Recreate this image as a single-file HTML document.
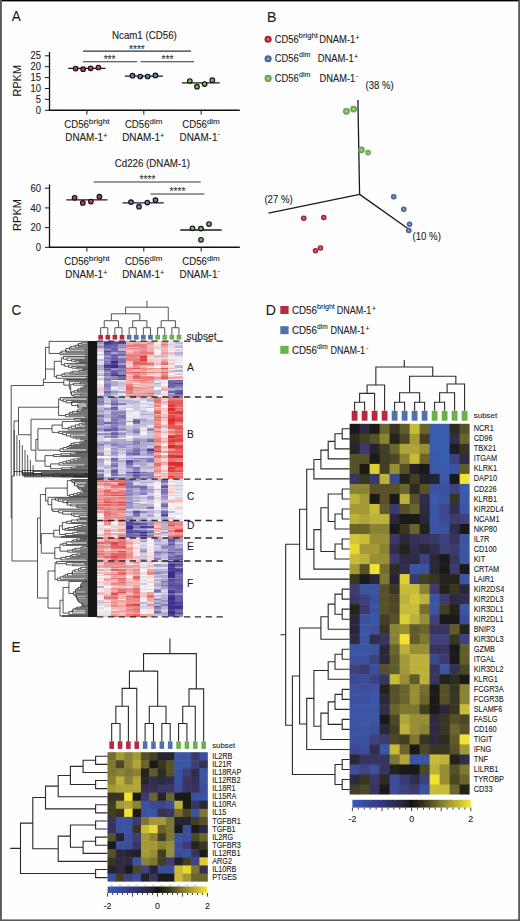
<!DOCTYPE html>
<html><head><meta charset="utf-8"><style>
html,body{margin:0;padding:0;background:#fff;}
svg{display:block;font-family:"Liberation Sans", sans-serif;}
text{stroke:#222;stroke-width:0.1px;}
</style></head><body>
<svg width="520" height="921" viewBox="0 0 520 921">
<rect width="520" height="921" fill="#fefefe"/>
<text x="11.80" y="21.40" font-size="14.5" textLength="9.0" lengthAdjust="spacingAndGlyphs" fill="#1a1a1a">A</text><text x="267.00" y="21.60" font-size="14.5" textLength="9.4" lengthAdjust="spacingAndGlyphs" fill="#1a1a1a">B</text><text x="11.50" y="314.80" font-size="14.5" textLength="9.8" lengthAdjust="spacingAndGlyphs" fill="#1a1a1a">C</text><text x="265.80" y="314.60" font-size="14.5" textLength="10.2" lengthAdjust="spacingAndGlyphs" fill="#1a1a1a">D</text><text x="11.40" y="652.00" font-size="14.5" textLength="9.0" lengthAdjust="spacingAndGlyphs" fill="#1a1a1a">E</text><line x1="49.50" y1="52.00" x2="49.50" y2="110.95" stroke="#111" stroke-width="1.3"/><line x1="48.85" y1="110.30" x2="239.80" y2="110.30" stroke="#111" stroke-width="1.4"/><line x1="44.90" y1="110.30" x2="49.50" y2="110.30" stroke="#1a1a1a" stroke-width="1"/><text x="35.75" y="113.95" font-size="10.4" textLength="5.25" lengthAdjust="spacingAndGlyphs" fill="#1a1a1a">0</text><line x1="44.90" y1="99.40" x2="49.50" y2="99.40" stroke="#1a1a1a" stroke-width="1"/><text x="35.75" y="103.05" font-size="10.4" textLength="5.25" lengthAdjust="spacingAndGlyphs" fill="#1a1a1a">5</text><line x1="44.90" y1="88.50" x2="49.50" y2="88.50" stroke="#1a1a1a" stroke-width="1"/><text x="30.50" y="92.15" font-size="10.4" textLength="10.5" lengthAdjust="spacingAndGlyphs" fill="#1a1a1a">10</text><line x1="44.90" y1="77.60" x2="49.50" y2="77.60" stroke="#1a1a1a" stroke-width="1"/><text x="30.50" y="81.25" font-size="10.4" textLength="10.5" lengthAdjust="spacingAndGlyphs" fill="#1a1a1a">15</text><line x1="44.90" y1="66.70" x2="49.50" y2="66.70" stroke="#1a1a1a" stroke-width="1"/><text x="30.50" y="70.35" font-size="10.4" textLength="10.5" lengthAdjust="spacingAndGlyphs" fill="#1a1a1a">20</text><line x1="44.90" y1="55.80" x2="49.50" y2="55.80" stroke="#1a1a1a" stroke-width="1"/><text x="30.50" y="59.45" font-size="10.4" textLength="10.5" lengthAdjust="spacingAndGlyphs" fill="#1a1a1a">25</text><line x1="86.90" y1="110.30" x2="86.90" y2="114.50" stroke="#1a1a1a" stroke-width="1"/><line x1="143.80" y1="110.30" x2="143.80" y2="114.50" stroke="#1a1a1a" stroke-width="1"/><line x1="201.20" y1="110.30" x2="201.20" y2="114.50" stroke="#1a1a1a" stroke-width="1"/><text x="0" y="0" font-size="11" text-anchor="middle" fill="#1a1a1a" transform="translate(20.6,80.80) rotate(-90)">RPKM</text><text x="64.30" y="127.65" font-size="10.0" textLength="24.7" lengthAdjust="spacingAndGlyphs" fill="#1a1a1a">CD56</text><text x="88.80" y="123.90" font-size="8.0" textLength="20.9" lengthAdjust="spacingAndGlyphs" fill="#1a1a1a">bright</text><text x="65.30" y="140.60" font-size="10.3" textLength="37.8" lengthAdjust="spacingAndGlyphs" fill="#1a1a1a">DNAM-1</text><text x="103.20" y="137.70" font-size="7.2" fill="#1a1a1a">+</text><text x="124.90" y="127.65" font-size="10.0" textLength="24.6" lengthAdjust="spacingAndGlyphs" fill="#1a1a1a">CD56</text><text x="149.50" y="123.90" font-size="8.0" textLength="12.9" lengthAdjust="spacingAndGlyphs" fill="#1a1a1a">dim</text><text x="122.20" y="140.60" font-size="10.3" textLength="37.8" lengthAdjust="spacingAndGlyphs" fill="#1a1a1a">DNAM-1</text><text x="160.10" y="137.70" font-size="7.2" fill="#1a1a1a">+</text><text x="182.30" y="127.65" font-size="10.0" textLength="24.6" lengthAdjust="spacingAndGlyphs" fill="#1a1a1a">CD56</text><text x="206.90" y="123.90" font-size="8.0" textLength="12.9" lengthAdjust="spacingAndGlyphs" fill="#1a1a1a">dim</text><text x="179.60" y="140.60" font-size="10.3" textLength="37.8" lengthAdjust="spacingAndGlyphs" fill="#1a1a1a">DNAM-1</text><text x="217.50" y="136.00" font-size="7.2" fill="#1a1a1a">-</text><text x="112.00" y="38.50" font-size="10.2" textLength="64.8" lengthAdjust="spacingAndGlyphs" fill="#1a1a1a">Ncam1 (CD56)</text><line x1="68.20" y1="68.30" x2="105.60" y2="68.30" stroke="#1a1a1a" stroke-width="1.3"/><line x1="124.80" y1="76.20" x2="162.90" y2="76.20" stroke="#1a1a1a" stroke-width="1.3"/><line x1="182.00" y1="82.90" x2="219.80" y2="82.90" stroke="#1a1a1a" stroke-width="1.3"/><circle cx="75.6" cy="68.6" r="2.3" fill="#c63c55" stroke="#111" stroke-width="1.15"/><circle cx="83.1" cy="69.2" r="2.3" fill="#c63c55" stroke="#111" stroke-width="1.15"/><circle cx="90.6" cy="68.3" r="2.3" fill="#c63c55" stroke="#111" stroke-width="1.15"/><circle cx="98.4" cy="67.5" r="2.3" fill="#c63c55" stroke="#111" stroke-width="1.15"/><circle cx="132.5" cy="75.7" r="2.3" fill="#5f82b9" stroke="#111" stroke-width="1.15"/><circle cx="140.2" cy="76.5" r="2.3" fill="#5f82b9" stroke="#111" stroke-width="1.15"/><circle cx="147.7" cy="76.5" r="2.3" fill="#5f82b9" stroke="#111" stroke-width="1.15"/><circle cx="155.4" cy="75.4" r="2.3" fill="#5f82b9" stroke="#111" stroke-width="1.15"/><circle cx="189.8" cy="81" r="2.3" fill="#6ebe5a" stroke="#111" stroke-width="1.15"/><circle cx="197" cy="86.7" r="2.3" fill="#6ebe5a" stroke="#111" stroke-width="1.15"/><circle cx="204.6" cy="84.1" r="2.3" fill="#6ebe5a" stroke="#111" stroke-width="1.15"/><circle cx="212.3" cy="80.2" r="2.3" fill="#6ebe5a" stroke="#111" stroke-width="1.15"/><line x1="83.00" y1="51.10" x2="191.00" y2="51.10" stroke="#333" stroke-width="1.1"/><line x1="83.00" y1="61.75" x2="137.00" y2="61.75" stroke="#333" stroke-width="1.1"/><line x1="140.75" y1="61.75" x2="194.00" y2="61.75" stroke="#333" stroke-width="1.1"/><text x="136.90" y="53.00" font-size="10.2" text-anchor="middle" fill="#333">****</text><text x="109.60" y="63.30" font-size="10.2" text-anchor="middle" fill="#333">***</text><text x="167.50" y="63.30" font-size="10.2" text-anchor="middle" fill="#333">***</text><line x1="49.50" y1="184.40" x2="49.50" y2="247.95" stroke="#111" stroke-width="1.3"/><line x1="48.85" y1="247.30" x2="239.80" y2="247.30" stroke="#111" stroke-width="1.4"/><line x1="44.90" y1="247.30" x2="49.50" y2="247.30" stroke="#1a1a1a" stroke-width="1"/><text x="35.75" y="250.95" font-size="10.4" textLength="5.25" lengthAdjust="spacingAndGlyphs" fill="#1a1a1a">0</text><line x1="44.90" y1="227.60" x2="49.50" y2="227.60" stroke="#1a1a1a" stroke-width="1"/><text x="30.50" y="231.25" font-size="10.4" textLength="10.5" lengthAdjust="spacingAndGlyphs" fill="#1a1a1a">20</text><line x1="44.90" y1="207.90" x2="49.50" y2="207.90" stroke="#1a1a1a" stroke-width="1"/><text x="30.50" y="211.55" font-size="10.4" textLength="10.5" lengthAdjust="spacingAndGlyphs" fill="#1a1a1a">40</text><line x1="44.90" y1="188.20" x2="49.50" y2="188.20" stroke="#1a1a1a" stroke-width="1"/><text x="30.50" y="191.85" font-size="10.4" textLength="10.5" lengthAdjust="spacingAndGlyphs" fill="#1a1a1a">60</text><line x1="86.90" y1="247.30" x2="86.90" y2="251.50" stroke="#1a1a1a" stroke-width="1"/><line x1="143.80" y1="247.30" x2="143.80" y2="251.50" stroke="#1a1a1a" stroke-width="1"/><line x1="201.20" y1="247.30" x2="201.20" y2="251.50" stroke="#1a1a1a" stroke-width="1"/><text x="0" y="0" font-size="11" text-anchor="middle" fill="#1a1a1a" transform="translate(20.6,215.00) rotate(-90)">RPKM</text><text x="64.30" y="264.65" font-size="10.0" textLength="24.7" lengthAdjust="spacingAndGlyphs" fill="#1a1a1a">CD56</text><text x="88.80" y="260.90" font-size="8.0" textLength="20.9" lengthAdjust="spacingAndGlyphs" fill="#1a1a1a">bright</text><text x="65.30" y="277.60" font-size="10.3" textLength="37.8" lengthAdjust="spacingAndGlyphs" fill="#1a1a1a">DNAM-1</text><text x="103.20" y="274.70" font-size="7.2" fill="#1a1a1a">+</text><text x="124.90" y="264.65" font-size="10.0" textLength="24.6" lengthAdjust="spacingAndGlyphs" fill="#1a1a1a">CD56</text><text x="149.50" y="260.90" font-size="8.0" textLength="12.9" lengthAdjust="spacingAndGlyphs" fill="#1a1a1a">dim</text><text x="122.20" y="277.60" font-size="10.3" textLength="37.8" lengthAdjust="spacingAndGlyphs" fill="#1a1a1a">DNAM-1</text><text x="160.10" y="274.70" font-size="7.2" fill="#1a1a1a">+</text><text x="182.30" y="264.65" font-size="10.0" textLength="24.6" lengthAdjust="spacingAndGlyphs" fill="#1a1a1a">CD56</text><text x="206.90" y="260.90" font-size="8.0" textLength="12.9" lengthAdjust="spacingAndGlyphs" fill="#1a1a1a">dim</text><text x="179.60" y="277.60" font-size="10.3" textLength="37.8" lengthAdjust="spacingAndGlyphs" fill="#1a1a1a">DNAM-1</text><text x="217.50" y="273.00" font-size="7.2" fill="#1a1a1a">-</text><text x="114.70" y="167.00" font-size="10.2" textLength="75.2" lengthAdjust="spacingAndGlyphs" fill="#1a1a1a">Cd226 (DNAM-1)</text><line x1="66.30" y1="199.80" x2="107.50" y2="199.80" stroke="#1a1a1a" stroke-width="1.3"/><line x1="122.50" y1="202.90" x2="163.80" y2="202.90" stroke="#1a1a1a" stroke-width="1.3"/><line x1="180.20" y1="230.00" x2="221.70" y2="230.00" stroke="#1a1a1a" stroke-width="1.3"/><circle cx="74.6" cy="197.8" r="2.3" fill="#c63c55" stroke="#111" stroke-width="1.15"/><circle cx="82.8" cy="202.9" r="2.3" fill="#c63c55" stroke="#111" stroke-width="1.15"/><circle cx="90.9" cy="201.5" r="2.3" fill="#c63c55" stroke="#111" stroke-width="1.15"/><circle cx="99.4" cy="196.7" r="2.3" fill="#c63c55" stroke="#111" stroke-width="1.15"/><circle cx="131" cy="202.1" r="2.3" fill="#5f82b9" stroke="#111" stroke-width="1.15"/><circle cx="139" cy="206.7" r="2.3" fill="#5f82b9" stroke="#111" stroke-width="1.15"/><circle cx="147.3" cy="202.5" r="2.3" fill="#5f82b9" stroke="#111" stroke-width="1.15"/><circle cx="155.5" cy="200.1" r="2.3" fill="#5f82b9" stroke="#111" stroke-width="1.15"/><circle cx="192.5" cy="228.3" r="2.3" fill="#6ebe5a" stroke="#111" stroke-width="1.15"/><circle cx="201" cy="228.6" r="2.3" fill="#6ebe5a" stroke="#111" stroke-width="1.15"/><circle cx="209" cy="224" r="2.3" fill="#6ebe5a" stroke="#111" stroke-width="1.15"/><circle cx="201" cy="239.8" r="2.3" fill="#6ebe5a" stroke="#111" stroke-width="1.15"/><line x1="93.75" y1="182.00" x2="200.75" y2="182.00" stroke="#333" stroke-width="1.1"/><line x1="150.50" y1="194.00" x2="204.25" y2="194.00" stroke="#333" stroke-width="1.1"/><text x="147.50" y="183.30" font-size="10.2" text-anchor="middle" fill="#333">****</text><text x="177.50" y="194.80" font-size="10.2" text-anchor="middle" fill="#333">****</text><defs><radialGradient id="gr" cx="0.5" cy="0.5" r="0.5"><stop offset="0" stop-color="#d49a9a"/><stop offset="0.5" stop-color="#b52a42"/><stop offset="1" stop-color="#9c1a32"/></radialGradient><radialGradient id="gb" cx="0.5" cy="0.5" r="0.5"><stop offset="0" stop-color="#a8b8d8"/><stop offset="0.5" stop-color="#4f6fa5"/><stop offset="1" stop-color="#3d5a90"/></radialGradient><radialGradient id="gg" cx="0.5" cy="0.5" r="0.5"><stop offset="0" stop-color="#c4e2b4"/><stop offset="0.5" stop-color="#72b25a"/><stop offset="1" stop-color="#5a9a44"/></radialGradient></defs><circle cx="268.1" cy="39.2" r="3.55" fill="url(#gr)"/><text x="274.80" y="42.60" font-size="10.0" textLength="23.9" lengthAdjust="spacingAndGlyphs" fill="#1a1a1a">CD56</text><text x="298.60" y="37.60" font-size="7.8" textLength="19.299999999999997" lengthAdjust="spacingAndGlyphs" fill="#1a1a1a">bright</text><text x="319.20" y="42.60" font-size="10.0" textLength="36.099999999999994" lengthAdjust="spacingAndGlyphs" fill="#1a1a1a">DNAM-1</text><text x="355.60" y="39.80" font-size="7.0" fill="#1a1a1a">+</text><circle cx="268.1" cy="58.8" r="3.55" fill="url(#gb)"/><text x="274.80" y="62.20" font-size="10.0" textLength="23.9" lengthAdjust="spacingAndGlyphs" fill="#1a1a1a">CD56</text><text x="299.00" y="57.20" font-size="7.8" textLength="11.4" lengthAdjust="spacingAndGlyphs" fill="#1a1a1a">dim</text><text x="317.70" y="62.20" font-size="10.0" textLength="36.0" lengthAdjust="spacingAndGlyphs" fill="#1a1a1a">DNAM-1</text><text x="354.00" y="59.40" font-size="7.0" fill="#1a1a1a">+</text><circle cx="268.1" cy="78.4" r="3.55" fill="url(#gg)"/><text x="274.80" y="81.80" font-size="10.0" textLength="23.9" lengthAdjust="spacingAndGlyphs" fill="#1a1a1a">CD56</text><text x="299.00" y="76.80" font-size="7.8" textLength="11.4" lengthAdjust="spacingAndGlyphs" fill="#1a1a1a">dim</text><text x="319.60" y="81.80" font-size="10.0" textLength="35.599999999999994" lengthAdjust="spacingAndGlyphs" fill="#1a1a1a">DNAM-1</text><text x="356.00" y="78.00" font-size="7.0" fill="#1a1a1a">-</text><line x1="359.60" y1="194.40" x2="357.90" y2="100.10" stroke="#1a1a1a" stroke-width="1.3"/><line x1="359.60" y1="194.40" x2="268.50" y2="213.20" stroke="#1a1a1a" stroke-width="1.3"/><line x1="359.60" y1="194.40" x2="407.50" y2="228.20" stroke="#1a1a1a" stroke-width="1.3"/><text x="365.60" y="89.30" font-size="10.5" textLength="28.2" lengthAdjust="spacingAndGlyphs" fill="#1a1a1a">(38 %)</text><text x="264.40" y="202.80" font-size="10.5" textLength="28.4" lengthAdjust="spacingAndGlyphs" fill="#1a1a1a">(27 %)</text><text x="412.50" y="240.10" font-size="10.5" textLength="28.4" lengthAdjust="spacingAndGlyphs" fill="#1a1a1a">(10 %)</text><circle cx="346.4" cy="111.3" r="3.4" fill="url(#gg)"/><circle cx="353.6" cy="109.1" r="3.4" fill="url(#gg)"/><circle cx="361.4" cy="149.9" r="3.3" fill="url(#gg)"/><circle cx="368.1" cy="152.6" r="2.8" fill="url(#gg)"/><circle cx="393.75" cy="196.75" r="2.8" fill="url(#gb)"/><circle cx="403.75" cy="209.25" r="2.8" fill="url(#gb)"/><circle cx="409.5" cy="224.25" r="2.8" fill="url(#gb)"/><circle cx="408.75" cy="230.5" r="2.8" fill="url(#gb)"/><circle cx="303.75" cy="218.25" r="2.8" fill="url(#gr)"/><circle cx="323.75" cy="217.5" r="2.8" fill="url(#gr)"/><circle cx="315.5" cy="250.75" r="2.8" fill="url(#gr)"/><circle cx="320.5" cy="248" r="2.8" fill="url(#gr)"/><polyline points="100.66,334.90 100.66,327.70 107.78,327.70 107.78,334.90" fill="none" stroke="#555" stroke-width="1"/><polyline points="114.89,334.90 114.89,327.70 122.01,327.70 122.01,334.90" fill="none" stroke="#555" stroke-width="1"/><polyline points="129.13,334.90 129.13,327.70 136.24,327.70 136.24,334.90" fill="none" stroke="#555" stroke-width="1"/><polyline points="143.36,334.90 143.36,327.70 150.48,327.70 150.48,334.90" fill="none" stroke="#555" stroke-width="1"/><polyline points="157.59,334.90 157.59,327.70 164.71,327.70 164.71,334.90" fill="none" stroke="#555" stroke-width="1"/><polyline points="171.83,334.90 171.83,327.70 178.95,327.70 178.95,334.90" fill="none" stroke="#555" stroke-width="1"/><polyline points="104.22,327.70 104.22,320.70 118.45,320.70 118.45,327.70" fill="none" stroke="#555" stroke-width="1"/><polyline points="132.69,327.70 132.69,320.70 146.92,320.70 146.92,327.70" fill="none" stroke="#555" stroke-width="1"/><polyline points="161.15,327.70 161.15,320.70 175.39,320.70 175.39,327.70" fill="none" stroke="#555" stroke-width="1"/><polyline points="111.33,320.70 111.33,313.80 139.80,313.80 139.80,320.70" fill="none" stroke="#555" stroke-width="1"/><polyline points="125.57,313.80 125.57,307.20 168.27,307.20 168.27,320.70" fill="none" stroke="#555" stroke-width="1"/><line x1="146.92" y1="300.80" x2="146.92" y2="307.20" stroke="#555" stroke-width="1"/><rect x="98.31" y="334.90" width="4.70" height="4.70" fill="#b8283e"/><rect x="105.43" y="334.90" width="4.70" height="4.70" fill="#b8283e"/><rect x="112.54" y="334.90" width="4.70" height="4.70" fill="#b8283e"/><rect x="119.66" y="334.90" width="4.70" height="4.70" fill="#b8283e"/><rect x="126.78" y="334.90" width="4.70" height="4.70" fill="#4f73a8"/><rect x="133.89" y="334.90" width="4.70" height="4.70" fill="#4f73a8"/><rect x="141.01" y="334.90" width="4.70" height="4.70" fill="#4f73a8"/><rect x="148.13" y="334.90" width="4.70" height="4.70" fill="#4f73a8"/><rect x="155.24" y="334.90" width="4.70" height="4.70" fill="#6ab04c"/><rect x="162.36" y="334.90" width="4.70" height="4.70" fill="#6ab04c"/><rect x="169.48" y="334.90" width="4.70" height="4.70" fill="#6ab04c"/><rect x="176.60" y="334.90" width="4.70" height="4.70" fill="#6ab04c"/><text x="186.50" y="340.00" font-size="10.2" fill="#1a1a1a">subset</text><g shape-rendering="crispEdges"><rect x="97.10" y="341.00" width="7.17" height="1.45" fill="#c1bbda"/><rect x="104.22" y="341.00" width="7.17" height="1.45" fill="#6d62a8"/><rect x="111.33" y="341.00" width="7.17" height="1.45" fill="#8980b9"/><rect x="118.45" y="341.00" width="7.17" height="1.45" fill="#938bbf"/><rect x="125.57" y="341.00" width="7.17" height="1.45" fill="#ec8e8e"/><rect x="132.69" y="341.00" width="7.17" height="1.45" fill="#ec8e8e"/><rect x="139.80" y="341.00" width="7.17" height="1.45" fill="#eb8888"/><rect x="146.92" y="341.00" width="7.17" height="1.45" fill="#ee9e9e"/><rect x="154.04" y="341.00" width="7.17" height="1.45" fill="#e3e0ef"/><rect x="161.15" y="341.00" width="7.17" height="1.45" fill="#ee9d9d"/><rect x="168.27" y="341.00" width="7.17" height="1.45" fill="#f8ebeb"/><rect x="175.39" y="341.00" width="7.17" height="1.45" fill="#edeaf4"/><rect x="97.10" y="342.40" width="7.17" height="1.45" fill="#a29bc8"/><rect x="104.22" y="342.40" width="7.17" height="1.45" fill="#40328d"/><rect x="111.33" y="342.40" width="7.17" height="1.45" fill="#594d9d"/><rect x="118.45" y="342.40" width="7.17" height="1.45" fill="#524698"/><rect x="125.57" y="342.40" width="7.17" height="1.45" fill="#f0aeae"/><rect x="132.69" y="342.40" width="7.17" height="1.45" fill="#efa4a4"/><rect x="139.80" y="342.40" width="7.17" height="1.45" fill="#f1b6b6"/><rect x="146.92" y="342.40" width="7.17" height="1.45" fill="#ec9595"/><rect x="154.04" y="342.40" width="7.17" height="1.45" fill="#eeebf5"/><rect x="161.15" y="342.40" width="7.17" height="1.45" fill="#ee9f9f"/><rect x="168.27" y="342.40" width="7.17" height="1.45" fill="#e1dded"/><rect x="175.39" y="342.40" width="7.17" height="1.45" fill="#c5c0dd"/><rect x="97.10" y="343.80" width="7.17" height="1.45" fill="#c0bbda"/><rect x="104.22" y="343.80" width="7.17" height="1.45" fill="#524699"/><rect x="111.33" y="343.80" width="7.17" height="1.45" fill="#695ea6"/><rect x="118.45" y="343.80" width="7.17" height="1.45" fill="#968ec1"/><rect x="125.57" y="343.80" width="7.17" height="1.45" fill="#efa3a3"/><rect x="132.69" y="343.80" width="7.17" height="1.45" fill="#e97d7d"/><rect x="139.80" y="343.80" width="7.17" height="1.45" fill="#ea8181"/><rect x="146.92" y="343.80" width="7.17" height="1.45" fill="#efa4a4"/><rect x="154.04" y="343.80" width="7.17" height="1.45" fill="#f7e5e5"/><rect x="161.15" y="343.80" width="7.17" height="1.45" fill="#e97979"/><rect x="168.27" y="343.80" width="7.17" height="1.45" fill="#d3cfe5"/><rect x="175.39" y="343.80" width="7.17" height="1.45" fill="#ddd9eb"/><rect x="97.10" y="345.20" width="7.17" height="1.45" fill="#a098c7"/><rect x="104.22" y="345.20" width="7.17" height="1.45" fill="#685da5"/><rect x="111.33" y="345.20" width="7.17" height="1.45" fill="#7065aa"/><rect x="118.45" y="345.20" width="7.17" height="1.45" fill="#9991c2"/><rect x="125.57" y="345.20" width="7.17" height="1.45" fill="#e97d7d"/><rect x="132.69" y="345.20" width="7.17" height="1.45" fill="#e97a7a"/><rect x="139.80" y="345.20" width="7.17" height="1.45" fill="#ea7f7f"/><rect x="146.92" y="345.20" width="7.17" height="1.45" fill="#f2baba"/><rect x="154.04" y="345.20" width="7.17" height="1.45" fill="#f6d8d8"/><rect x="161.15" y="345.20" width="7.17" height="1.45" fill="#eea0a0"/><rect x="168.27" y="345.20" width="7.17" height="1.45" fill="#dfdcec"/><rect x="175.39" y="345.20" width="7.17" height="1.45" fill="#c7c2de"/><rect x="97.10" y="346.60" width="7.17" height="1.45" fill="#8d85bc"/><rect x="104.22" y="346.60" width="7.17" height="1.45" fill="#6458a3"/><rect x="111.33" y="346.60" width="7.17" height="1.45" fill="#8177b4"/><rect x="118.45" y="346.60" width="7.17" height="1.45" fill="#9087bd"/><rect x="125.57" y="346.60" width="7.17" height="1.45" fill="#f1b6b6"/><rect x="132.69" y="346.60" width="7.17" height="1.45" fill="#f1b9b9"/><rect x="139.80" y="346.60" width="7.17" height="1.45" fill="#e97979"/><rect x="146.92" y="346.60" width="7.17" height="1.45" fill="#f1b8b8"/><rect x="154.04" y="346.60" width="7.17" height="1.45" fill="#d6d1e6"/><rect x="161.15" y="346.60" width="7.17" height="1.45" fill="#f1b6b6"/><rect x="168.27" y="346.60" width="7.17" height="1.45" fill="#e3dfee"/><rect x="175.39" y="346.60" width="7.17" height="1.45" fill="#b6b0d4"/><rect x="97.10" y="348.00" width="7.17" height="1.45" fill="#ccc7e1"/><rect x="104.22" y="348.00" width="7.17" height="1.45" fill="#867db7"/><rect x="111.33" y="348.00" width="7.17" height="1.45" fill="#685da5"/><rect x="118.45" y="348.00" width="7.17" height="1.45" fill="#b8b2d5"/><rect x="125.57" y="348.00" width="7.17" height="1.45" fill="#e97e7e"/><rect x="132.69" y="348.00" width="7.17" height="1.45" fill="#ea8181"/><rect x="139.80" y="348.00" width="7.17" height="1.45" fill="#ed9898"/><rect x="146.92" y="348.00" width="7.17" height="1.45" fill="#eea2a2"/><rect x="154.04" y="348.00" width="7.17" height="1.45" fill="#f4cdcd"/><rect x="161.15" y="348.00" width="7.17" height="1.45" fill="#f1b8b8"/><rect x="168.27" y="348.00" width="7.17" height="1.45" fill="#f7e4e4"/><rect x="175.39" y="348.00" width="7.17" height="1.45" fill="#f9eeee"/><rect x="97.10" y="349.40" width="7.17" height="1.45" fill="#d7d3e7"/><rect x="104.22" y="349.40" width="7.17" height="1.45" fill="#8a81b9"/><rect x="111.33" y="349.40" width="7.17" height="1.45" fill="#7065aa"/><rect x="118.45" y="349.40" width="7.17" height="1.45" fill="#bab4d6"/><rect x="125.57" y="349.40" width="7.17" height="1.45" fill="#f1b3b3"/><rect x="132.69" y="349.40" width="7.17" height="1.45" fill="#efa6a6"/><rect x="139.80" y="349.40" width="7.17" height="1.45" fill="#ec8f8f"/><rect x="146.92" y="349.40" width="7.17" height="1.45" fill="#f1b3b3"/><rect x="154.04" y="349.40" width="7.17" height="1.45" fill="#efecf5"/><rect x="161.15" y="349.40" width="7.17" height="1.45" fill="#f1b3b3"/><rect x="168.27" y="349.40" width="7.17" height="1.45" fill="#f7e1e1"/><rect x="175.39" y="349.40" width="7.17" height="1.45" fill="#d6d2e7"/><rect x="97.10" y="350.80" width="7.17" height="1.45" fill="#ddd9eb"/><rect x="104.22" y="350.80" width="7.17" height="1.45" fill="#514498"/><rect x="111.33" y="350.80" width="7.17" height="1.45" fill="#746aad"/><rect x="118.45" y="350.80" width="7.17" height="1.45" fill="#7066aa"/><rect x="125.57" y="350.80" width="7.17" height="1.45" fill="#f4caca"/><rect x="132.69" y="350.80" width="7.17" height="1.45" fill="#ed9b9b"/><rect x="139.80" y="350.80" width="7.17" height="1.45" fill="#ea8282"/><rect x="146.92" y="350.80" width="7.17" height="1.45" fill="#eea3a3"/><rect x="154.04" y="350.80" width="7.17" height="1.45" fill="#faf8f8"/><rect x="161.15" y="350.80" width="7.17" height="1.45" fill="#f1b7b7"/><rect x="168.27" y="350.80" width="7.17" height="1.45" fill="#f9f1f1"/><rect x="175.39" y="350.80" width="7.17" height="1.45" fill="#e1dded"/><rect x="97.10" y="352.20" width="7.17" height="1.45" fill="#f1eff7"/><rect x="104.22" y="352.20" width="7.17" height="1.45" fill="#766cae"/><rect x="111.33" y="352.20" width="7.17" height="1.45" fill="#a69fca"/><rect x="118.45" y="352.20" width="7.17" height="1.45" fill="#8d84bb"/><rect x="125.57" y="352.20" width="7.17" height="1.45" fill="#f0afaf"/><rect x="132.69" y="352.20" width="7.17" height="1.45" fill="#eb8d8d"/><rect x="139.80" y="352.20" width="7.17" height="1.45" fill="#e87777"/><rect x="146.92" y="352.20" width="7.17" height="1.45" fill="#e97b7b"/><rect x="154.04" y="352.20" width="7.17" height="1.45" fill="#f8ecec"/><rect x="161.15" y="352.20" width="7.17" height="1.45" fill="#ee9e9e"/><rect x="168.27" y="352.20" width="7.17" height="1.45" fill="#f2bebe"/><rect x="175.39" y="352.20" width="7.17" height="1.45" fill="#b7b1d4"/><rect x="97.10" y="353.60" width="7.17" height="1.45" fill="#cdc9e2"/><rect x="104.22" y="353.60" width="7.17" height="1.45" fill="#756bad"/><rect x="111.33" y="353.60" width="7.17" height="1.45" fill="#857cb7"/><rect x="118.45" y="353.60" width="7.17" height="1.45" fill="#746aac"/><rect x="125.57" y="353.60" width="7.17" height="1.45" fill="#e97b7b"/><rect x="132.69" y="353.60" width="7.17" height="1.45" fill="#ec9090"/><rect x="139.80" y="353.60" width="7.17" height="1.45" fill="#ed9898"/><rect x="146.92" y="353.60" width="7.17" height="1.45" fill="#ed9999"/><rect x="154.04" y="353.60" width="7.17" height="1.45" fill="#faf6f6"/><rect x="161.15" y="353.60" width="7.17" height="1.45" fill="#f0aeae"/><rect x="168.27" y="353.60" width="7.17" height="1.45" fill="#d7d3e7"/><rect x="175.39" y="353.60" width="7.17" height="1.45" fill="#bdb7d8"/><rect x="97.10" y="355.00" width="7.17" height="1.45" fill="#e2deee"/><rect x="104.22" y="355.00" width="7.17" height="1.45" fill="#9289be"/><rect x="111.33" y="355.00" width="7.17" height="1.45" fill="#564a9b"/><rect x="118.45" y="355.00" width="7.17" height="1.45" fill="#776cae"/><rect x="125.57" y="355.00" width="7.17" height="1.45" fill="#ea8585"/><rect x="132.69" y="355.00" width="7.17" height="1.45" fill="#e87171"/><rect x="139.80" y="355.00" width="7.17" height="1.45" fill="#e76969"/><rect x="146.92" y="355.00" width="7.17" height="1.45" fill="#f3c8c8"/><rect x="154.04" y="355.00" width="7.17" height="1.45" fill="#f1b4b4"/><rect x="161.15" y="355.00" width="7.17" height="1.45" fill="#f0adad"/><rect x="168.27" y="355.00" width="7.17" height="1.45" fill="#f6d7d7"/><rect x="175.39" y="355.00" width="7.17" height="1.45" fill="#d1cde4"/><rect x="97.10" y="356.40" width="7.17" height="1.45" fill="#f9f3f3"/><rect x="104.22" y="356.40" width="7.17" height="1.45" fill="#978fc1"/><rect x="111.33" y="356.40" width="7.17" height="1.45" fill="#746aad"/><rect x="118.45" y="356.40" width="7.17" height="1.45" fill="#b3add2"/><rect x="125.57" y="356.40" width="7.17" height="1.45" fill="#ea8080"/><rect x="132.69" y="356.40" width="7.17" height="1.45" fill="#eb8c8c"/><rect x="139.80" y="356.40" width="7.17" height="1.45" fill="#e14141"/><rect x="146.92" y="356.40" width="7.17" height="1.45" fill="#f5d1d1"/><rect x="154.04" y="356.40" width="7.17" height="1.45" fill="#f2bfbf"/><rect x="161.15" y="356.40" width="7.17" height="1.45" fill="#f1b9b9"/><rect x="168.27" y="356.40" width="7.17" height="1.45" fill="#f8e8e8"/><rect x="175.39" y="356.40" width="7.17" height="1.45" fill="#e5e1ef"/><rect x="97.10" y="357.80" width="7.17" height="1.45" fill="#f7f4fa"/><rect x="104.22" y="357.80" width="7.17" height="1.45" fill="#7065aa"/><rect x="111.33" y="357.80" width="7.17" height="1.45" fill="#5d529f"/><rect x="118.45" y="357.80" width="7.17" height="1.45" fill="#8076b3"/><rect x="125.57" y="357.80" width="7.17" height="1.45" fill="#eb8787"/><rect x="132.69" y="357.80" width="7.17" height="1.45" fill="#ec8f8f"/><rect x="139.80" y="357.80" width="7.17" height="1.45" fill="#e45757"/><rect x="146.92" y="357.80" width="7.17" height="1.45" fill="#f7dfdf"/><rect x="154.04" y="357.80" width="7.17" height="1.45" fill="#f8e6e6"/><rect x="161.15" y="357.80" width="7.17" height="1.45" fill="#f7e0e0"/><rect x="168.27" y="357.80" width="7.17" height="1.45" fill="#f9f0f0"/><rect x="175.39" y="357.80" width="7.17" height="1.45" fill="#f5f2f9"/><rect x="97.10" y="359.20" width="7.17" height="1.45" fill="#bfb9d9"/><rect x="104.22" y="359.20" width="7.17" height="1.45" fill="#9289be"/><rect x="111.33" y="359.20" width="7.17" height="1.45" fill="#695ea6"/><rect x="118.45" y="359.20" width="7.17" height="1.45" fill="#7b72b1"/><rect x="125.57" y="359.20" width="7.17" height="1.45" fill="#e97d7d"/><rect x="132.69" y="359.20" width="7.17" height="1.45" fill="#e97878"/><rect x="139.80" y="359.20" width="7.17" height="1.45" fill="#e14242"/><rect x="146.92" y="359.20" width="7.17" height="1.45" fill="#f3c8c8"/><rect x="154.04" y="359.20" width="7.17" height="1.45" fill="#f4cfcf"/><rect x="161.15" y="359.20" width="7.17" height="1.45" fill="#efa6a6"/><rect x="168.27" y="359.20" width="7.17" height="1.45" fill="#f5d3d3"/><rect x="175.39" y="359.20" width="7.17" height="1.45" fill="#e7e4f1"/><rect x="97.10" y="360.60" width="7.17" height="1.45" fill="#e6e3f0"/><rect x="104.22" y="360.60" width="7.17" height="1.45" fill="#7a70b0"/><rect x="111.33" y="360.60" width="7.17" height="1.45" fill="#3a2c8a"/><rect x="118.45" y="360.60" width="7.17" height="1.45" fill="#796eaf"/><rect x="125.57" y="360.60" width="7.17" height="1.45" fill="#f3c1c1"/><rect x="132.69" y="360.60" width="7.17" height="1.45" fill="#e97a7a"/><rect x="139.80" y="360.60" width="7.17" height="1.45" fill="#e66868"/><rect x="146.92" y="360.60" width="7.17" height="1.45" fill="#f4c9c9"/><rect x="154.04" y="360.60" width="7.17" height="1.45" fill="#f6dada"/><rect x="161.15" y="360.60" width="7.17" height="1.45" fill="#ed9595"/><rect x="168.27" y="360.60" width="7.17" height="1.45" fill="#f7e0e0"/><rect x="175.39" y="360.60" width="7.17" height="1.45" fill="#f9eded"/><rect x="97.10" y="362.00" width="7.17" height="1.45" fill="#d8d4e8"/><rect x="104.22" y="362.00" width="7.17" height="1.45" fill="#9188be"/><rect x="111.33" y="362.00" width="7.17" height="1.45" fill="#3a2c8a"/><rect x="118.45" y="362.00" width="7.17" height="1.45" fill="#7369ac"/><rect x="125.57" y="362.00" width="7.17" height="1.45" fill="#f3c4c4"/><rect x="132.69" y="362.00" width="7.17" height="1.45" fill="#e45353"/><rect x="139.80" y="362.00" width="7.17" height="1.45" fill="#e97d7d"/><rect x="146.92" y="362.00" width="7.17" height="1.45" fill="#ed9a9a"/><rect x="154.04" y="362.00" width="7.17" height="1.45" fill="#f4c8c8"/><rect x="161.15" y="362.00" width="7.17" height="1.45" fill="#ea8585"/><rect x="168.27" y="362.00" width="7.17" height="1.45" fill="#f6dbdb"/><rect x="175.39" y="362.00" width="7.17" height="1.45" fill="#f6dcdc"/><rect x="97.10" y="363.40" width="7.17" height="1.45" fill="#dfdbec"/><rect x="104.22" y="363.40" width="7.17" height="1.45" fill="#7369ac"/><rect x="111.33" y="363.40" width="7.17" height="1.45" fill="#55499a"/><rect x="118.45" y="363.40" width="7.17" height="1.45" fill="#a29bc8"/><rect x="125.57" y="363.40" width="7.17" height="1.45" fill="#f3c4c4"/><rect x="132.69" y="363.40" width="7.17" height="1.45" fill="#e76a6a"/><rect x="139.80" y="363.40" width="7.17" height="1.45" fill="#e45959"/><rect x="146.92" y="363.40" width="7.17" height="1.45" fill="#e87676"/><rect x="154.04" y="363.40" width="7.17" height="1.45" fill="#f2bcbc"/><rect x="161.15" y="363.40" width="7.17" height="1.45" fill="#e76b6b"/><rect x="168.27" y="363.40" width="7.17" height="1.45" fill="#f3c8c8"/><rect x="175.39" y="363.40" width="7.17" height="1.45" fill="#f9f4f4"/><rect x="97.10" y="364.80" width="7.17" height="1.45" fill="#9f98c6"/><rect x="104.22" y="364.80" width="7.17" height="1.45" fill="#3b2d8b"/><rect x="111.33" y="364.80" width="7.17" height="1.45" fill="#3a2c8a"/><rect x="118.45" y="364.80" width="7.17" height="1.45" fill="#6d62a8"/><rect x="125.57" y="364.80" width="7.17" height="1.45" fill="#f7e1e1"/><rect x="132.69" y="364.80" width="7.17" height="1.45" fill="#eb8989"/><rect x="139.80" y="364.80" width="7.17" height="1.45" fill="#f2bcbc"/><rect x="146.92" y="364.80" width="7.17" height="1.45" fill="#ed9696"/><rect x="154.04" y="364.80" width="7.17" height="1.45" fill="#e8e4f1"/><rect x="161.15" y="364.80" width="7.17" height="1.45" fill="#f7e3e3"/><rect x="168.27" y="364.80" width="7.17" height="1.45" fill="#f9f7fc"/><rect x="175.39" y="364.80" width="7.17" height="1.45" fill="#c3bedb"/><rect x="97.10" y="366.20" width="7.17" height="1.45" fill="#b0aad0"/><rect x="104.22" y="366.20" width="7.17" height="1.45" fill="#4c3f95"/><rect x="111.33" y="366.20" width="7.17" height="1.45" fill="#3b2d8a"/><rect x="118.45" y="366.20" width="7.17" height="1.45" fill="#685da5"/><rect x="125.57" y="366.20" width="7.17" height="1.45" fill="#f1b6b6"/><rect x="132.69" y="366.20" width="7.17" height="1.45" fill="#ec9191"/><rect x="139.80" y="366.20" width="7.17" height="1.45" fill="#f0adad"/><rect x="146.92" y="366.20" width="7.17" height="1.45" fill="#f6dddd"/><rect x="154.04" y="366.20" width="7.17" height="1.45" fill="#faf7f7"/><rect x="161.15" y="366.20" width="7.17" height="1.45" fill="#f2bdbd"/><rect x="168.27" y="366.20" width="7.17" height="1.45" fill="#e4e1ef"/><rect x="175.39" y="366.20" width="7.17" height="1.45" fill="#b9b3d6"/><rect x="97.10" y="367.60" width="7.17" height="1.45" fill="#beb9d9"/><rect x="104.22" y="367.60" width="7.17" height="1.45" fill="#7d73b2"/><rect x="111.33" y="367.60" width="7.17" height="1.45" fill="#8d85bc"/><rect x="118.45" y="367.60" width="7.17" height="1.45" fill="#867db7"/><rect x="125.57" y="367.60" width="7.17" height="1.45" fill="#e87474"/><rect x="132.69" y="367.60" width="7.17" height="1.45" fill="#e35050"/><rect x="139.80" y="367.60" width="7.17" height="1.45" fill="#ea8686"/><rect x="146.92" y="367.60" width="7.17" height="1.45" fill="#ec9494"/><rect x="154.04" y="367.60" width="7.17" height="1.45" fill="#ed9a9a"/><rect x="161.15" y="367.60" width="7.17" height="1.45" fill="#e45454"/><rect x="168.27" y="367.60" width="7.17" height="1.45" fill="#f1b4b4"/><rect x="175.39" y="367.60" width="7.17" height="1.45" fill="#f6dcdc"/><rect x="97.10" y="369.00" width="7.17" height="1.45" fill="#a69eca"/><rect x="104.22" y="369.00" width="7.17" height="1.45" fill="#544799"/><rect x="111.33" y="369.00" width="7.17" height="1.45" fill="#a69fca"/><rect x="118.45" y="369.00" width="7.17" height="1.45" fill="#8f86bc"/><rect x="125.57" y="369.00" width="7.17" height="1.45" fill="#eb8a8a"/><rect x="132.69" y="369.00" width="7.17" height="1.45" fill="#f1b9b9"/><rect x="139.80" y="369.00" width="7.17" height="1.45" fill="#eb8989"/><rect x="146.92" y="369.00" width="7.17" height="1.45" fill="#ee9c9c"/><rect x="154.04" y="369.00" width="7.17" height="1.45" fill="#f3c1c1"/><rect x="161.15" y="369.00" width="7.17" height="1.45" fill="#ee9d9d"/><rect x="168.27" y="369.00" width="7.17" height="1.45" fill="#f7f4fa"/><rect x="175.39" y="369.00" width="7.17" height="1.45" fill="#e4e1ef"/><rect x="97.10" y="370.40" width="7.17" height="1.45" fill="#d7d3e7"/><rect x="104.22" y="370.40" width="7.17" height="1.45" fill="#877db7"/><rect x="111.33" y="370.40" width="7.17" height="1.45" fill="#6c61a8"/><rect x="118.45" y="370.40" width="7.17" height="1.45" fill="#7c72b1"/><rect x="125.57" y="370.40" width="7.17" height="1.45" fill="#eea2a2"/><rect x="132.69" y="370.40" width="7.17" height="1.45" fill="#f1b3b3"/><rect x="139.80" y="370.40" width="7.17" height="1.45" fill="#efa6a6"/><rect x="146.92" y="370.40" width="7.17" height="1.45" fill="#f3c6c6"/><rect x="154.04" y="370.40" width="7.17" height="1.45" fill="#f2bebe"/><rect x="161.15" y="370.40" width="7.17" height="1.45" fill="#efa8a8"/><rect x="168.27" y="370.40" width="7.17" height="1.45" fill="#c9c3df"/><rect x="175.39" y="370.40" width="7.17" height="1.45" fill="#b0a9d0"/><rect x="97.10" y="371.80" width="7.17" height="1.45" fill="#e7e3f0"/><rect x="104.22" y="371.80" width="7.17" height="1.45" fill="#a59dc9"/><rect x="111.33" y="371.80" width="7.17" height="1.45" fill="#6459a3"/><rect x="118.45" y="371.80" width="7.17" height="1.45" fill="#978ec1"/><rect x="125.57" y="371.80" width="7.17" height="1.45" fill="#e76969"/><rect x="132.69" y="371.80" width="7.17" height="1.45" fill="#e55b5b"/><rect x="139.80" y="371.80" width="7.17" height="1.45" fill="#e77070"/><rect x="146.92" y="371.80" width="7.17" height="1.45" fill="#e97b7b"/><rect x="154.04" y="371.80" width="7.17" height="1.45" fill="#ec9494"/><rect x="161.15" y="371.80" width="7.17" height="1.45" fill="#e76e6e"/><rect x="168.27" y="371.80" width="7.17" height="1.45" fill="#f4cece"/><rect x="175.39" y="371.80" width="7.17" height="1.45" fill="#f9f2f2"/><rect x="97.10" y="373.20" width="7.17" height="1.45" fill="#c5c0dc"/><rect x="104.22" y="373.20" width="7.17" height="1.45" fill="#8076b3"/><rect x="111.33" y="373.20" width="7.17" height="1.45" fill="#5d519f"/><rect x="118.45" y="373.20" width="7.17" height="1.45" fill="#887fb8"/><rect x="125.57" y="373.20" width="7.17" height="1.45" fill="#ee9f9f"/><rect x="132.69" y="373.20" width="7.17" height="1.45" fill="#eb8b8b"/><rect x="139.80" y="373.20" width="7.17" height="1.45" fill="#ed9b9b"/><rect x="146.92" y="373.20" width="7.17" height="1.45" fill="#f3c3c3"/><rect x="154.04" y="373.20" width="7.17" height="1.45" fill="#f5d2d2"/><rect x="161.15" y="373.20" width="7.17" height="1.45" fill="#ec9393"/><rect x="168.27" y="373.20" width="7.17" height="1.45" fill="#faf5f5"/><rect x="175.39" y="373.20" width="7.17" height="1.45" fill="#d2cee4"/><rect x="97.10" y="374.60" width="7.17" height="1.45" fill="#aca5ce"/><rect x="104.22" y="374.60" width="7.17" height="1.45" fill="#7b71b1"/><rect x="111.33" y="374.60" width="7.17" height="1.45" fill="#43368f"/><rect x="118.45" y="374.60" width="7.17" height="1.45" fill="#453790"/><rect x="125.57" y="374.60" width="7.17" height="1.45" fill="#f4cbcb"/><rect x="132.69" y="374.60" width="7.17" height="1.45" fill="#e97d7d"/><rect x="139.80" y="374.60" width="7.17" height="1.45" fill="#f0afaf"/><rect x="146.92" y="374.60" width="7.17" height="1.45" fill="#f7e2e2"/><rect x="154.04" y="374.60" width="7.17" height="1.45" fill="#f6dddd"/><rect x="161.15" y="374.60" width="7.17" height="1.45" fill="#ea8484"/><rect x="168.27" y="374.60" width="7.17" height="1.45" fill="#f6d8d8"/><rect x="175.39" y="374.60" width="7.17" height="1.45" fill="#efecf5"/><rect x="97.10" y="376.00" width="7.17" height="1.45" fill="#f9f2f2"/><rect x="104.22" y="376.00" width="7.17" height="1.45" fill="#a7a0cb"/><rect x="111.33" y="376.00" width="7.17" height="1.45" fill="#8d84bb"/><rect x="118.45" y="376.00" width="7.17" height="1.45" fill="#6d62a8"/><rect x="125.57" y="376.00" width="7.17" height="1.45" fill="#ed9c9c"/><rect x="132.69" y="376.00" width="7.17" height="1.45" fill="#e45858"/><rect x="139.80" y="376.00" width="7.17" height="1.45" fill="#eb8787"/><rect x="146.92" y="376.00" width="7.17" height="1.45" fill="#eb8a8a"/><rect x="154.04" y="376.00" width="7.17" height="1.45" fill="#f2bbbb"/><rect x="161.15" y="376.00" width="7.17" height="1.45" fill="#e76a6a"/><rect x="168.27" y="376.00" width="7.17" height="1.45" fill="#f5d1d1"/><rect x="175.39" y="376.00" width="7.17" height="1.45" fill="#f1b5b5"/><rect x="97.10" y="377.40" width="7.17" height="1.45" fill="#dfdbec"/><rect x="104.22" y="377.40" width="7.17" height="1.45" fill="#9b93c4"/><rect x="111.33" y="377.40" width="7.17" height="1.45" fill="#9087bd"/><rect x="118.45" y="377.40" width="7.17" height="1.45" fill="#786eaf"/><rect x="125.57" y="377.40" width="7.17" height="1.45" fill="#f0b0b0"/><rect x="132.69" y="377.40" width="7.17" height="1.45" fill="#e66767"/><rect x="139.80" y="377.40" width="7.17" height="1.45" fill="#e97979"/><rect x="146.92" y="377.40" width="7.17" height="1.45" fill="#e87272"/><rect x="154.04" y="377.40" width="7.17" height="1.45" fill="#ed9696"/><rect x="161.15" y="377.40" width="7.17" height="1.45" fill="#e56161"/><rect x="168.27" y="377.40" width="7.17" height="1.45" fill="#efa5a5"/><rect x="175.39" y="377.40" width="7.17" height="1.45" fill="#f0acac"/><rect x="97.10" y="378.80" width="7.17" height="1.25" fill="#bfb9d9"/><rect x="104.22" y="378.80" width="7.17" height="1.25" fill="#746aad"/><rect x="111.33" y="378.80" width="7.17" height="1.25" fill="#7c72b1"/><rect x="118.45" y="378.80" width="7.17" height="1.25" fill="#5e529f"/><rect x="125.57" y="378.80" width="7.17" height="1.25" fill="#f2bbbb"/><rect x="132.69" y="378.80" width="7.17" height="1.25" fill="#f0b1b1"/><rect x="139.80" y="378.80" width="7.17" height="1.25" fill="#ed9a9a"/><rect x="146.92" y="378.80" width="7.17" height="1.25" fill="#ea8383"/><rect x="154.04" y="378.80" width="7.17" height="1.25" fill="#f2bdbd"/><rect x="161.15" y="378.80" width="7.17" height="1.25" fill="#ec9494"/><rect x="168.27" y="378.80" width="7.17" height="1.25" fill="#f6dddd"/><rect x="175.39" y="378.80" width="7.17" height="1.25" fill="#eae7f3"/><rect x="97.10" y="380.00" width="7.17" height="1.45" fill="#efecf5"/><rect x="104.22" y="380.00" width="7.17" height="1.45" fill="#8e86bc"/><rect x="111.33" y="380.00" width="7.17" height="1.45" fill="#f2f0f8"/><rect x="118.45" y="380.00" width="7.17" height="1.45" fill="#f3f0f8"/><rect x="125.57" y="380.00" width="7.17" height="1.45" fill="#ee9c9c"/><rect x="132.69" y="380.00" width="7.17" height="1.45" fill="#ea8383"/><rect x="139.80" y="380.00" width="7.17" height="1.45" fill="#e87272"/><rect x="146.92" y="380.00" width="7.17" height="1.45" fill="#ec9494"/><rect x="154.04" y="380.00" width="7.17" height="1.45" fill="#d0cbe3"/><rect x="161.15" y="380.00" width="7.17" height="1.45" fill="#f9f1f1"/><rect x="168.27" y="380.00" width="7.17" height="1.45" fill="#8178b4"/><rect x="175.39" y="380.00" width="7.17" height="1.45" fill="#695ea6"/><rect x="97.10" y="381.40" width="7.17" height="1.45" fill="#f9f4f4"/><rect x="104.22" y="381.40" width="7.17" height="1.45" fill="#a199c7"/><rect x="111.33" y="381.40" width="7.17" height="1.45" fill="#b3add2"/><rect x="118.45" y="381.40" width="7.17" height="1.45" fill="#d1cce4"/><rect x="125.57" y="381.40" width="7.17" height="1.45" fill="#f1b5b5"/><rect x="132.69" y="381.40" width="7.17" height="1.45" fill="#f0afaf"/><rect x="139.80" y="381.40" width="7.17" height="1.45" fill="#ec9494"/><rect x="146.92" y="381.40" width="7.17" height="1.45" fill="#eea3a3"/><rect x="154.04" y="381.40" width="7.17" height="1.45" fill="#e8e5f1"/><rect x="161.15" y="381.40" width="7.17" height="1.45" fill="#e9e6f2"/><rect x="168.27" y="381.40" width="7.17" height="1.45" fill="#6d63a8"/><rect x="175.39" y="381.40" width="7.17" height="1.45" fill="#7b71b1"/><rect x="97.10" y="382.80" width="7.17" height="1.45" fill="#f6f4fa"/><rect x="104.22" y="382.80" width="7.17" height="1.45" fill="#9b93c4"/><rect x="111.33" y="382.80" width="7.17" height="1.45" fill="#b0a9d0"/><rect x="118.45" y="382.80" width="7.17" height="1.45" fill="#beb9d9"/><rect x="125.57" y="382.80" width="7.17" height="1.45" fill="#f0acac"/><rect x="132.69" y="382.80" width="7.17" height="1.45" fill="#f8e8e8"/><rect x="139.80" y="382.80" width="7.17" height="1.45" fill="#f1b8b8"/><rect x="146.92" y="382.80" width="7.17" height="1.45" fill="#efa9a9"/><rect x="154.04" y="382.80" width="7.17" height="1.45" fill="#b3add2"/><rect x="161.15" y="382.80" width="7.17" height="1.45" fill="#edeaf4"/><rect x="168.27" y="382.80" width="7.17" height="1.45" fill="#6a5fa6"/><rect x="175.39" y="382.80" width="7.17" height="1.45" fill="#514497"/><rect x="97.10" y="384.20" width="7.17" height="1.45" fill="#e7e4f1"/><rect x="104.22" y="384.20" width="7.17" height="1.45" fill="#837ab5"/><rect x="111.33" y="384.20" width="7.17" height="1.45" fill="#b1aad1"/><rect x="118.45" y="384.20" width="7.17" height="1.45" fill="#c6c1dd"/><rect x="125.57" y="384.20" width="7.17" height="1.45" fill="#ea8585"/><rect x="132.69" y="384.20" width="7.17" height="1.45" fill="#f1b4b4"/><rect x="139.80" y="384.20" width="7.17" height="1.45" fill="#f1b7b7"/><rect x="146.92" y="384.20" width="7.17" height="1.45" fill="#f2bebe"/><rect x="154.04" y="384.20" width="7.17" height="1.45" fill="#cec9e2"/><rect x="161.15" y="384.20" width="7.17" height="1.45" fill="#f8f5fb"/><rect x="168.27" y="384.20" width="7.17" height="1.45" fill="#6b60a7"/><rect x="175.39" y="384.20" width="7.17" height="1.45" fill="#7369ac"/><rect x="97.10" y="385.60" width="7.17" height="1.45" fill="#f6dcdc"/><rect x="104.22" y="385.60" width="7.17" height="1.45" fill="#867cb7"/><rect x="111.33" y="385.60" width="7.17" height="1.45" fill="#cfcbe3"/><rect x="118.45" y="385.60" width="7.17" height="1.45" fill="#d2cde4"/><rect x="125.57" y="385.60" width="7.17" height="1.45" fill="#e76f6f"/><rect x="132.69" y="385.60" width="7.17" height="1.45" fill="#f6dbdb"/><rect x="139.80" y="385.60" width="7.17" height="1.45" fill="#f2bdbd"/><rect x="146.92" y="385.60" width="7.17" height="1.45" fill="#efa9a9"/><rect x="154.04" y="385.60" width="7.17" height="1.45" fill="#d6d2e7"/><rect x="161.15" y="385.60" width="7.17" height="1.45" fill="#f4caca"/><rect x="168.27" y="385.60" width="7.17" height="1.45" fill="#7065aa"/><rect x="175.39" y="385.60" width="7.17" height="1.45" fill="#887fb8"/><rect x="97.10" y="387.00" width="7.17" height="1.45" fill="#f5d2d2"/><rect x="104.22" y="387.00" width="7.17" height="1.45" fill="#8f86bd"/><rect x="111.33" y="387.00" width="7.17" height="1.45" fill="#f8f6fb"/><rect x="118.45" y="387.00" width="7.17" height="1.45" fill="#d7d3e8"/><rect x="125.57" y="387.00" width="7.17" height="1.45" fill="#e66767"/><rect x="132.69" y="387.00" width="7.17" height="1.45" fill="#e97979"/><rect x="139.80" y="387.00" width="7.17" height="1.45" fill="#eea3a3"/><rect x="146.92" y="387.00" width="7.17" height="1.45" fill="#ec9494"/><rect x="154.04" y="387.00" width="7.17" height="1.45" fill="#f9f1f1"/><rect x="161.15" y="387.00" width="7.17" height="1.45" fill="#f4cbcb"/><rect x="168.27" y="387.00" width="7.17" height="1.45" fill="#756aad"/><rect x="175.39" y="387.00" width="7.17" height="1.45" fill="#978fc1"/><rect x="97.10" y="388.40" width="7.17" height="1.45" fill="#f3c7c7"/><rect x="104.22" y="388.40" width="7.17" height="1.45" fill="#9991c2"/><rect x="111.33" y="388.40" width="7.17" height="1.45" fill="#e7e4f1"/><rect x="118.45" y="388.40" width="7.17" height="1.45" fill="#d5d0e6"/><rect x="125.57" y="388.40" width="7.17" height="1.45" fill="#e66565"/><rect x="132.69" y="388.40" width="7.17" height="1.45" fill="#efa4a4"/><rect x="139.80" y="388.40" width="7.17" height="1.45" fill="#ee9e9e"/><rect x="146.92" y="388.40" width="7.17" height="1.45" fill="#f0b1b1"/><rect x="154.04" y="388.40" width="7.17" height="1.45" fill="#faf5f5"/><rect x="161.15" y="388.40" width="7.17" height="1.45" fill="#f0abab"/><rect x="168.27" y="388.40" width="7.17" height="1.45" fill="#b3add2"/><rect x="175.39" y="388.40" width="7.17" height="1.45" fill="#a8a1cb"/><rect x="97.10" y="389.80" width="7.17" height="1.45" fill="#f4d0d0"/><rect x="104.22" y="389.80" width="7.17" height="1.45" fill="#aba4cd"/><rect x="111.33" y="389.80" width="7.17" height="1.45" fill="#c4bedc"/><rect x="118.45" y="389.80" width="7.17" height="1.45" fill="#f9efef"/><rect x="125.57" y="389.80" width="7.17" height="1.45" fill="#e97e7e"/><rect x="132.69" y="389.80" width="7.17" height="1.45" fill="#ec9393"/><rect x="139.80" y="389.80" width="7.17" height="1.45" fill="#f1b5b5"/><rect x="146.92" y="389.80" width="7.17" height="1.45" fill="#f0b0b0"/><rect x="154.04" y="389.80" width="7.17" height="1.45" fill="#b8b1d5"/><rect x="161.15" y="389.80" width="7.17" height="1.45" fill="#f1b4b4"/><rect x="168.27" y="389.80" width="7.17" height="1.45" fill="#a59eca"/><rect x="175.39" y="389.80" width="7.17" height="1.45" fill="#695ea6"/><rect x="97.10" y="391.20" width="7.17" height="1.45" fill="#d7d2e7"/><rect x="104.22" y="391.20" width="7.17" height="1.45" fill="#7267ab"/><rect x="111.33" y="391.20" width="7.17" height="1.45" fill="#978fc1"/><rect x="118.45" y="391.20" width="7.17" height="1.45" fill="#aea7cf"/><rect x="125.57" y="391.20" width="7.17" height="1.45" fill="#ea8181"/><rect x="132.69" y="391.20" width="7.17" height="1.45" fill="#f1b2b2"/><rect x="139.80" y="391.20" width="7.17" height="1.45" fill="#efa9a9"/><rect x="146.92" y="391.20" width="7.17" height="1.45" fill="#ee9e9e"/><rect x="154.04" y="391.20" width="7.17" height="1.45" fill="#c1bbda"/><rect x="161.15" y="391.20" width="7.17" height="1.45" fill="#f8eaea"/><rect x="168.27" y="391.20" width="7.17" height="1.45" fill="#6b60a7"/><rect x="175.39" y="391.20" width="7.17" height="1.45" fill="#6458a3"/><rect x="97.10" y="392.60" width="7.17" height="1.45" fill="#f5f3f9"/><rect x="104.22" y="392.60" width="7.17" height="1.45" fill="#9890c2"/><rect x="111.33" y="392.60" width="7.17" height="1.45" fill="#bbb5d6"/><rect x="118.45" y="392.60" width="7.17" height="1.45" fill="#dfdbec"/><rect x="125.57" y="392.60" width="7.17" height="1.45" fill="#e97979"/><rect x="132.69" y="392.60" width="7.17" height="1.45" fill="#ec9393"/><rect x="139.80" y="392.60" width="7.17" height="1.45" fill="#ec9191"/><rect x="146.92" y="392.60" width="7.17" height="1.45" fill="#e76969"/><rect x="154.04" y="392.60" width="7.17" height="1.45" fill="#c7c1dd"/><rect x="161.15" y="392.60" width="7.17" height="1.45" fill="#f7e3e3"/><rect x="168.27" y="392.60" width="7.17" height="1.45" fill="#b7b1d4"/><rect x="175.39" y="392.60" width="7.17" height="1.45" fill="#514497"/><rect x="97.10" y="394.00" width="7.17" height="1.45" fill="#dbd7e9"/><rect x="104.22" y="394.00" width="7.17" height="1.45" fill="#948cbf"/><rect x="111.33" y="394.00" width="7.17" height="1.45" fill="#b3add2"/><rect x="118.45" y="394.00" width="7.17" height="1.45" fill="#e1dded"/><rect x="125.57" y="394.00" width="7.17" height="1.45" fill="#f1b3b3"/><rect x="132.69" y="394.00" width="7.17" height="1.45" fill="#f0b0b0"/><rect x="139.80" y="394.00" width="7.17" height="1.45" fill="#ee9f9f"/><rect x="146.92" y="394.00" width="7.17" height="1.45" fill="#eea2a2"/><rect x="154.04" y="394.00" width="7.17" height="1.45" fill="#c1bbda"/><rect x="161.15" y="394.00" width="7.17" height="1.45" fill="#f5d3d3"/><rect x="168.27" y="394.00" width="7.17" height="1.45" fill="#928abe"/><rect x="175.39" y="394.00" width="7.17" height="1.45" fill="#7a70b0"/><rect x="97.10" y="395.40" width="7.17" height="1.65" fill="#cfcae2"/><rect x="104.22" y="395.40" width="7.17" height="1.65" fill="#a39cc9"/><rect x="111.33" y="395.40" width="7.17" height="1.65" fill="#d2cde4"/><rect x="118.45" y="395.40" width="7.17" height="1.65" fill="#e0dded"/><rect x="125.57" y="395.40" width="7.17" height="1.65" fill="#ec8e8e"/><rect x="132.69" y="395.40" width="7.17" height="1.65" fill="#ea7f7f"/><rect x="139.80" y="395.40" width="7.17" height="1.65" fill="#eea1a1"/><rect x="146.92" y="395.40" width="7.17" height="1.65" fill="#ea8080"/><rect x="154.04" y="395.40" width="7.17" height="1.65" fill="#f9f2f2"/><rect x="161.15" y="395.40" width="7.17" height="1.65" fill="#f7e1e1"/><rect x="168.27" y="395.40" width="7.17" height="1.65" fill="#958dc0"/><rect x="175.39" y="395.40" width="7.17" height="1.65" fill="#837ab5"/><rect x="97.10" y="397.00" width="7.17" height="1.45" fill="#ada7cf"/><rect x="104.22" y="397.00" width="7.17" height="1.45" fill="#cec9e2"/><rect x="111.33" y="397.00" width="7.17" height="1.45" fill="#796fb0"/><rect x="118.45" y="397.00" width="7.17" height="1.45" fill="#d9d5e9"/><rect x="125.57" y="397.00" width="7.17" height="1.45" fill="#f0edf6"/><rect x="132.69" y="397.00" width="7.17" height="1.45" fill="#b7b1d4"/><rect x="139.80" y="397.00" width="7.17" height="1.45" fill="#f6f4fa"/><rect x="146.92" y="397.00" width="7.17" height="1.45" fill="#e7e4f1"/><rect x="154.04" y="397.00" width="7.17" height="1.45" fill="#e76e6e"/><rect x="161.15" y="397.00" width="7.17" height="1.45" fill="#f3c5c5"/><rect x="168.27" y="397.00" width="7.17" height="1.45" fill="#e76c6c"/><rect x="175.39" y="397.00" width="7.17" height="1.45" fill="#e66666"/><rect x="97.10" y="398.40" width="7.17" height="1.45" fill="#8f86bd"/><rect x="104.22" y="398.40" width="7.17" height="1.45" fill="#c8c3df"/><rect x="111.33" y="398.40" width="7.17" height="1.45" fill="#a29bc8"/><rect x="118.45" y="398.40" width="7.17" height="1.45" fill="#c8c3de"/><rect x="125.57" y="398.40" width="7.17" height="1.45" fill="#d6d2e6"/><rect x="132.69" y="398.40" width="7.17" height="1.45" fill="#ddd9eb"/><rect x="139.80" y="398.40" width="7.17" height="1.45" fill="#cdc8e1"/><rect x="146.92" y="398.40" width="7.17" height="1.45" fill="#bdb7d7"/><rect x="154.04" y="398.40" width="7.17" height="1.45" fill="#e97878"/><rect x="161.15" y="398.40" width="7.17" height="1.45" fill="#f3c6c6"/><rect x="168.27" y="398.40" width="7.17" height="1.45" fill="#ea7f7f"/><rect x="175.39" y="398.40" width="7.17" height="1.45" fill="#eb8787"/><rect x="97.10" y="399.80" width="7.17" height="1.45" fill="#9289be"/><rect x="104.22" y="399.80" width="7.17" height="1.45" fill="#ccc7e1"/><rect x="111.33" y="399.80" width="7.17" height="1.45" fill="#948bbf"/><rect x="118.45" y="399.80" width="7.17" height="1.45" fill="#b8b2d5"/><rect x="125.57" y="399.80" width="7.17" height="1.45" fill="#b8b2d5"/><rect x="132.69" y="399.80" width="7.17" height="1.45" fill="#d2cee4"/><rect x="139.80" y="399.80" width="7.17" height="1.45" fill="#dcd8ea"/><rect x="146.92" y="399.80" width="7.17" height="1.45" fill="#a9a2cc"/><rect x="154.04" y="399.80" width="7.17" height="1.45" fill="#e76e6e"/><rect x="161.15" y="399.80" width="7.17" height="1.45" fill="#f6dddd"/><rect x="168.27" y="399.80" width="7.17" height="1.45" fill="#e76969"/><rect x="175.39" y="399.80" width="7.17" height="1.45" fill="#e66464"/><rect x="97.10" y="401.20" width="7.17" height="1.45" fill="#867db7"/><rect x="104.22" y="401.20" width="7.17" height="1.45" fill="#cbc6e0"/><rect x="111.33" y="401.20" width="7.17" height="1.45" fill="#887fb8"/><rect x="118.45" y="401.20" width="7.17" height="1.45" fill="#c0bbda"/><rect x="125.57" y="401.20" width="7.17" height="1.45" fill="#c0bad9"/><rect x="132.69" y="401.20" width="7.17" height="1.45" fill="#b5aed3"/><rect x="139.80" y="401.20" width="7.17" height="1.45" fill="#efecf5"/><rect x="146.92" y="401.20" width="7.17" height="1.45" fill="#d4d0e6"/><rect x="154.04" y="401.20" width="7.17" height="1.45" fill="#e87575"/><rect x="161.15" y="401.20" width="7.17" height="1.45" fill="#f0afaf"/><rect x="168.27" y="401.20" width="7.17" height="1.45" fill="#e35252"/><rect x="175.39" y="401.20" width="7.17" height="1.45" fill="#e55e5e"/><rect x="97.10" y="402.60" width="7.17" height="1.45" fill="#938abf"/><rect x="104.22" y="402.60" width="7.17" height="1.45" fill="#a8a1cc"/><rect x="111.33" y="402.60" width="7.17" height="1.45" fill="#786eaf"/><rect x="118.45" y="402.60" width="7.17" height="1.45" fill="#9088bd"/><rect x="125.57" y="402.60" width="7.17" height="1.45" fill="#bfb9d9"/><rect x="132.69" y="402.60" width="7.17" height="1.45" fill="#cfcbe3"/><rect x="139.80" y="402.60" width="7.17" height="1.45" fill="#c5c0dd"/><rect x="146.92" y="402.60" width="7.17" height="1.45" fill="#f3f0f8"/><rect x="154.04" y="402.60" width="7.17" height="1.45" fill="#ed9595"/><rect x="161.15" y="402.60" width="7.17" height="1.45" fill="#f3c7c7"/><rect x="168.27" y="402.60" width="7.17" height="1.45" fill="#e45656"/><rect x="175.39" y="402.60" width="7.17" height="1.45" fill="#e35050"/><rect x="97.10" y="404.00" width="7.17" height="1.45" fill="#887eb8"/><rect x="104.22" y="404.00" width="7.17" height="1.45" fill="#c5c0dd"/><rect x="111.33" y="404.00" width="7.17" height="1.45" fill="#6155a1"/><rect x="118.45" y="404.00" width="7.17" height="1.45" fill="#7f75b3"/><rect x="125.57" y="404.00" width="7.17" height="1.45" fill="#d3cee5"/><rect x="132.69" y="404.00" width="7.17" height="1.45" fill="#c9c4df"/><rect x="139.80" y="404.00" width="7.17" height="1.45" fill="#eae7f2"/><rect x="146.92" y="404.00" width="7.17" height="1.45" fill="#beb8d8"/><rect x="154.04" y="404.00" width="7.17" height="1.45" fill="#eea1a1"/><rect x="161.15" y="404.00" width="7.17" height="1.45" fill="#d3cee5"/><rect x="168.27" y="404.00" width="7.17" height="1.45" fill="#e34c4c"/><rect x="175.39" y="404.00" width="7.17" height="1.45" fill="#e76b6b"/><rect x="97.10" y="405.40" width="7.17" height="1.45" fill="#cac5df"/><rect x="104.22" y="405.40" width="7.17" height="1.45" fill="#eae7f2"/><rect x="111.33" y="405.40" width="7.17" height="1.45" fill="#a39cc8"/><rect x="118.45" y="405.40" width="7.17" height="1.45" fill="#dddaeb"/><rect x="125.57" y="405.40" width="7.17" height="1.45" fill="#dcd8ea"/><rect x="132.69" y="405.40" width="7.17" height="1.45" fill="#d1cce4"/><rect x="139.80" y="405.40" width="7.17" height="1.45" fill="#e7e4f1"/><rect x="146.92" y="405.40" width="7.17" height="1.45" fill="#e2dfee"/><rect x="154.04" y="405.40" width="7.17" height="1.45" fill="#ea8282"/><rect x="161.15" y="405.40" width="7.17" height="1.45" fill="#faf5f5"/><rect x="168.27" y="405.40" width="7.17" height="1.45" fill="#e03939"/><rect x="175.39" y="405.40" width="7.17" height="1.45" fill="#e66262"/><rect x="97.10" y="406.80" width="7.17" height="1.45" fill="#c2bcdb"/><rect x="104.22" y="406.80" width="7.17" height="1.45" fill="#cbc6e0"/><rect x="111.33" y="406.80" width="7.17" height="1.45" fill="#665ba4"/><rect x="118.45" y="406.80" width="7.17" height="1.45" fill="#d7d3e7"/><rect x="125.57" y="406.80" width="7.17" height="1.45" fill="#cdc8e1"/><rect x="132.69" y="406.80" width="7.17" height="1.45" fill="#cdc8e1"/><rect x="139.80" y="406.80" width="7.17" height="1.45" fill="#d4cfe5"/><rect x="146.92" y="406.80" width="7.17" height="1.45" fill="#c4bfdc"/><rect x="154.04" y="406.80" width="7.17" height="1.45" fill="#f4cbcb"/><rect x="161.15" y="406.80" width="7.17" height="1.45" fill="#f9efef"/><rect x="168.27" y="406.80" width="7.17" height="1.45" fill="#e66868"/><rect x="175.39" y="406.80" width="7.17" height="1.45" fill="#eb8b8b"/><rect x="97.10" y="408.20" width="7.17" height="1.45" fill="#b6b0d4"/><rect x="104.22" y="408.20" width="7.17" height="1.45" fill="#968ec1"/><rect x="111.33" y="408.20" width="7.17" height="1.45" fill="#6f65aa"/><rect x="118.45" y="408.20" width="7.17" height="1.45" fill="#cfcbe3"/><rect x="125.57" y="408.20" width="7.17" height="1.45" fill="#f8f5fb"/><rect x="132.69" y="408.20" width="7.17" height="1.45" fill="#cdc8e1"/><rect x="139.80" y="408.20" width="7.17" height="1.45" fill="#e0dded"/><rect x="146.92" y="408.20" width="7.17" height="1.45" fill="#f7f5fa"/><rect x="154.04" y="408.20" width="7.17" height="1.45" fill="#efa7a7"/><rect x="161.15" y="408.20" width="7.17" height="1.45" fill="#f3c4c4"/><rect x="168.27" y="408.20" width="7.17" height="1.45" fill="#de2d2d"/><rect x="175.39" y="408.20" width="7.17" height="1.45" fill="#e76b6b"/><rect x="97.10" y="409.60" width="7.17" height="1.45" fill="#b3add2"/><rect x="104.22" y="409.60" width="7.17" height="1.45" fill="#c1bbda"/><rect x="111.33" y="409.60" width="7.17" height="1.45" fill="#afa9d0"/><rect x="118.45" y="409.60" width="7.17" height="1.45" fill="#afa9d0"/><rect x="125.57" y="409.60" width="7.17" height="1.45" fill="#dedbec"/><rect x="132.69" y="409.60" width="7.17" height="1.45" fill="#d9d5e8"/><rect x="139.80" y="409.60" width="7.17" height="1.45" fill="#cdc8e1"/><rect x="146.92" y="409.60" width="7.17" height="1.45" fill="#f3f0f8"/><rect x="154.04" y="409.60" width="7.17" height="1.45" fill="#ea7f7f"/><rect x="161.15" y="409.60" width="7.17" height="1.45" fill="#f3c4c4"/><rect x="168.27" y="409.60" width="7.17" height="1.45" fill="#de2a2a"/><rect x="175.39" y="409.60" width="7.17" height="1.45" fill="#e97d7d"/><rect x="97.10" y="411.00" width="7.17" height="1.45" fill="#978ec1"/><rect x="104.22" y="411.00" width="7.17" height="1.45" fill="#c0bbda"/><rect x="111.33" y="411.00" width="7.17" height="1.45" fill="#8e86bc"/><rect x="118.45" y="411.00" width="7.17" height="1.45" fill="#958cc0"/><rect x="125.57" y="411.00" width="7.17" height="1.45" fill="#d6d2e6"/><rect x="132.69" y="411.00" width="7.17" height="1.45" fill="#e2dfee"/><rect x="139.80" y="411.00" width="7.17" height="1.45" fill="#c6c0dd"/><rect x="146.92" y="411.00" width="7.17" height="1.45" fill="#dbd7e9"/><rect x="154.04" y="411.00" width="7.17" height="1.45" fill="#e77070"/><rect x="161.15" y="411.00" width="7.17" height="1.45" fill="#f4cccc"/><rect x="168.27" y="411.00" width="7.17" height="1.45" fill="#e66363"/><rect x="175.39" y="411.00" width="7.17" height="1.45" fill="#e13f3f"/><rect x="97.10" y="412.40" width="7.17" height="1.45" fill="#b8b2d5"/><rect x="104.22" y="412.40" width="7.17" height="1.45" fill="#cfcae2"/><rect x="111.33" y="412.40" width="7.17" height="1.45" fill="#8980b9"/><rect x="118.45" y="412.40" width="7.17" height="1.45" fill="#8d84bb"/><rect x="125.57" y="412.40" width="7.17" height="1.45" fill="#ebe8f3"/><rect x="132.69" y="412.40" width="7.17" height="1.45" fill="#f9f4f4"/><rect x="139.80" y="412.40" width="7.17" height="1.45" fill="#cdc9e2"/><rect x="146.92" y="412.40" width="7.17" height="1.45" fill="#d3cfe5"/><rect x="154.04" y="412.40" width="7.17" height="1.45" fill="#e55f5f"/><rect x="161.15" y="412.40" width="7.17" height="1.45" fill="#f6dbdb"/><rect x="168.27" y="412.40" width="7.17" height="1.45" fill="#e14343"/><rect x="175.39" y="412.40" width="7.17" height="1.45" fill="#e03c3c"/><rect x="97.10" y="413.80" width="7.17" height="1.45" fill="#aba4cd"/><rect x="104.22" y="413.80" width="7.17" height="1.45" fill="#b2abd1"/><rect x="111.33" y="413.80" width="7.17" height="1.45" fill="#857bb6"/><rect x="118.45" y="413.80" width="7.17" height="1.45" fill="#a69fca"/><rect x="125.57" y="413.80" width="7.17" height="1.45" fill="#dfdcec"/><rect x="132.69" y="413.80" width="7.17" height="1.45" fill="#edebf5"/><rect x="139.80" y="413.80" width="7.17" height="1.45" fill="#aba4cd"/><rect x="146.92" y="413.80" width="7.17" height="1.45" fill="#b0aad0"/><rect x="154.04" y="413.80" width="7.17" height="1.45" fill="#f2bfbf"/><rect x="161.15" y="413.80" width="7.17" height="1.45" fill="#f2bebe"/><rect x="168.27" y="413.80" width="7.17" height="1.45" fill="#e76f6f"/><rect x="175.39" y="413.80" width="7.17" height="1.45" fill="#e66363"/><rect x="97.10" y="415.20" width="7.17" height="1.45" fill="#796faf"/><rect x="104.22" y="415.20" width="7.17" height="1.45" fill="#b1aad1"/><rect x="111.33" y="415.20" width="7.17" height="1.45" fill="#958cc0"/><rect x="118.45" y="415.20" width="7.17" height="1.45" fill="#756bad"/><rect x="125.57" y="415.20" width="7.17" height="1.45" fill="#f5f2f9"/><rect x="132.69" y="415.20" width="7.17" height="1.45" fill="#e8e5f2"/><rect x="139.80" y="415.20" width="7.17" height="1.45" fill="#d8d4e8"/><rect x="146.92" y="415.20" width="7.17" height="1.45" fill="#d4cfe5"/><rect x="154.04" y="415.20" width="7.17" height="1.45" fill="#ea8383"/><rect x="161.15" y="415.20" width="7.17" height="1.45" fill="#f3c8c8"/><rect x="168.27" y="415.20" width="7.17" height="1.45" fill="#e24a4a"/><rect x="175.39" y="415.20" width="7.17" height="1.45" fill="#e66868"/><rect x="97.10" y="416.60" width="7.17" height="1.45" fill="#9d95c5"/><rect x="104.22" y="416.60" width="7.17" height="1.45" fill="#b5aed3"/><rect x="111.33" y="416.60" width="7.17" height="1.45" fill="#796faf"/><rect x="118.45" y="416.60" width="7.17" height="1.45" fill="#8178b4"/><rect x="125.57" y="416.60" width="7.17" height="1.45" fill="#e3e0ef"/><rect x="132.69" y="416.60" width="7.17" height="1.45" fill="#e6e3f0"/><rect x="139.80" y="416.60" width="7.17" height="1.45" fill="#dedaeb"/><rect x="146.92" y="416.60" width="7.17" height="1.45" fill="#d8d4e8"/><rect x="154.04" y="416.60" width="7.17" height="1.45" fill="#e76a6a"/><rect x="161.15" y="416.60" width="7.17" height="1.45" fill="#ec9191"/><rect x="168.27" y="416.60" width="7.17" height="1.45" fill="#e03b3b"/><rect x="175.39" y="416.60" width="7.17" height="1.45" fill="#e45555"/><rect x="97.10" y="418.00" width="7.17" height="1.45" fill="#a9a2cc"/><rect x="104.22" y="418.00" width="7.17" height="1.45" fill="#d0cbe3"/><rect x="111.33" y="418.00" width="7.17" height="1.45" fill="#938bbf"/><rect x="118.45" y="418.00" width="7.17" height="1.45" fill="#877eb8"/><rect x="125.57" y="418.00" width="7.17" height="1.45" fill="#e2deee"/><rect x="132.69" y="418.00" width="7.17" height="1.45" fill="#d8d4e8"/><rect x="139.80" y="418.00" width="7.17" height="1.45" fill="#c5c0dd"/><rect x="146.92" y="418.00" width="7.17" height="1.45" fill="#e2dfee"/><rect x="154.04" y="418.00" width="7.17" height="1.45" fill="#ec9191"/><rect x="161.15" y="418.00" width="7.17" height="1.45" fill="#f4c9c9"/><rect x="168.27" y="418.00" width="7.17" height="1.45" fill="#e24646"/><rect x="175.39" y="418.00" width="7.17" height="1.45" fill="#e34e4e"/><rect x="97.10" y="419.40" width="7.17" height="1.45" fill="#968ec1"/><rect x="104.22" y="419.40" width="7.17" height="1.45" fill="#d6d1e6"/><rect x="111.33" y="419.40" width="7.17" height="1.45" fill="#786eaf"/><rect x="118.45" y="419.40" width="7.17" height="1.45" fill="#a199c7"/><rect x="125.57" y="419.40" width="7.17" height="1.45" fill="#edeaf4"/><rect x="132.69" y="419.40" width="7.17" height="1.45" fill="#7d73b2"/><rect x="139.80" y="419.40" width="7.17" height="1.45" fill="#aba4cd"/><rect x="146.92" y="419.40" width="7.17" height="1.45" fill="#c7c2de"/><rect x="154.04" y="419.40" width="7.17" height="1.45" fill="#e97a7a"/><rect x="161.15" y="419.40" width="7.17" height="1.45" fill="#f3c6c6"/><rect x="168.27" y="419.40" width="7.17" height="1.45" fill="#de2a2a"/><rect x="175.39" y="419.40" width="7.17" height="1.45" fill="#e14141"/><rect x="97.10" y="420.80" width="7.17" height="1.45" fill="#8c83bb"/><rect x="104.22" y="420.80" width="7.17" height="1.45" fill="#c3bedc"/><rect x="111.33" y="420.80" width="7.17" height="1.45" fill="#938bbf"/><rect x="118.45" y="420.80" width="7.17" height="1.45" fill="#a099c7"/><rect x="125.57" y="420.80" width="7.17" height="1.45" fill="#9d95c5"/><rect x="132.69" y="420.80" width="7.17" height="1.45" fill="#584c9c"/><rect x="139.80" y="420.80" width="7.17" height="1.45" fill="#b7b0d4"/><rect x="146.92" y="420.80" width="7.17" height="1.45" fill="#b6afd3"/><rect x="154.04" y="420.80" width="7.17" height="1.45" fill="#efa6a6"/><rect x="161.15" y="420.80" width="7.17" height="1.45" fill="#f4caca"/><rect x="168.27" y="420.80" width="7.17" height="1.45" fill="#df3535"/><rect x="175.39" y="420.80" width="7.17" height="1.45" fill="#e45555"/><rect x="97.10" y="422.20" width="7.17" height="1.45" fill="#928abe"/><rect x="104.22" y="422.20" width="7.17" height="1.45" fill="#6f65aa"/><rect x="111.33" y="422.20" width="7.17" height="1.45" fill="#766cae"/><rect x="118.45" y="422.20" width="7.17" height="1.45" fill="#948bbf"/><rect x="125.57" y="422.20" width="7.17" height="1.45" fill="#f0edf6"/><rect x="132.69" y="422.20" width="7.17" height="1.45" fill="#7d73b2"/><rect x="139.80" y="422.20" width="7.17" height="1.45" fill="#c4bedc"/><rect x="146.92" y="422.20" width="7.17" height="1.45" fill="#c5c0dd"/><rect x="154.04" y="422.20" width="7.17" height="1.45" fill="#ed9595"/><rect x="161.15" y="422.20" width="7.17" height="1.45" fill="#f8e9e9"/><rect x="168.27" y="422.20" width="7.17" height="1.45" fill="#e03c3c"/><rect x="175.39" y="422.20" width="7.17" height="1.45" fill="#ea7f7f"/><rect x="97.10" y="423.60" width="7.17" height="1.45" fill="#867db7"/><rect x="104.22" y="423.60" width="7.17" height="1.45" fill="#b6b0d4"/><rect x="111.33" y="423.60" width="7.17" height="1.45" fill="#9087bd"/><rect x="118.45" y="423.60" width="7.17" height="1.45" fill="#9d95c5"/><rect x="125.57" y="423.60" width="7.17" height="1.45" fill="#edeaf4"/><rect x="132.69" y="423.60" width="7.17" height="1.45" fill="#bdb7d8"/><rect x="139.80" y="423.60" width="7.17" height="1.45" fill="#c2bcdb"/><rect x="146.92" y="423.60" width="7.17" height="1.45" fill="#cfcae2"/><rect x="154.04" y="423.60" width="7.17" height="1.45" fill="#ea8383"/><rect x="161.15" y="423.60" width="7.17" height="1.45" fill="#f5d1d1"/><rect x="168.27" y="423.60" width="7.17" height="1.45" fill="#e35050"/><rect x="175.39" y="423.60" width="7.17" height="1.45" fill="#eea1a1"/><rect x="97.10" y="425.00" width="7.17" height="1.45" fill="#b1aad1"/><rect x="104.22" y="425.00" width="7.17" height="1.45" fill="#c3bddb"/><rect x="111.33" y="425.00" width="7.17" height="1.45" fill="#8a81ba"/><rect x="118.45" y="425.00" width="7.17" height="1.45" fill="#a7a0cb"/><rect x="125.57" y="425.00" width="7.17" height="1.45" fill="#dad6e9"/><rect x="132.69" y="425.00" width="7.17" height="1.45" fill="#bbb5d7"/><rect x="139.80" y="425.00" width="7.17" height="1.45" fill="#bdb7d8"/><rect x="146.92" y="425.00" width="7.17" height="1.45" fill="#e3e0ef"/><rect x="154.04" y="425.00" width="7.17" height="1.45" fill="#ed9898"/><rect x="161.15" y="425.00" width="7.17" height="1.45" fill="#f1b5b5"/><rect x="168.27" y="425.00" width="7.17" height="1.45" fill="#e55d5d"/><rect x="175.39" y="425.00" width="7.17" height="1.45" fill="#e76d6d"/><rect x="97.10" y="426.40" width="7.17" height="1.45" fill="#b9b2d5"/><rect x="104.22" y="426.40" width="7.17" height="1.45" fill="#a29ac8"/><rect x="111.33" y="426.40" width="7.17" height="1.45" fill="#857bb6"/><rect x="118.45" y="426.40" width="7.17" height="1.45" fill="#b4aed2"/><rect x="125.57" y="426.40" width="7.17" height="1.45" fill="#c6c1dd"/><rect x="132.69" y="426.40" width="7.17" height="1.45" fill="#bcb6d7"/><rect x="139.80" y="426.40" width="7.17" height="1.45" fill="#d5d1e6"/><rect x="146.92" y="426.40" width="7.17" height="1.45" fill="#e3e0ee"/><rect x="154.04" y="426.40" width="7.17" height="1.45" fill="#e87272"/><rect x="161.15" y="426.40" width="7.17" height="1.45" fill="#f0abab"/><rect x="168.27" y="426.40" width="7.17" height="1.45" fill="#e45555"/><rect x="175.39" y="426.40" width="7.17" height="1.45" fill="#e55e5e"/><rect x="97.10" y="427.80" width="7.17" height="1.45" fill="#9890c2"/><rect x="104.22" y="427.80" width="7.17" height="1.45" fill="#9c94c4"/><rect x="111.33" y="427.80" width="7.17" height="1.45" fill="#6055a1"/><rect x="118.45" y="427.80" width="7.17" height="1.45" fill="#9d95c5"/><rect x="125.57" y="427.80" width="7.17" height="1.45" fill="#cac5df"/><rect x="132.69" y="427.80" width="7.17" height="1.45" fill="#afa9d0"/><rect x="139.80" y="427.80" width="7.17" height="1.45" fill="#f6f4fa"/><rect x="146.92" y="427.80" width="7.17" height="1.45" fill="#958cc0"/><rect x="154.04" y="427.80" width="7.17" height="1.45" fill="#efaaaa"/><rect x="161.15" y="427.80" width="7.17" height="1.45" fill="#e5e2f0"/><rect x="168.27" y="427.80" width="7.17" height="1.45" fill="#e66666"/><rect x="175.39" y="427.80" width="7.17" height="1.45" fill="#e34b4b"/><rect x="97.10" y="429.20" width="7.17" height="1.45" fill="#948cc0"/><rect x="104.22" y="429.20" width="7.17" height="1.45" fill="#6358a2"/><rect x="111.33" y="429.20" width="7.17" height="1.45" fill="#6e63a9"/><rect x="118.45" y="429.20" width="7.17" height="1.45" fill="#928abf"/><rect x="125.57" y="429.20" width="7.17" height="1.45" fill="#b6b0d4"/><rect x="132.69" y="429.20" width="7.17" height="1.45" fill="#968ec1"/><rect x="139.80" y="429.20" width="7.17" height="1.45" fill="#dedaeb"/><rect x="146.92" y="429.20" width="7.17" height="1.45" fill="#9087bd"/><rect x="154.04" y="429.20" width="7.17" height="1.45" fill="#f0acac"/><rect x="161.15" y="429.20" width="7.17" height="1.45" fill="#e2deed"/><rect x="168.27" y="429.20" width="7.17" height="1.45" fill="#efa7a7"/><rect x="175.39" y="429.20" width="7.17" height="1.45" fill="#e76f6f"/><rect x="97.10" y="430.60" width="7.17" height="1.45" fill="#c5c0dc"/><rect x="104.22" y="430.60" width="7.17" height="1.45" fill="#aba4cd"/><rect x="111.33" y="430.60" width="7.17" height="1.45" fill="#aea8cf"/><rect x="118.45" y="430.60" width="7.17" height="1.45" fill="#e1dded"/><rect x="125.57" y="430.60" width="7.17" height="1.45" fill="#aea7cf"/><rect x="132.69" y="430.60" width="7.17" height="1.45" fill="#8178b4"/><rect x="139.80" y="430.60" width="7.17" height="1.45" fill="#ebe8f3"/><rect x="146.92" y="430.60" width="7.17" height="1.45" fill="#ccc7e1"/><rect x="154.04" y="430.60" width="7.17" height="1.45" fill="#e87474"/><rect x="161.15" y="430.60" width="7.17" height="1.45" fill="#f4cdcd"/><rect x="168.27" y="430.60" width="7.17" height="1.45" fill="#e97a7a"/><rect x="175.39" y="430.60" width="7.17" height="1.45" fill="#e66767"/><rect x="97.10" y="432.00" width="7.17" height="1.45" fill="#e3dfee"/><rect x="104.22" y="432.00" width="7.17" height="1.45" fill="#d2cde4"/><rect x="111.33" y="432.00" width="7.17" height="1.45" fill="#847ab6"/><rect x="118.45" y="432.00" width="7.17" height="1.45" fill="#ada6ce"/><rect x="125.57" y="432.00" width="7.17" height="1.45" fill="#b7b0d4"/><rect x="132.69" y="432.00" width="7.17" height="1.45" fill="#857cb7"/><rect x="139.80" y="432.00" width="7.17" height="1.45" fill="#f0edf6"/><rect x="146.92" y="432.00" width="7.17" height="1.45" fill="#beb8d8"/><rect x="154.04" y="432.00" width="7.17" height="1.45" fill="#ee9e9e"/><rect x="161.15" y="432.00" width="7.17" height="1.45" fill="#f1b8b8"/><rect x="168.27" y="432.00" width="7.17" height="1.45" fill="#e97b7b"/><rect x="175.39" y="432.00" width="7.17" height="1.45" fill="#e66666"/><rect x="97.10" y="433.40" width="7.17" height="1.45" fill="#9b93c3"/><rect x="104.22" y="433.40" width="7.17" height="1.45" fill="#938abf"/><rect x="111.33" y="433.40" width="7.17" height="1.45" fill="#675ca5"/><rect x="118.45" y="433.40" width="7.17" height="1.45" fill="#978ec1"/><rect x="125.57" y="433.40" width="7.17" height="1.45" fill="#cac5e0"/><rect x="132.69" y="433.40" width="7.17" height="1.45" fill="#ada6ce"/><rect x="139.80" y="433.40" width="7.17" height="1.45" fill="#f7f5fa"/><rect x="146.92" y="433.40" width="7.17" height="1.45" fill="#cfcbe3"/><rect x="154.04" y="433.40" width="7.17" height="1.45" fill="#f0b0b0"/><rect x="161.15" y="433.40" width="7.17" height="1.45" fill="#f7dfdf"/><rect x="168.27" y="433.40" width="7.17" height="1.45" fill="#eea2a2"/><rect x="175.39" y="433.40" width="7.17" height="1.45" fill="#e87373"/><rect x="97.10" y="434.80" width="7.17" height="1.45" fill="#c4bedc"/><rect x="104.22" y="434.80" width="7.17" height="1.45" fill="#b5aed3"/><rect x="111.33" y="434.80" width="7.17" height="1.45" fill="#958dc0"/><rect x="118.45" y="434.80" width="7.17" height="1.45" fill="#bab4d6"/><rect x="125.57" y="434.80" width="7.17" height="1.45" fill="#d0cbe3"/><rect x="132.69" y="434.80" width="7.17" height="1.45" fill="#d1cde4"/><rect x="139.80" y="434.80" width="7.17" height="1.45" fill="#dad6e9"/><rect x="146.92" y="434.80" width="7.17" height="1.45" fill="#c4bfdc"/><rect x="154.04" y="434.80" width="7.17" height="1.45" fill="#efa9a9"/><rect x="161.15" y="434.80" width="7.17" height="1.45" fill="#f7e3e3"/><rect x="168.27" y="434.80" width="7.17" height="1.45" fill="#e35252"/><rect x="175.39" y="434.80" width="7.17" height="1.45" fill="#e03c3c"/><rect x="97.10" y="436.20" width="7.17" height="1.85" fill="#d1cce3"/><rect x="104.22" y="436.20" width="7.17" height="1.85" fill="#9d95c5"/><rect x="111.33" y="436.20" width="7.17" height="1.85" fill="#8278b5"/><rect x="118.45" y="436.20" width="7.17" height="1.85" fill="#bcb6d7"/><rect x="125.57" y="436.20" width="7.17" height="1.85" fill="#f8f6fb"/><rect x="132.69" y="436.20" width="7.17" height="1.85" fill="#d7d2e7"/><rect x="139.80" y="436.20" width="7.17" height="1.85" fill="#d1cde4"/><rect x="146.92" y="436.20" width="7.17" height="1.85" fill="#cbc6e0"/><rect x="154.04" y="436.20" width="7.17" height="1.85" fill="#eea0a0"/><rect x="161.15" y="436.20" width="7.17" height="1.85" fill="#f7e5e5"/><rect x="168.27" y="436.20" width="7.17" height="1.85" fill="#de2a2a"/><rect x="175.39" y="436.20" width="7.17" height="1.85" fill="#e45656"/><rect x="97.10" y="438.00" width="7.17" height="1.45" fill="#d1cce3"/><rect x="104.22" y="438.00" width="7.17" height="1.45" fill="#f6f4fa"/><rect x="111.33" y="438.00" width="7.17" height="1.45" fill="#d8d4e8"/><rect x="118.45" y="438.00" width="7.17" height="1.45" fill="#f9f7fc"/><rect x="125.57" y="438.00" width="7.17" height="1.45" fill="#dad6e9"/><rect x="132.69" y="438.00" width="7.17" height="1.45" fill="#afa8cf"/><rect x="139.80" y="438.00" width="7.17" height="1.45" fill="#bbb5d6"/><rect x="146.92" y="438.00" width="7.17" height="1.45" fill="#a69fca"/><rect x="154.04" y="438.00" width="7.17" height="1.45" fill="#eb8b8b"/><rect x="161.15" y="438.00" width="7.17" height="1.45" fill="#f1b4b4"/><rect x="168.27" y="438.00" width="7.17" height="1.45" fill="#e45959"/><rect x="175.39" y="438.00" width="7.17" height="1.45" fill="#e45656"/><rect x="97.10" y="439.40" width="7.17" height="1.45" fill="#d7d3e7"/><rect x="104.22" y="439.40" width="7.17" height="1.45" fill="#e5e2f0"/><rect x="111.33" y="439.40" width="7.17" height="1.45" fill="#afa8d0"/><rect x="118.45" y="439.40" width="7.17" height="1.45" fill="#ada6ce"/><rect x="125.57" y="439.40" width="7.17" height="1.45" fill="#dcd8ea"/><rect x="132.69" y="439.40" width="7.17" height="1.45" fill="#9b93c4"/><rect x="139.80" y="439.40" width="7.17" height="1.45" fill="#a7a0cb"/><rect x="146.92" y="439.40" width="7.17" height="1.45" fill="#8278b5"/><rect x="154.04" y="439.40" width="7.17" height="1.45" fill="#ea8080"/><rect x="161.15" y="439.40" width="7.17" height="1.45" fill="#f4cbcb"/><rect x="168.27" y="439.40" width="7.17" height="1.45" fill="#e24747"/><rect x="175.39" y="439.40" width="7.17" height="1.45" fill="#e14343"/><rect x="97.10" y="440.80" width="7.17" height="1.45" fill="#bcb6d7"/><rect x="104.22" y="440.80" width="7.17" height="1.45" fill="#c3bedc"/><rect x="111.33" y="440.80" width="7.17" height="1.45" fill="#aaa3cc"/><rect x="118.45" y="440.80" width="7.17" height="1.45" fill="#b1aad1"/><rect x="125.57" y="440.80" width="7.17" height="1.45" fill="#9e96c5"/><rect x="132.69" y="440.80" width="7.17" height="1.45" fill="#877eb8"/><rect x="139.80" y="440.80" width="7.17" height="1.45" fill="#a39bc8"/><rect x="146.92" y="440.80" width="7.17" height="1.45" fill="#6d62a8"/><rect x="154.04" y="440.80" width="7.17" height="1.45" fill="#e97a7a"/><rect x="161.15" y="440.80" width="7.17" height="1.45" fill="#ed9b9b"/><rect x="168.27" y="440.80" width="7.17" height="1.45" fill="#df2e2e"/><rect x="175.39" y="440.80" width="7.17" height="1.45" fill="#e24545"/><rect x="97.10" y="442.20" width="7.17" height="1.45" fill="#b2abd1"/><rect x="104.22" y="442.20" width="7.17" height="1.45" fill="#9d96c5"/><rect x="111.33" y="442.20" width="7.17" height="1.45" fill="#a29ac8"/><rect x="118.45" y="442.20" width="7.17" height="1.45" fill="#a8a1cb"/><rect x="125.57" y="442.20" width="7.17" height="1.45" fill="#b3acd2"/><rect x="132.69" y="442.20" width="7.17" height="1.45" fill="#887fb9"/><rect x="139.80" y="442.20" width="7.17" height="1.45" fill="#afa8cf"/><rect x="146.92" y="442.20" width="7.17" height="1.45" fill="#bab4d6"/><rect x="154.04" y="442.20" width="7.17" height="1.45" fill="#ed9898"/><rect x="161.15" y="442.20" width="7.17" height="1.45" fill="#f4caca"/><rect x="168.27" y="442.20" width="7.17" height="1.45" fill="#e55d5d"/><rect x="175.39" y="442.20" width="7.17" height="1.45" fill="#ea8585"/><rect x="97.10" y="443.60" width="7.17" height="1.45" fill="#8177b4"/><rect x="104.22" y="443.60" width="7.17" height="1.45" fill="#bcb6d7"/><rect x="111.33" y="443.60" width="7.17" height="1.45" fill="#7f76b3"/><rect x="118.45" y="443.60" width="7.17" height="1.45" fill="#a098c6"/><rect x="125.57" y="443.60" width="7.17" height="1.45" fill="#9189be"/><rect x="132.69" y="443.60" width="7.17" height="1.45" fill="#8e85bc"/><rect x="139.80" y="443.60" width="7.17" height="1.45" fill="#b5afd3"/><rect x="146.92" y="443.60" width="7.17" height="1.45" fill="#a49dc9"/><rect x="154.04" y="443.60" width="7.17" height="1.45" fill="#f3c6c6"/><rect x="161.15" y="443.60" width="7.17" height="1.45" fill="#f5f3f9"/><rect x="168.27" y="443.60" width="7.17" height="1.45" fill="#e66666"/><rect x="175.39" y="443.60" width="7.17" height="1.45" fill="#eb8888"/><rect x="97.10" y="445.00" width="7.17" height="1.45" fill="#9991c2"/><rect x="104.22" y="445.00" width="7.17" height="1.45" fill="#bdb8d8"/><rect x="111.33" y="445.00" width="7.17" height="1.45" fill="#8f86bc"/><rect x="118.45" y="445.00" width="7.17" height="1.45" fill="#9e97c6"/><rect x="125.57" y="445.00" width="7.17" height="1.45" fill="#c1bcda"/><rect x="132.69" y="445.00" width="7.17" height="1.45" fill="#ada6ce"/><rect x="139.80" y="445.00" width="7.17" height="1.45" fill="#a49dc9"/><rect x="146.92" y="445.00" width="7.17" height="1.45" fill="#cecae2"/><rect x="154.04" y="445.00" width="7.17" height="1.45" fill="#e97e7e"/><rect x="161.15" y="445.00" width="7.17" height="1.45" fill="#faf8f8"/><rect x="168.27" y="445.00" width="7.17" height="1.45" fill="#de2a2a"/><rect x="175.39" y="445.00" width="7.17" height="1.45" fill="#e24a4a"/><rect x="97.10" y="446.40" width="7.17" height="1.45" fill="#aea8cf"/><rect x="104.22" y="446.40" width="7.17" height="1.45" fill="#d9d5e8"/><rect x="111.33" y="446.40" width="7.17" height="1.45" fill="#b3add2"/><rect x="118.45" y="446.40" width="7.17" height="1.45" fill="#9a92c3"/><rect x="125.57" y="446.40" width="7.17" height="1.45" fill="#b5afd3"/><rect x="132.69" y="446.40" width="7.17" height="1.45" fill="#a39cc9"/><rect x="139.80" y="446.40" width="7.17" height="1.45" fill="#b9b3d5"/><rect x="146.92" y="446.40" width="7.17" height="1.45" fill="#c9c4df"/><rect x="154.04" y="446.40" width="7.17" height="1.45" fill="#e55b5b"/><rect x="161.15" y="446.40" width="7.17" height="1.45" fill="#f1b9b9"/><rect x="168.27" y="446.40" width="7.17" height="1.45" fill="#de2a2a"/><rect x="175.39" y="446.40" width="7.17" height="1.45" fill="#e14141"/><rect x="97.10" y="447.80" width="7.17" height="1.45" fill="#aca5ce"/><rect x="104.22" y="447.80" width="7.17" height="1.45" fill="#f9efef"/><rect x="111.33" y="447.80" width="7.17" height="1.45" fill="#a199c7"/><rect x="118.45" y="447.80" width="7.17" height="1.45" fill="#c3bddb"/><rect x="125.57" y="447.80" width="7.17" height="1.45" fill="#b8b2d5"/><rect x="132.69" y="447.80" width="7.17" height="1.45" fill="#8d84bb"/><rect x="139.80" y="447.80" width="7.17" height="1.45" fill="#b7b1d4"/><rect x="146.92" y="447.80" width="7.17" height="1.45" fill="#928abe"/><rect x="154.04" y="447.80" width="7.17" height="1.45" fill="#e76f6f"/><rect x="161.15" y="447.80" width="7.17" height="1.45" fill="#f5d0d0"/><rect x="168.27" y="447.80" width="7.17" height="1.45" fill="#e76969"/><rect x="175.39" y="447.80" width="7.17" height="1.45" fill="#e45353"/><rect x="97.10" y="449.20" width="7.17" height="1.45" fill="#b7b1d4"/><rect x="104.22" y="449.20" width="7.17" height="1.45" fill="#eeebf5"/><rect x="111.33" y="449.20" width="7.17" height="1.45" fill="#a9a1cc"/><rect x="118.45" y="449.20" width="7.17" height="1.45" fill="#bdb7d8"/><rect x="125.57" y="449.20" width="7.17" height="1.45" fill="#a49cc9"/><rect x="132.69" y="449.20" width="7.17" height="1.45" fill="#7c72b1"/><rect x="139.80" y="449.20" width="7.17" height="1.45" fill="#9e96c5"/><rect x="146.92" y="449.20" width="7.17" height="1.45" fill="#493b93"/><rect x="154.04" y="449.20" width="7.17" height="1.45" fill="#e76e6e"/><rect x="161.15" y="449.20" width="7.17" height="1.45" fill="#f5d7d7"/><rect x="168.27" y="449.20" width="7.17" height="1.45" fill="#ec9090"/><rect x="175.39" y="449.20" width="7.17" height="1.45" fill="#e56161"/><rect x="97.10" y="450.60" width="7.17" height="1.45" fill="#c0bbda"/><rect x="104.22" y="450.60" width="7.17" height="1.45" fill="#f3c4c4"/><rect x="111.33" y="450.60" width="7.17" height="1.45" fill="#b1abd1"/><rect x="118.45" y="450.60" width="7.17" height="1.45" fill="#e1deed"/><rect x="125.57" y="450.60" width="7.17" height="1.45" fill="#9a92c3"/><rect x="132.69" y="450.60" width="7.17" height="1.45" fill="#7368ac"/><rect x="139.80" y="450.60" width="7.17" height="1.45" fill="#bab4d6"/><rect x="146.92" y="450.60" width="7.17" height="1.45" fill="#887eb8"/><rect x="154.04" y="450.60" width="7.17" height="1.45" fill="#e03636"/><rect x="161.15" y="450.60" width="7.17" height="1.45" fill="#ed9999"/><rect x="168.27" y="450.60" width="7.17" height="1.45" fill="#e55a5a"/><rect x="175.39" y="450.60" width="7.17" height="1.45" fill="#e66161"/><rect x="97.10" y="452.00" width="7.17" height="1.45" fill="#a49dc9"/><rect x="104.22" y="452.00" width="7.17" height="1.45" fill="#e6e2f0"/><rect x="111.33" y="452.00" width="7.17" height="1.45" fill="#9189be"/><rect x="118.45" y="452.00" width="7.17" height="1.45" fill="#b7b1d4"/><rect x="125.57" y="452.00" width="7.17" height="1.45" fill="#938bbf"/><rect x="132.69" y="452.00" width="7.17" height="1.45" fill="#877eb8"/><rect x="139.80" y="452.00" width="7.17" height="1.45" fill="#b7b1d4"/><rect x="146.92" y="452.00" width="7.17" height="1.45" fill="#776dae"/><rect x="154.04" y="452.00" width="7.17" height="1.45" fill="#ec9090"/><rect x="161.15" y="452.00" width="7.17" height="1.45" fill="#ee9e9e"/><rect x="168.27" y="452.00" width="7.17" height="1.45" fill="#e56060"/><rect x="175.39" y="452.00" width="7.17" height="1.45" fill="#e45353"/><rect x="97.10" y="453.40" width="7.17" height="1.45" fill="#9087bd"/><rect x="104.22" y="453.40" width="7.17" height="1.45" fill="#e4e0ef"/><rect x="111.33" y="453.40" width="7.17" height="1.45" fill="#a098c7"/><rect x="118.45" y="453.40" width="7.17" height="1.45" fill="#d3cee5"/><rect x="125.57" y="453.40" width="7.17" height="1.45" fill="#7e74b2"/><rect x="132.69" y="453.40" width="7.17" height="1.45" fill="#685da5"/><rect x="139.80" y="453.40" width="7.17" height="1.45" fill="#b1aad1"/><rect x="146.92" y="453.40" width="7.17" height="1.45" fill="#968dc0"/><rect x="154.04" y="453.40" width="7.17" height="1.45" fill="#f0b2b2"/><rect x="161.15" y="453.40" width="7.17" height="1.45" fill="#f8f6fb"/><rect x="168.27" y="453.40" width="7.17" height="1.45" fill="#e76f6f"/><rect x="175.39" y="453.40" width="7.17" height="1.45" fill="#e76f6f"/><rect x="97.10" y="454.80" width="7.17" height="1.45" fill="#a098c6"/><rect x="104.22" y="454.80" width="7.17" height="1.45" fill="#c7c2de"/><rect x="111.33" y="454.80" width="7.17" height="1.45" fill="#b2acd1"/><rect x="118.45" y="454.80" width="7.17" height="1.45" fill="#e3e0ee"/><rect x="125.57" y="454.80" width="7.17" height="1.45" fill="#a29bc8"/><rect x="132.69" y="454.80" width="7.17" height="1.45" fill="#a69fca"/><rect x="139.80" y="454.80" width="7.17" height="1.45" fill="#b4add2"/><rect x="146.92" y="454.80" width="7.17" height="1.45" fill="#aca6ce"/><rect x="154.04" y="454.80" width="7.17" height="1.45" fill="#e97e7e"/><rect x="161.15" y="454.80" width="7.17" height="1.45" fill="#f0adad"/><rect x="168.27" y="454.80" width="7.17" height="1.45" fill="#de2a2a"/><rect x="175.39" y="454.80" width="7.17" height="1.45" fill="#e24444"/><rect x="97.10" y="456.20" width="7.17" height="1.45" fill="#f9f7fc"/><rect x="104.22" y="456.20" width="7.17" height="1.45" fill="#faf5f5"/><rect x="111.33" y="456.20" width="7.17" height="1.45" fill="#d3cee5"/><rect x="118.45" y="456.20" width="7.17" height="1.45" fill="#ece9f3"/><rect x="125.57" y="456.20" width="7.17" height="1.45" fill="#c8c3de"/><rect x="132.69" y="456.20" width="7.17" height="1.45" fill="#d8d4e8"/><rect x="139.80" y="456.20" width="7.17" height="1.45" fill="#d6d2e7"/><rect x="146.92" y="456.20" width="7.17" height="1.45" fill="#ccc7e1"/><rect x="154.04" y="456.20" width="7.17" height="1.45" fill="#e87070"/><rect x="161.15" y="456.20" width="7.17" height="1.45" fill="#ee9e9e"/><rect x="168.27" y="456.20" width="7.17" height="1.45" fill="#e03a3a"/><rect x="175.39" y="456.20" width="7.17" height="1.45" fill="#de2a2a"/><rect x="97.10" y="457.60" width="7.17" height="1.45" fill="#bdb7d8"/><rect x="104.22" y="457.60" width="7.17" height="1.45" fill="#dcd8ea"/><rect x="111.33" y="457.60" width="7.17" height="1.45" fill="#7368ac"/><rect x="118.45" y="457.60" width="7.17" height="1.45" fill="#c4bfdc"/><rect x="125.57" y="457.60" width="7.17" height="1.45" fill="#a69fca"/><rect x="132.69" y="457.60" width="7.17" height="1.45" fill="#8b82ba"/><rect x="139.80" y="457.60" width="7.17" height="1.45" fill="#7f76b3"/><rect x="146.92" y="457.60" width="7.17" height="1.45" fill="#867db7"/><rect x="154.04" y="457.60" width="7.17" height="1.45" fill="#f0adad"/><rect x="161.15" y="457.60" width="7.17" height="1.45" fill="#f4cdcd"/><rect x="168.27" y="457.60" width="7.17" height="1.45" fill="#e76f6f"/><rect x="175.39" y="457.60" width="7.17" height="1.45" fill="#ec8e8e"/><rect x="97.10" y="459.00" width="7.17" height="1.45" fill="#a098c6"/><rect x="104.22" y="459.00" width="7.17" height="1.45" fill="#c4bfdc"/><rect x="111.33" y="459.00" width="7.17" height="1.45" fill="#756bad"/><rect x="118.45" y="459.00" width="7.17" height="1.45" fill="#d9d5e9"/><rect x="125.57" y="459.00" width="7.17" height="1.45" fill="#cbc6e0"/><rect x="132.69" y="459.00" width="7.17" height="1.45" fill="#b4aed2"/><rect x="139.80" y="459.00" width="7.17" height="1.45" fill="#b0aad0"/><rect x="146.92" y="459.00" width="7.17" height="1.45" fill="#887fb8"/><rect x="154.04" y="459.00" width="7.17" height="1.45" fill="#f0aeae"/><rect x="161.15" y="459.00" width="7.17" height="1.45" fill="#f6dddd"/><rect x="168.27" y="459.00" width="7.17" height="1.45" fill="#e97b7b"/><rect x="175.39" y="459.00" width="7.17" height="1.45" fill="#e76f6f"/><rect x="97.10" y="460.40" width="7.17" height="1.45" fill="#aba4cd"/><rect x="104.22" y="460.40" width="7.17" height="1.45" fill="#e6e2f0"/><rect x="111.33" y="460.40" width="7.17" height="1.45" fill="#857bb6"/><rect x="118.45" y="460.40" width="7.17" height="1.45" fill="#b3add2"/><rect x="125.57" y="460.40" width="7.17" height="1.45" fill="#5e529f"/><rect x="132.69" y="460.40" width="7.17" height="1.45" fill="#8b82ba"/><rect x="139.80" y="460.40" width="7.17" height="1.45" fill="#a8a0cb"/><rect x="146.92" y="460.40" width="7.17" height="1.45" fill="#7c72b1"/><rect x="154.04" y="460.40" width="7.17" height="1.45" fill="#efa6a6"/><rect x="161.15" y="460.40" width="7.17" height="1.45" fill="#f5d1d1"/><rect x="168.27" y="460.40" width="7.17" height="1.45" fill="#e76c6c"/><rect x="175.39" y="460.40" width="7.17" height="1.45" fill="#ec8f8f"/><rect x="97.10" y="461.80" width="7.17" height="1.45" fill="#afa8cf"/><rect x="104.22" y="461.80" width="7.17" height="1.45" fill="#f9f1f1"/><rect x="111.33" y="461.80" width="7.17" height="1.45" fill="#beb8d8"/><rect x="118.45" y="461.80" width="7.17" height="1.45" fill="#c7c2de"/><rect x="125.57" y="461.80" width="7.17" height="1.45" fill="#564a9b"/><rect x="132.69" y="461.80" width="7.17" height="1.45" fill="#afa9d0"/><rect x="139.80" y="461.80" width="7.17" height="1.45" fill="#b2acd1"/><rect x="146.92" y="461.80" width="7.17" height="1.45" fill="#afa9d0"/><rect x="154.04" y="461.80" width="7.17" height="1.45" fill="#ed9c9c"/><rect x="161.15" y="461.80" width="7.17" height="1.45" fill="#ed9a9a"/><rect x="168.27" y="461.80" width="7.17" height="1.45" fill="#de2a2a"/><rect x="175.39" y="461.80" width="7.17" height="1.45" fill="#de2e2e"/><rect x="97.10" y="463.20" width="7.17" height="1.45" fill="#bbb5d7"/><rect x="104.22" y="463.20" width="7.17" height="1.45" fill="#e9e6f2"/><rect x="111.33" y="463.20" width="7.17" height="1.45" fill="#887fb8"/><rect x="118.45" y="463.20" width="7.17" height="1.45" fill="#cdc8e1"/><rect x="125.57" y="463.20" width="7.17" height="1.45" fill="#7066aa"/><rect x="132.69" y="463.20" width="7.17" height="1.45" fill="#b0aad0"/><rect x="139.80" y="463.20" width="7.17" height="1.45" fill="#b2acd1"/><rect x="146.92" y="463.20" width="7.17" height="1.45" fill="#c9c4df"/><rect x="154.04" y="463.20" width="7.17" height="1.45" fill="#e87171"/><rect x="161.15" y="463.20" width="7.17" height="1.45" fill="#f1b3b3"/><rect x="168.27" y="463.20" width="7.17" height="1.45" fill="#de2a2a"/><rect x="175.39" y="463.20" width="7.17" height="1.45" fill="#de2a2a"/><rect x="97.10" y="464.60" width="7.17" height="1.45" fill="#bfbad9"/><rect x="104.22" y="464.60" width="7.17" height="1.45" fill="#c8c3de"/><rect x="111.33" y="464.60" width="7.17" height="1.45" fill="#786eaf"/><rect x="118.45" y="464.60" width="7.17" height="1.45" fill="#cfcae3"/><rect x="125.57" y="464.60" width="7.17" height="1.45" fill="#9c94c4"/><rect x="132.69" y="464.60" width="7.17" height="1.45" fill="#e5e2f0"/><rect x="139.80" y="464.60" width="7.17" height="1.45" fill="#a79fcb"/><rect x="146.92" y="464.60" width="7.17" height="1.45" fill="#d8d4e8"/><rect x="154.04" y="464.60" width="7.17" height="1.45" fill="#e66767"/><rect x="161.15" y="464.60" width="7.17" height="1.45" fill="#f6dede"/><rect x="168.27" y="464.60" width="7.17" height="1.45" fill="#e24646"/><rect x="175.39" y="464.60" width="7.17" height="1.45" fill="#df2f2f"/><rect x="97.10" y="466.00" width="7.17" height="1.45" fill="#bab4d6"/><rect x="104.22" y="466.00" width="7.17" height="1.45" fill="#c0bad9"/><rect x="111.33" y="466.00" width="7.17" height="1.45" fill="#786eaf"/><rect x="118.45" y="466.00" width="7.17" height="1.45" fill="#d0cbe3"/><rect x="125.57" y="466.00" width="7.17" height="1.45" fill="#8d84bb"/><rect x="132.69" y="466.00" width="7.17" height="1.45" fill="#c0bada"/><rect x="139.80" y="466.00" width="7.17" height="1.45" fill="#c5bfdc"/><rect x="146.92" y="466.00" width="7.17" height="1.45" fill="#b8b2d5"/><rect x="154.04" y="466.00" width="7.17" height="1.45" fill="#ec9393"/><rect x="161.15" y="466.00" width="7.17" height="1.45" fill="#f6dada"/><rect x="168.27" y="466.00" width="7.17" height="1.45" fill="#e76a6a"/><rect x="175.39" y="466.00" width="7.17" height="1.45" fill="#e24545"/><rect x="97.10" y="467.40" width="7.17" height="1.45" fill="#d8d3e8"/><rect x="104.22" y="467.40" width="7.17" height="1.45" fill="#bcb6d7"/><rect x="111.33" y="467.40" width="7.17" height="1.45" fill="#aea8cf"/><rect x="118.45" y="467.40" width="7.17" height="1.45" fill="#d7d3e7"/><rect x="125.57" y="467.40" width="7.17" height="1.45" fill="#9f97c6"/><rect x="132.69" y="467.40" width="7.17" height="1.45" fill="#8177b4"/><rect x="139.80" y="467.40" width="7.17" height="1.45" fill="#b9b3d6"/><rect x="146.92" y="467.40" width="7.17" height="1.45" fill="#b4aed3"/><rect x="154.04" y="467.40" width="7.17" height="1.45" fill="#efa4a4"/><rect x="161.15" y="467.40" width="7.17" height="1.45" fill="#f8e6e6"/><rect x="168.27" y="467.40" width="7.17" height="1.45" fill="#e03838"/><rect x="175.39" y="467.40" width="7.17" height="1.45" fill="#e55f5f"/><rect x="97.10" y="468.80" width="7.17" height="1.45" fill="#bdb7d8"/><rect x="104.22" y="468.80" width="7.17" height="1.45" fill="#e9e6f2"/><rect x="111.33" y="468.80" width="7.17" height="1.45" fill="#968dc0"/><rect x="118.45" y="468.80" width="7.17" height="1.45" fill="#d0cbe3"/><rect x="125.57" y="468.80" width="7.17" height="1.45" fill="#cac5df"/><rect x="132.69" y="468.80" width="7.17" height="1.45" fill="#8379b5"/><rect x="139.80" y="468.80" width="7.17" height="1.45" fill="#d2cee4"/><rect x="146.92" y="468.80" width="7.17" height="1.45" fill="#dcd9ea"/><rect x="154.04" y="468.80" width="7.17" height="1.45" fill="#efa8a8"/><rect x="161.15" y="468.80" width="7.17" height="1.45" fill="#f7e3e3"/><rect x="168.27" y="468.80" width="7.17" height="1.45" fill="#e34e4e"/><rect x="175.39" y="468.80" width="7.17" height="1.45" fill="#e97a7a"/><rect x="97.10" y="470.20" width="7.17" height="1.45" fill="#877eb8"/><rect x="104.22" y="470.20" width="7.17" height="1.45" fill="#d1cde4"/><rect x="111.33" y="470.20" width="7.17" height="1.45" fill="#655aa3"/><rect x="118.45" y="470.20" width="7.17" height="1.45" fill="#d0cbe3"/><rect x="125.57" y="470.20" width="7.17" height="1.45" fill="#b0aad0"/><rect x="132.69" y="470.20" width="7.17" height="1.45" fill="#938abf"/><rect x="139.80" y="470.20" width="7.17" height="1.45" fill="#c9c4df"/><rect x="146.92" y="470.20" width="7.17" height="1.45" fill="#d5d0e6"/><rect x="154.04" y="470.20" width="7.17" height="1.45" fill="#eb8686"/><rect x="161.15" y="470.20" width="7.17" height="1.45" fill="#f2baba"/><rect x="168.27" y="470.20" width="7.17" height="1.45" fill="#e14141"/><rect x="175.39" y="470.20" width="7.17" height="1.45" fill="#e34e4e"/><rect x="97.10" y="471.60" width="7.17" height="1.45" fill="#c1bcda"/><rect x="104.22" y="471.60" width="7.17" height="1.45" fill="#d8d4e8"/><rect x="111.33" y="471.60" width="7.17" height="1.45" fill="#6559a3"/><rect x="118.45" y="471.60" width="7.17" height="1.45" fill="#cfcae2"/><rect x="125.57" y="471.60" width="7.17" height="1.45" fill="#665aa4"/><rect x="132.69" y="471.60" width="7.17" height="1.45" fill="#443790"/><rect x="139.80" y="471.60" width="7.17" height="1.45" fill="#7b72b1"/><rect x="146.92" y="471.60" width="7.17" height="1.45" fill="#9c94c4"/><rect x="154.04" y="471.60" width="7.17" height="1.45" fill="#eea2a2"/><rect x="161.15" y="471.60" width="7.17" height="1.45" fill="#f8e6e6"/><rect x="168.27" y="471.60" width="7.17" height="1.45" fill="#ea8080"/><rect x="175.39" y="471.60" width="7.17" height="1.45" fill="#ec9090"/><rect x="97.10" y="473.00" width="7.17" height="1.45" fill="#b5aed3"/><rect x="104.22" y="473.00" width="7.17" height="1.45" fill="#f3c4c4"/><rect x="111.33" y="473.00" width="7.17" height="1.45" fill="#8379b5"/><rect x="118.45" y="473.00" width="7.17" height="1.45" fill="#e3e0ee"/><rect x="125.57" y="473.00" width="7.17" height="1.45" fill="#9d96c5"/><rect x="132.69" y="473.00" width="7.17" height="1.45" fill="#8177b4"/><rect x="139.80" y="473.00" width="7.17" height="1.45" fill="#a29bc8"/><rect x="146.92" y="473.00" width="7.17" height="1.45" fill="#978fc1"/><rect x="154.04" y="473.00" width="7.17" height="1.45" fill="#f0b1b1"/><rect x="161.15" y="473.00" width="7.17" height="1.45" fill="#f1b4b4"/><rect x="168.27" y="473.00" width="7.17" height="1.45" fill="#e97c7c"/><rect x="175.39" y="473.00" width="7.17" height="1.45" fill="#e66666"/><rect x="97.10" y="474.40" width="7.17" height="1.45" fill="#7a70b0"/><rect x="104.22" y="474.40" width="7.17" height="1.45" fill="#f2eff7"/><rect x="111.33" y="474.40" width="7.17" height="1.45" fill="#796eaf"/><rect x="118.45" y="474.40" width="7.17" height="1.45" fill="#a69eca"/><rect x="125.57" y="474.40" width="7.17" height="1.45" fill="#978fc1"/><rect x="132.69" y="474.40" width="7.17" height="1.45" fill="#685ca5"/><rect x="139.80" y="474.40" width="7.17" height="1.45" fill="#8379b5"/><rect x="146.92" y="474.40" width="7.17" height="1.45" fill="#8980b9"/><rect x="154.04" y="474.40" width="7.17" height="1.45" fill="#f6dada"/><rect x="161.15" y="474.40" width="7.17" height="1.45" fill="#f2c0c0"/><rect x="168.27" y="474.40" width="7.17" height="1.45" fill="#e97c7c"/><rect x="175.39" y="474.40" width="7.17" height="1.45" fill="#ea8181"/><rect x="97.10" y="475.80" width="7.17" height="1.45" fill="#8d84bb"/><rect x="104.22" y="475.80" width="7.17" height="1.45" fill="#dfdbec"/><rect x="111.33" y="475.80" width="7.17" height="1.45" fill="#beb8d8"/><rect x="118.45" y="475.80" width="7.17" height="1.45" fill="#d0cce3"/><rect x="125.57" y="475.80" width="7.17" height="1.45" fill="#ada6ce"/><rect x="132.69" y="475.80" width="7.17" height="1.45" fill="#6b61a7"/><rect x="139.80" y="475.80" width="7.17" height="1.45" fill="#a49cc9"/><rect x="146.92" y="475.80" width="7.17" height="1.45" fill="#978fc1"/><rect x="154.04" y="475.80" width="7.17" height="1.45" fill="#ec9494"/><rect x="161.15" y="475.80" width="7.17" height="1.45" fill="#f1b3b3"/><rect x="168.27" y="475.80" width="7.17" height="1.45" fill="#e03a3a"/><rect x="175.39" y="475.80" width="7.17" height="1.45" fill="#e76d6d"/><rect x="97.10" y="477.20" width="7.17" height="1.45" fill="#675ca5"/><rect x="104.22" y="477.20" width="7.17" height="1.45" fill="#aaa3cd"/><rect x="111.33" y="477.20" width="7.17" height="1.45" fill="#837ab6"/><rect x="118.45" y="477.20" width="7.17" height="1.45" fill="#9087bd"/><rect x="125.57" y="477.20" width="7.17" height="1.45" fill="#a9a2cc"/><rect x="132.69" y="477.20" width="7.17" height="1.45" fill="#7e74b2"/><rect x="139.80" y="477.20" width="7.17" height="1.45" fill="#a49cc9"/><rect x="146.92" y="477.20" width="7.17" height="1.45" fill="#9188bd"/><rect x="154.04" y="477.20" width="7.17" height="1.45" fill="#f0abab"/><rect x="161.15" y="477.20" width="7.17" height="1.45" fill="#f7e5e5"/><rect x="168.27" y="477.20" width="7.17" height="1.45" fill="#e55f5f"/><rect x="175.39" y="477.20" width="7.17" height="1.45" fill="#e97c7c"/><rect x="97.10" y="478.60" width="7.17" height="0.65" fill="#9289be"/><rect x="104.22" y="478.60" width="7.17" height="0.65" fill="#9b93c3"/><rect x="111.33" y="478.60" width="7.17" height="0.65" fill="#786eaf"/><rect x="118.45" y="478.60" width="7.17" height="0.65" fill="#9c94c4"/><rect x="125.57" y="478.60" width="7.17" height="0.65" fill="#9890c2"/><rect x="132.69" y="478.60" width="7.17" height="0.65" fill="#9a92c3"/><rect x="139.80" y="478.60" width="7.17" height="0.65" fill="#978ec1"/><rect x="146.92" y="478.60" width="7.17" height="0.65" fill="#a7a0cb"/><rect x="154.04" y="478.60" width="7.17" height="0.65" fill="#f1b8b8"/><rect x="161.15" y="478.60" width="7.17" height="0.65" fill="#f6f4fa"/><rect x="168.27" y="478.60" width="7.17" height="0.65" fill="#e03838"/><rect x="175.39" y="478.60" width="7.17" height="0.65" fill="#e55e5e"/><rect x="97.10" y="479.20" width="7.17" height="1.45" fill="#ea7f7f"/><rect x="104.22" y="479.20" width="7.17" height="1.45" fill="#ee9e9e"/><rect x="111.33" y="479.20" width="7.17" height="1.45" fill="#e87373"/><rect x="118.45" y="479.20" width="7.17" height="1.45" fill="#e87575"/><rect x="125.57" y="479.20" width="7.17" height="1.45" fill="#8076b3"/><rect x="132.69" y="479.20" width="7.17" height="1.45" fill="#a49cc9"/><rect x="139.80" y="479.20" width="7.17" height="1.45" fill="#cdc8e1"/><rect x="146.92" y="479.20" width="7.17" height="1.45" fill="#cfcae2"/><rect x="154.04" y="479.20" width="7.17" height="1.45" fill="#c1bcda"/><rect x="161.15" y="479.20" width="7.17" height="1.45" fill="#746aad"/><rect x="168.27" y="479.20" width="7.17" height="1.45" fill="#f5f2f9"/><rect x="175.39" y="479.20" width="7.17" height="1.45" fill="#d6d1e6"/><rect x="97.10" y="480.60" width="7.17" height="1.45" fill="#e66363"/><rect x="104.22" y="480.60" width="7.17" height="1.45" fill="#e66767"/><rect x="111.33" y="480.60" width="7.17" height="1.45" fill="#e45858"/><rect x="118.45" y="480.60" width="7.17" height="1.45" fill="#e55e5e"/><rect x="125.57" y="480.60" width="7.17" height="1.45" fill="#a29ac8"/><rect x="132.69" y="480.60" width="7.17" height="1.45" fill="#bcb6d7"/><rect x="139.80" y="480.60" width="7.17" height="1.45" fill="#cbc6e0"/><rect x="146.92" y="480.60" width="7.17" height="1.45" fill="#c8c2de"/><rect x="154.04" y="480.60" width="7.17" height="1.45" fill="#d9d5e9"/><rect x="161.15" y="480.60" width="7.17" height="1.45" fill="#7b71b1"/><rect x="168.27" y="480.60" width="7.17" height="1.45" fill="#f4cece"/><rect x="175.39" y="480.60" width="7.17" height="1.45" fill="#f2f0f7"/><rect x="97.10" y="482.00" width="7.17" height="1.45" fill="#f2baba"/><rect x="104.22" y="482.00" width="7.17" height="1.45" fill="#f0b1b1"/><rect x="111.33" y="482.00" width="7.17" height="1.45" fill="#f3c7c7"/><rect x="118.45" y="482.00" width="7.17" height="1.45" fill="#ea7f7f"/><rect x="125.57" y="482.00" width="7.17" height="1.45" fill="#8e86bc"/><rect x="132.69" y="482.00" width="7.17" height="1.45" fill="#dcd8ea"/><rect x="139.80" y="482.00" width="7.17" height="1.45" fill="#aca5ce"/><rect x="146.92" y="482.00" width="7.17" height="1.45" fill="#b0aad0"/><rect x="154.04" y="482.00" width="7.17" height="1.45" fill="#f3f0f8"/><rect x="161.15" y="482.00" width="7.17" height="1.45" fill="#7c72b1"/><rect x="168.27" y="482.00" width="7.17" height="1.45" fill="#f8ecec"/><rect x="175.39" y="482.00" width="7.17" height="1.45" fill="#dad6e9"/><rect x="97.10" y="483.40" width="7.17" height="1.45" fill="#ec9393"/><rect x="104.22" y="483.40" width="7.17" height="1.45" fill="#e97a7a"/><rect x="111.33" y="483.40" width="7.17" height="1.45" fill="#ee9e9e"/><rect x="118.45" y="483.40" width="7.17" height="1.45" fill="#e24545"/><rect x="125.57" y="483.40" width="7.17" height="1.45" fill="#8379b5"/><rect x="132.69" y="483.40" width="7.17" height="1.45" fill="#dbd7ea"/><rect x="139.80" y="483.40" width="7.17" height="1.45" fill="#cecae2"/><rect x="146.92" y="483.40" width="7.17" height="1.45" fill="#dfdcec"/><rect x="154.04" y="483.40" width="7.17" height="1.45" fill="#eeebf5"/><rect x="161.15" y="483.40" width="7.17" height="1.45" fill="#b2abd1"/><rect x="168.27" y="483.40" width="7.17" height="1.45" fill="#f8ebeb"/><rect x="175.39" y="483.40" width="7.17" height="1.45" fill="#e7e4f1"/><rect x="97.10" y="484.80" width="7.17" height="1.45" fill="#f0afaf"/><rect x="104.22" y="484.80" width="7.17" height="1.45" fill="#eb8c8c"/><rect x="111.33" y="484.80" width="7.17" height="1.45" fill="#e66262"/><rect x="118.45" y="484.80" width="7.17" height="1.45" fill="#e34d4d"/><rect x="125.57" y="484.80" width="7.17" height="1.45" fill="#8980b9"/><rect x="132.69" y="484.80" width="7.17" height="1.45" fill="#a39cc8"/><rect x="139.80" y="484.80" width="7.17" height="1.45" fill="#b5aed3"/><rect x="146.92" y="484.80" width="7.17" height="1.45" fill="#edeaf4"/><rect x="154.04" y="484.80" width="7.17" height="1.45" fill="#f2f0f7"/><rect x="161.15" y="484.80" width="7.17" height="1.45" fill="#7b71b1"/><rect x="168.27" y="484.80" width="7.17" height="1.45" fill="#d2cee4"/><rect x="175.39" y="484.80" width="7.17" height="1.45" fill="#beb9d9"/><rect x="97.10" y="486.20" width="7.17" height="1.45" fill="#f5d5d5"/><rect x="104.22" y="486.20" width="7.17" height="1.45" fill="#f0aeae"/><rect x="111.33" y="486.20" width="7.17" height="1.45" fill="#e97a7a"/><rect x="118.45" y="486.20" width="7.17" height="1.45" fill="#e97d7d"/><rect x="125.57" y="486.20" width="7.17" height="1.45" fill="#7d73b2"/><rect x="132.69" y="486.20" width="7.17" height="1.45" fill="#8278b5"/><rect x="139.80" y="486.20" width="7.17" height="1.45" fill="#7267ab"/><rect x="146.92" y="486.20" width="7.17" height="1.45" fill="#bcb6d7"/><rect x="154.04" y="486.20" width="7.17" height="1.45" fill="#f9efef"/><rect x="161.15" y="486.20" width="7.17" height="1.45" fill="#6155a1"/><rect x="168.27" y="486.20" width="7.17" height="1.45" fill="#f7dfdf"/><rect x="175.39" y="486.20" width="7.17" height="1.45" fill="#e3dfee"/><rect x="97.10" y="487.60" width="7.17" height="1.45" fill="#f0acac"/><rect x="104.22" y="487.60" width="7.17" height="1.45" fill="#f3c5c5"/><rect x="111.33" y="487.60" width="7.17" height="1.45" fill="#eea2a2"/><rect x="118.45" y="487.60" width="7.17" height="1.45" fill="#f1b3b3"/><rect x="125.57" y="487.60" width="7.17" height="1.45" fill="#9a92c3"/><rect x="132.69" y="487.60" width="7.17" height="1.45" fill="#b1abd1"/><rect x="139.80" y="487.60" width="7.17" height="1.45" fill="#7e75b3"/><rect x="146.92" y="487.60" width="7.17" height="1.45" fill="#c3bddb"/><rect x="154.04" y="487.60" width="7.17" height="1.45" fill="#f8eaea"/><rect x="161.15" y="487.60" width="7.17" height="1.45" fill="#a199c7"/><rect x="168.27" y="487.60" width="7.17" height="1.45" fill="#f5d4d4"/><rect x="175.39" y="487.60" width="7.17" height="1.45" fill="#e7e4f1"/><rect x="97.10" y="489.00" width="7.17" height="1.45" fill="#f1b7b7"/><rect x="104.22" y="489.00" width="7.17" height="1.45" fill="#ec9191"/><rect x="111.33" y="489.00" width="7.17" height="1.45" fill="#eea3a3"/><rect x="118.45" y="489.00" width="7.17" height="1.45" fill="#f2c0c0"/><rect x="125.57" y="489.00" width="7.17" height="1.45" fill="#a7a0cb"/><rect x="132.69" y="489.00" width="7.17" height="1.45" fill="#afa8cf"/><rect x="139.80" y="489.00" width="7.17" height="1.45" fill="#837ab5"/><rect x="146.92" y="489.00" width="7.17" height="1.45" fill="#9c94c4"/><rect x="154.04" y="489.00" width="7.17" height="1.45" fill="#c1bcda"/><rect x="161.15" y="489.00" width="7.17" height="1.45" fill="#756aad"/><rect x="168.27" y="489.00" width="7.17" height="1.45" fill="#f7e0e0"/><rect x="175.39" y="489.00" width="7.17" height="1.45" fill="#cac5df"/><rect x="97.10" y="490.40" width="7.17" height="1.45" fill="#ed9999"/><rect x="104.22" y="490.40" width="7.17" height="1.45" fill="#e66969"/><rect x="111.33" y="490.40" width="7.17" height="1.45" fill="#efa9a9"/><rect x="118.45" y="490.40" width="7.17" height="1.45" fill="#ea8484"/><rect x="125.57" y="490.40" width="7.17" height="1.45" fill="#8e85bc"/><rect x="132.69" y="490.40" width="7.17" height="1.45" fill="#bdb7d8"/><rect x="139.80" y="490.40" width="7.17" height="1.45" fill="#9c95c4"/><rect x="146.92" y="490.40" width="7.17" height="1.45" fill="#b3acd2"/><rect x="154.04" y="490.40" width="7.17" height="1.45" fill="#e7e4f1"/><rect x="161.15" y="490.40" width="7.17" height="1.45" fill="#8076b4"/><rect x="168.27" y="490.40" width="7.17" height="1.45" fill="#f5d4d4"/><rect x="175.39" y="490.40" width="7.17" height="1.45" fill="#ebe8f3"/><rect x="97.10" y="491.80" width="7.17" height="1.45" fill="#ee9e9e"/><rect x="104.22" y="491.80" width="7.17" height="1.45" fill="#e87575"/><rect x="111.33" y="491.80" width="7.17" height="1.45" fill="#e45656"/><rect x="118.45" y="491.80" width="7.17" height="1.45" fill="#e76e6e"/><rect x="125.57" y="491.80" width="7.17" height="1.45" fill="#a49dc9"/><rect x="132.69" y="491.80" width="7.17" height="1.45" fill="#a29ac8"/><rect x="139.80" y="491.80" width="7.17" height="1.45" fill="#948cc0"/><rect x="146.92" y="491.80" width="7.17" height="1.45" fill="#b0a9d0"/><rect x="154.04" y="491.80" width="7.17" height="1.45" fill="#e9e6f2"/><rect x="161.15" y="491.80" width="7.17" height="1.45" fill="#6f65aa"/><rect x="168.27" y="491.80" width="7.17" height="1.45" fill="#f3c4c4"/><rect x="175.39" y="491.80" width="7.17" height="1.45" fill="#dcd8ea"/><rect x="97.10" y="493.20" width="7.17" height="1.45" fill="#efa9a9"/><rect x="104.22" y="493.20" width="7.17" height="1.45" fill="#ea7f7f"/><rect x="111.33" y="493.20" width="7.17" height="1.45" fill="#e97b7b"/><rect x="118.45" y="493.20" width="7.17" height="1.45" fill="#ea7f7f"/><rect x="125.57" y="493.20" width="7.17" height="1.45" fill="#8a81ba"/><rect x="132.69" y="493.20" width="7.17" height="1.45" fill="#aaa3cd"/><rect x="139.80" y="493.20" width="7.17" height="1.45" fill="#8178b4"/><rect x="146.92" y="493.20" width="7.17" height="1.45" fill="#d6d2e7"/><rect x="154.04" y="493.20" width="7.17" height="1.45" fill="#f9f1f1"/><rect x="161.15" y="493.20" width="7.17" height="1.45" fill="#8e85bc"/><rect x="168.27" y="493.20" width="7.17" height="1.45" fill="#f6dcdc"/><rect x="175.39" y="493.20" width="7.17" height="1.45" fill="#eae7f2"/><rect x="97.10" y="494.60" width="7.17" height="1.45" fill="#eb8c8c"/><rect x="104.22" y="494.60" width="7.17" height="1.45" fill="#e87272"/><rect x="111.33" y="494.60" width="7.17" height="1.45" fill="#e45353"/><rect x="118.45" y="494.60" width="7.17" height="1.45" fill="#e45454"/><rect x="125.57" y="494.60" width="7.17" height="1.45" fill="#978fc1"/><rect x="132.69" y="494.60" width="7.17" height="1.45" fill="#bfbad9"/><rect x="139.80" y="494.60" width="7.17" height="1.45" fill="#e7e3f1"/><rect x="146.92" y="494.60" width="7.17" height="1.45" fill="#cbc7e0"/><rect x="154.04" y="494.60" width="7.17" height="1.45" fill="#f6dddd"/><rect x="161.15" y="494.60" width="7.17" height="1.45" fill="#b3acd2"/><rect x="168.27" y="494.60" width="7.17" height="1.45" fill="#f4caca"/><rect x="175.39" y="494.60" width="7.17" height="1.45" fill="#f5d4d4"/><rect x="97.10" y="496.00" width="7.17" height="1.45" fill="#ee9f9f"/><rect x="104.22" y="496.00" width="7.17" height="1.45" fill="#f0b0b0"/><rect x="111.33" y="496.00" width="7.17" height="1.45" fill="#efabab"/><rect x="118.45" y="496.00" width="7.17" height="1.45" fill="#f0adad"/><rect x="125.57" y="496.00" width="7.17" height="1.45" fill="#b3acd2"/><rect x="132.69" y="496.00" width="7.17" height="1.45" fill="#c8c3de"/><rect x="139.80" y="496.00" width="7.17" height="1.45" fill="#d9d5e8"/><rect x="146.92" y="496.00" width="7.17" height="1.45" fill="#a099c7"/><rect x="154.04" y="496.00" width="7.17" height="1.45" fill="#f2f0f7"/><rect x="161.15" y="496.00" width="7.17" height="1.45" fill="#8e86bc"/><rect x="168.27" y="496.00" width="7.17" height="1.45" fill="#efecf6"/><rect x="175.39" y="496.00" width="7.17" height="1.45" fill="#edeaf4"/><rect x="97.10" y="497.40" width="7.17" height="1.45" fill="#ed9c9c"/><rect x="104.22" y="497.40" width="7.17" height="1.45" fill="#eb8989"/><rect x="111.33" y="497.40" width="7.17" height="1.45" fill="#eb8b8b"/><rect x="118.45" y="497.40" width="7.17" height="1.45" fill="#e87676"/><rect x="125.57" y="497.40" width="7.17" height="1.45" fill="#a49cc9"/><rect x="132.69" y="497.40" width="7.17" height="1.45" fill="#b5afd3"/><rect x="139.80" y="497.40" width="7.17" height="1.45" fill="#beb8d8"/><rect x="146.92" y="497.40" width="7.17" height="1.45" fill="#9f97c6"/><rect x="154.04" y="497.40" width="7.17" height="1.45" fill="#f4cdcd"/><rect x="161.15" y="497.40" width="7.17" height="1.45" fill="#a098c6"/><rect x="168.27" y="497.40" width="7.17" height="1.45" fill="#f9eded"/><rect x="175.39" y="497.40" width="7.17" height="1.45" fill="#f4cdcd"/><rect x="97.10" y="498.80" width="7.17" height="1.45" fill="#e97d7d"/><rect x="104.22" y="498.80" width="7.17" height="1.45" fill="#e87575"/><rect x="111.33" y="498.80" width="7.17" height="1.45" fill="#eb8686"/><rect x="118.45" y="498.80" width="7.17" height="1.45" fill="#ee9d9d"/><rect x="125.57" y="498.80" width="7.17" height="1.45" fill="#a59dc9"/><rect x="132.69" y="498.80" width="7.17" height="1.45" fill="#cec9e2"/><rect x="139.80" y="498.80" width="7.17" height="1.45" fill="#d7d3e7"/><rect x="146.92" y="498.80" width="7.17" height="1.45" fill="#b0a9d0"/><rect x="154.04" y="498.80" width="7.17" height="1.45" fill="#f7e1e1"/><rect x="161.15" y="498.80" width="7.17" height="1.45" fill="#a39bc8"/><rect x="168.27" y="498.80" width="7.17" height="1.45" fill="#f6dcdc"/><rect x="175.39" y="498.80" width="7.17" height="1.45" fill="#f4cece"/><rect x="97.10" y="500.20" width="7.17" height="1.45" fill="#eea1a1"/><rect x="104.22" y="500.20" width="7.17" height="1.45" fill="#e87777"/><rect x="111.33" y="500.20" width="7.17" height="1.45" fill="#ec9191"/><rect x="118.45" y="500.20" width="7.17" height="1.45" fill="#eb8d8d"/><rect x="125.57" y="500.20" width="7.17" height="1.45" fill="#ada6ce"/><rect x="132.69" y="500.20" width="7.17" height="1.45" fill="#afa9d0"/><rect x="139.80" y="500.20" width="7.17" height="1.45" fill="#d0cce3"/><rect x="146.92" y="500.20" width="7.17" height="1.45" fill="#cec9e2"/><rect x="154.04" y="500.20" width="7.17" height="1.45" fill="#edeaf4"/><rect x="161.15" y="500.20" width="7.17" height="1.45" fill="#c7c1de"/><rect x="168.27" y="500.20" width="7.17" height="1.45" fill="#f1b6b6"/><rect x="175.39" y="500.20" width="7.17" height="1.45" fill="#f2bebe"/><rect x="97.10" y="501.60" width="7.17" height="1.45" fill="#ea8282"/><rect x="104.22" y="501.60" width="7.17" height="1.45" fill="#e34b4b"/><rect x="111.33" y="501.60" width="7.17" height="1.45" fill="#e56060"/><rect x="118.45" y="501.60" width="7.17" height="1.45" fill="#e24444"/><rect x="125.57" y="501.60" width="7.17" height="1.45" fill="#877eb8"/><rect x="132.69" y="501.60" width="7.17" height="1.45" fill="#ece9f4"/><rect x="139.80" y="501.60" width="7.17" height="1.45" fill="#faf6f6"/><rect x="146.92" y="501.60" width="7.17" height="1.45" fill="#d2cee4"/><rect x="154.04" y="501.60" width="7.17" height="1.45" fill="#faf4f4"/><rect x="161.15" y="501.60" width="7.17" height="1.45" fill="#bab5d6"/><rect x="168.27" y="501.60" width="7.17" height="1.45" fill="#f4caca"/><rect x="175.39" y="501.60" width="7.17" height="1.45" fill="#f7e2e2"/><rect x="97.10" y="503.00" width="7.17" height="1.45" fill="#efa6a6"/><rect x="104.22" y="503.00" width="7.17" height="1.45" fill="#ed9999"/><rect x="111.33" y="503.00" width="7.17" height="1.45" fill="#ec9393"/><rect x="118.45" y="503.00" width="7.17" height="1.45" fill="#e97a7a"/><rect x="125.57" y="503.00" width="7.17" height="1.45" fill="#9890c2"/><rect x="132.69" y="503.00" width="7.17" height="1.45" fill="#afa8d0"/><rect x="139.80" y="503.00" width="7.17" height="1.45" fill="#d6d2e7"/><rect x="146.92" y="503.00" width="7.17" height="1.45" fill="#d6d1e6"/><rect x="154.04" y="503.00" width="7.17" height="1.45" fill="#f5f3f9"/><rect x="161.15" y="503.00" width="7.17" height="1.45" fill="#948bbf"/><rect x="168.27" y="503.00" width="7.17" height="1.45" fill="#faf6f6"/><rect x="175.39" y="503.00" width="7.17" height="1.45" fill="#eeebf5"/><rect x="97.10" y="504.40" width="7.17" height="1.45" fill="#e87171"/><rect x="104.22" y="504.40" width="7.17" height="1.45" fill="#e66262"/><rect x="111.33" y="504.40" width="7.17" height="1.45" fill="#e97d7d"/><rect x="118.45" y="504.40" width="7.17" height="1.45" fill="#e66262"/><rect x="125.57" y="504.40" width="7.17" height="1.45" fill="#9f97c6"/><rect x="132.69" y="504.40" width="7.17" height="1.45" fill="#c3bedc"/><rect x="139.80" y="504.40" width="7.17" height="1.45" fill="#b0a9d0"/><rect x="146.92" y="504.40" width="7.17" height="1.45" fill="#bbb5d7"/><rect x="154.04" y="504.40" width="7.17" height="1.45" fill="#f9f7fb"/><rect x="161.15" y="504.40" width="7.17" height="1.45" fill="#786eaf"/><rect x="168.27" y="504.40" width="7.17" height="1.45" fill="#f9f4f4"/><rect x="175.39" y="504.40" width="7.17" height="1.45" fill="#f4f1f8"/><rect x="97.10" y="505.80" width="7.17" height="1.45" fill="#ee9e9e"/><rect x="104.22" y="505.80" width="7.17" height="1.45" fill="#efa5a5"/><rect x="111.33" y="505.80" width="7.17" height="1.45" fill="#eb8b8b"/><rect x="118.45" y="505.80" width="7.17" height="1.45" fill="#f0b1b1"/><rect x="125.57" y="505.80" width="7.17" height="1.45" fill="#968ec1"/><rect x="132.69" y="505.80" width="7.17" height="1.45" fill="#b4aed3"/><rect x="139.80" y="505.80" width="7.17" height="1.45" fill="#bfb9d9"/><rect x="146.92" y="505.80" width="7.17" height="1.45" fill="#aca5cd"/><rect x="154.04" y="505.80" width="7.17" height="1.45" fill="#f5f3f9"/><rect x="161.15" y="505.80" width="7.17" height="1.45" fill="#7267ab"/><rect x="168.27" y="505.80" width="7.17" height="1.45" fill="#f8ebeb"/><rect x="175.39" y="505.80" width="7.17" height="1.45" fill="#f7e3e3"/><rect x="97.10" y="507.20" width="7.17" height="1.45" fill="#e87777"/><rect x="104.22" y="507.20" width="7.17" height="1.45" fill="#eb8989"/><rect x="111.33" y="507.20" width="7.17" height="1.45" fill="#ed9b9b"/><rect x="118.45" y="507.20" width="7.17" height="1.45" fill="#ea8181"/><rect x="125.57" y="507.20" width="7.17" height="1.45" fill="#a39bc8"/><rect x="132.69" y="507.20" width="7.17" height="1.45" fill="#b9b3d5"/><rect x="139.80" y="507.20" width="7.17" height="1.45" fill="#b8b2d5"/><rect x="146.92" y="507.20" width="7.17" height="1.45" fill="#7f76b3"/><rect x="154.04" y="507.20" width="7.17" height="1.45" fill="#ebe8f3"/><rect x="161.15" y="507.20" width="7.17" height="1.45" fill="#aaa3cc"/><rect x="168.27" y="507.20" width="7.17" height="1.45" fill="#f1eff7"/><rect x="175.39" y="507.20" width="7.17" height="1.45" fill="#f5d1d1"/><rect x="97.10" y="508.60" width="7.17" height="1.45" fill="#ea8383"/><rect x="104.22" y="508.60" width="7.17" height="1.45" fill="#e66666"/><rect x="111.33" y="508.60" width="7.17" height="1.45" fill="#e87575"/><rect x="118.45" y="508.60" width="7.17" height="1.45" fill="#e55a5a"/><rect x="125.57" y="508.60" width="7.17" height="1.45" fill="#ddd9eb"/><rect x="132.69" y="508.60" width="7.17" height="1.45" fill="#dfdbec"/><rect x="139.80" y="508.60" width="7.17" height="1.45" fill="#e5e2f0"/><rect x="146.92" y="508.60" width="7.17" height="1.45" fill="#d6d2e7"/><rect x="154.04" y="508.60" width="7.17" height="1.45" fill="#f5f3f9"/><rect x="161.15" y="508.60" width="7.17" height="1.45" fill="#d0cbe3"/><rect x="168.27" y="508.60" width="7.17" height="1.45" fill="#f7e5e5"/><rect x="175.39" y="508.60" width="7.17" height="1.45" fill="#f6dddd"/><rect x="97.10" y="510.00" width="7.17" height="1.45" fill="#f3c4c4"/><rect x="104.22" y="510.00" width="7.17" height="1.45" fill="#ee9d9d"/><rect x="111.33" y="510.00" width="7.17" height="1.45" fill="#eea0a0"/><rect x="118.45" y="510.00" width="7.17" height="1.45" fill="#ec8e8e"/><rect x="125.57" y="510.00" width="7.17" height="1.45" fill="#d2cee4"/><rect x="132.69" y="510.00" width="7.17" height="1.45" fill="#aca5ce"/><rect x="139.80" y="510.00" width="7.17" height="1.45" fill="#d2cee4"/><rect x="146.92" y="510.00" width="7.17" height="1.45" fill="#cbc7e0"/><rect x="154.04" y="510.00" width="7.17" height="1.45" fill="#ccc7e1"/><rect x="161.15" y="510.00" width="7.17" height="1.45" fill="#a7a0cb"/><rect x="168.27" y="510.00" width="7.17" height="1.45" fill="#f8f6fb"/><rect x="175.39" y="510.00" width="7.17" height="1.45" fill="#f9f2f2"/><rect x="97.10" y="511.40" width="7.17" height="1.45" fill="#ed9898"/><rect x="104.22" y="511.40" width="7.17" height="1.45" fill="#e87373"/><rect x="111.33" y="511.40" width="7.17" height="1.45" fill="#ec9191"/><rect x="118.45" y="511.40" width="7.17" height="1.45" fill="#eb8b8b"/><rect x="125.57" y="511.40" width="7.17" height="1.45" fill="#aca5ce"/><rect x="132.69" y="511.40" width="7.17" height="1.45" fill="#5e52a0"/><rect x="139.80" y="511.40" width="7.17" height="1.45" fill="#8d84bb"/><rect x="146.92" y="511.40" width="7.17" height="1.45" fill="#b1aad0"/><rect x="154.04" y="511.40" width="7.17" height="1.45" fill="#d3cfe5"/><rect x="161.15" y="511.40" width="7.17" height="1.45" fill="#7267ab"/><rect x="168.27" y="511.40" width="7.17" height="1.45" fill="#beb8d8"/><rect x="175.39" y="511.40" width="7.17" height="1.45" fill="#f9f2f2"/><rect x="97.10" y="512.80" width="7.17" height="1.45" fill="#f7dede"/><rect x="104.22" y="512.80" width="7.17" height="1.45" fill="#e76b6b"/><rect x="111.33" y="512.80" width="7.17" height="1.45" fill="#eb8787"/><rect x="118.45" y="512.80" width="7.17" height="1.45" fill="#f1b9b9"/><rect x="125.57" y="512.80" width="7.17" height="1.45" fill="#c6c1dd"/><rect x="132.69" y="512.80" width="7.17" height="1.45" fill="#7267ab"/><rect x="139.80" y="512.80" width="7.17" height="1.45" fill="#c7c1dd"/><rect x="146.92" y="512.80" width="7.17" height="1.45" fill="#d1cde4"/><rect x="154.04" y="512.80" width="7.17" height="1.45" fill="#f4cbcb"/><rect x="161.15" y="512.80" width="7.17" height="1.45" fill="#8b82ba"/><rect x="168.27" y="512.80" width="7.17" height="1.45" fill="#f4f1f8"/><rect x="175.39" y="512.80" width="7.17" height="1.45" fill="#f4cdcd"/><rect x="97.10" y="514.20" width="7.17" height="1.45" fill="#f7e1e1"/><rect x="104.22" y="514.20" width="7.17" height="1.45" fill="#e97878"/><rect x="111.33" y="514.20" width="7.17" height="1.45" fill="#eb8989"/><rect x="118.45" y="514.20" width="7.17" height="1.45" fill="#eea2a2"/><rect x="125.57" y="514.20" width="7.17" height="1.45" fill="#c9c4df"/><rect x="132.69" y="514.20" width="7.17" height="1.45" fill="#7c72b1"/><rect x="139.80" y="514.20" width="7.17" height="1.45" fill="#c9c4df"/><rect x="146.92" y="514.20" width="7.17" height="1.45" fill="#afa9d0"/><rect x="154.04" y="514.20" width="7.17" height="1.45" fill="#f8ebeb"/><rect x="161.15" y="514.20" width="7.17" height="1.45" fill="#55489a"/><rect x="168.27" y="514.20" width="7.17" height="1.45" fill="#ece9f4"/><rect x="175.39" y="514.20" width="7.17" height="1.45" fill="#f3f1f8"/><rect x="97.10" y="515.60" width="7.17" height="1.45" fill="#faf5f5"/><rect x="104.22" y="515.60" width="7.17" height="1.45" fill="#ec9090"/><rect x="111.33" y="515.60" width="7.17" height="1.45" fill="#ed9c9c"/><rect x="118.45" y="515.60" width="7.17" height="1.45" fill="#ee9d9d"/><rect x="125.57" y="515.60" width="7.17" height="1.45" fill="#9a92c3"/><rect x="132.69" y="515.60" width="7.17" height="1.45" fill="#8f86bc"/><rect x="139.80" y="515.60" width="7.17" height="1.45" fill="#c9c4df"/><rect x="146.92" y="515.60" width="7.17" height="1.45" fill="#aea8cf"/><rect x="154.04" y="515.60" width="7.17" height="1.45" fill="#e0dded"/><rect x="161.15" y="515.60" width="7.17" height="1.45" fill="#837ab5"/><rect x="168.27" y="515.60" width="7.17" height="1.45" fill="#faf6f6"/><rect x="175.39" y="515.60" width="7.17" height="1.45" fill="#f7f4fa"/><rect x="97.10" y="517.00" width="7.17" height="1.45" fill="#f3c3c3"/><rect x="104.22" y="517.00" width="7.17" height="1.45" fill="#e97a7a"/><rect x="111.33" y="517.00" width="7.17" height="1.45" fill="#e97979"/><rect x="118.45" y="517.00" width="7.17" height="1.45" fill="#e77070"/><rect x="125.57" y="517.00" width="7.17" height="1.45" fill="#a7a0cb"/><rect x="132.69" y="517.00" width="7.17" height="1.45" fill="#c5bfdc"/><rect x="139.80" y="517.00" width="7.17" height="1.45" fill="#c9c4df"/><rect x="146.92" y="517.00" width="7.17" height="1.45" fill="#d7d3e7"/><rect x="154.04" y="517.00" width="7.17" height="1.45" fill="#f5d2d2"/><rect x="161.15" y="517.00" width="7.17" height="1.45" fill="#bbb5d6"/><rect x="168.27" y="517.00" width="7.17" height="1.45" fill="#f2c0c0"/><rect x="175.39" y="517.00" width="7.17" height="1.45" fill="#faf6f6"/><rect x="97.10" y="518.40" width="7.17" height="1.45" fill="#f8e8e8"/><rect x="104.22" y="518.40" width="7.17" height="1.45" fill="#ed9595"/><rect x="111.33" y="518.40" width="7.17" height="1.45" fill="#f1b3b3"/><rect x="118.45" y="518.40" width="7.17" height="1.45" fill="#eea1a1"/><rect x="125.57" y="518.40" width="7.17" height="1.45" fill="#8f86bc"/><rect x="132.69" y="518.40" width="7.17" height="1.45" fill="#bab4d6"/><rect x="139.80" y="518.40" width="7.17" height="1.45" fill="#b2acd2"/><rect x="146.92" y="518.40" width="7.17" height="1.45" fill="#d6d2e7"/><rect x="154.04" y="518.40" width="7.17" height="1.45" fill="#e4e1ef"/><rect x="161.15" y="518.40" width="7.17" height="1.45" fill="#aea8cf"/><rect x="168.27" y="518.40" width="7.17" height="1.45" fill="#f5d0d0"/><rect x="175.39" y="518.40" width="7.17" height="1.45" fill="#ebe8f3"/><rect x="97.10" y="519.80" width="7.17" height="0.75" fill="#f3c5c5"/><rect x="104.22" y="519.80" width="7.17" height="0.75" fill="#e13f3f"/><rect x="111.33" y="519.80" width="7.17" height="0.75" fill="#ee9f9f"/><rect x="118.45" y="519.80" width="7.17" height="0.75" fill="#e55b5b"/><rect x="125.57" y="519.80" width="7.17" height="0.75" fill="#978ec1"/><rect x="132.69" y="519.80" width="7.17" height="0.75" fill="#b7b1d4"/><rect x="139.80" y="519.80" width="7.17" height="0.75" fill="#bcb6d7"/><rect x="146.92" y="519.80" width="7.17" height="0.75" fill="#b6b0d4"/><rect x="154.04" y="519.80" width="7.17" height="0.75" fill="#f6f4fa"/><rect x="161.15" y="519.80" width="7.17" height="0.75" fill="#a49dc9"/><rect x="168.27" y="519.80" width="7.17" height="0.75" fill="#eae7f2"/><rect x="175.39" y="519.80" width="7.17" height="0.75" fill="#f4f2f9"/><rect x="97.10" y="520.50" width="7.17" height="1.45" fill="#f4cdcd"/><rect x="104.22" y="520.50" width="7.17" height="1.45" fill="#e66262"/><rect x="111.33" y="520.50" width="7.17" height="1.45" fill="#f7e2e2"/><rect x="118.45" y="520.50" width="7.17" height="1.45" fill="#e87575"/><rect x="125.57" y="520.50" width="7.17" height="1.45" fill="#8077b4"/><rect x="132.69" y="520.50" width="7.17" height="1.45" fill="#978fc1"/><rect x="139.80" y="520.50" width="7.17" height="1.45" fill="#c0bada"/><rect x="146.92" y="520.50" width="7.17" height="1.45" fill="#aca5cd"/><rect x="154.04" y="520.50" width="7.17" height="1.45" fill="#ee9c9c"/><rect x="161.15" y="520.50" width="7.17" height="1.45" fill="#c2bcdb"/><rect x="168.27" y="520.50" width="7.17" height="1.45" fill="#e76b6b"/><rect x="175.39" y="520.50" width="7.17" height="1.45" fill="#eb8b8b"/><rect x="97.10" y="521.90" width="7.17" height="1.45" fill="#f8e6e6"/><rect x="104.22" y="521.90" width="7.17" height="1.45" fill="#ee9d9d"/><rect x="111.33" y="521.90" width="7.17" height="1.45" fill="#f9efef"/><rect x="118.45" y="521.90" width="7.17" height="1.45" fill="#f3c7c7"/><rect x="125.57" y="521.90" width="7.17" height="1.45" fill="#483b92"/><rect x="132.69" y="521.90" width="7.17" height="1.45" fill="#9087bd"/><rect x="139.80" y="521.90" width="7.17" height="1.45" fill="#9087bd"/><rect x="146.92" y="521.90" width="7.17" height="1.45" fill="#9c94c4"/><rect x="154.04" y="521.90" width="7.17" height="1.45" fill="#ed9696"/><rect x="161.15" y="521.90" width="7.17" height="1.45" fill="#a39cc9"/><rect x="168.27" y="521.90" width="7.17" height="1.45" fill="#e97979"/><rect x="175.39" y="521.90" width="7.17" height="1.45" fill="#ec9090"/><rect x="97.10" y="523.30" width="7.17" height="1.45" fill="#f9f1f1"/><rect x="104.22" y="523.30" width="7.17" height="1.45" fill="#eb8d8d"/><rect x="111.33" y="523.30" width="7.17" height="1.45" fill="#f9eeee"/><rect x="118.45" y="523.30" width="7.17" height="1.45" fill="#f0acac"/><rect x="125.57" y="523.30" width="7.17" height="1.45" fill="#5c509e"/><rect x="132.69" y="523.30" width="7.17" height="1.45" fill="#54489a"/><rect x="139.80" y="523.30" width="7.17" height="1.45" fill="#655aa4"/><rect x="146.92" y="523.30" width="7.17" height="1.45" fill="#8f86bc"/><rect x="154.04" y="523.30" width="7.17" height="1.45" fill="#f0aeae"/><rect x="161.15" y="523.30" width="7.17" height="1.45" fill="#b7b1d4"/><rect x="168.27" y="523.30" width="7.17" height="1.45" fill="#e87676"/><rect x="175.39" y="523.30" width="7.17" height="1.45" fill="#ea8686"/><rect x="97.10" y="524.70" width="7.17" height="1.45" fill="#f4cdcd"/><rect x="104.22" y="524.70" width="7.17" height="1.45" fill="#f2bfbf"/><rect x="111.33" y="524.70" width="7.17" height="1.45" fill="#f5d4d4"/><rect x="118.45" y="524.70" width="7.17" height="1.45" fill="#f1b3b3"/><rect x="125.57" y="524.70" width="7.17" height="1.45" fill="#534799"/><rect x="132.69" y="524.70" width="7.17" height="1.45" fill="#938bbf"/><rect x="139.80" y="524.70" width="7.17" height="1.45" fill="#8e85bc"/><rect x="146.92" y="524.70" width="7.17" height="1.45" fill="#a9a2cc"/><rect x="154.04" y="524.70" width="7.17" height="1.45" fill="#f2bfbf"/><rect x="161.15" y="524.70" width="7.17" height="1.45" fill="#c0bad9"/><rect x="168.27" y="524.70" width="7.17" height="1.45" fill="#e24a4a"/><rect x="175.39" y="524.70" width="7.17" height="1.45" fill="#ec9090"/><rect x="97.10" y="526.10" width="7.17" height="1.45" fill="#e8e5f1"/><rect x="104.22" y="526.10" width="7.17" height="1.45" fill="#f9f7fb"/><rect x="111.33" y="526.10" width="7.17" height="1.45" fill="#dbd7ea"/><rect x="118.45" y="526.10" width="7.17" height="1.45" fill="#f4cbcb"/><rect x="125.57" y="526.10" width="7.17" height="1.45" fill="#3a2c8a"/><rect x="132.69" y="526.10" width="7.17" height="1.45" fill="#7f75b3"/><rect x="139.80" y="526.10" width="7.17" height="1.45" fill="#483a92"/><rect x="146.92" y="526.10" width="7.17" height="1.45" fill="#564a9b"/><rect x="154.04" y="526.10" width="7.17" height="1.45" fill="#f3c7c7"/><rect x="161.15" y="526.10" width="7.17" height="1.45" fill="#b4add2"/><rect x="168.27" y="526.10" width="7.17" height="1.45" fill="#ed9696"/><rect x="175.39" y="526.10" width="7.17" height="1.45" fill="#ed9b9b"/><rect x="97.10" y="527.50" width="7.17" height="1.45" fill="#e0dcec"/><rect x="104.22" y="527.50" width="7.17" height="1.45" fill="#f4cbcb"/><rect x="111.33" y="527.50" width="7.17" height="1.45" fill="#f8e9e9"/><rect x="118.45" y="527.50" width="7.17" height="1.45" fill="#f3c4c4"/><rect x="125.57" y="527.50" width="7.17" height="1.45" fill="#3a2c8a"/><rect x="132.69" y="527.50" width="7.17" height="1.45" fill="#968dc0"/><rect x="139.80" y="527.50" width="7.17" height="1.45" fill="#8a81b9"/><rect x="146.92" y="527.50" width="7.17" height="1.45" fill="#a59ec9"/><rect x="154.04" y="527.50" width="7.17" height="1.45" fill="#ec8f8f"/><rect x="161.15" y="527.50" width="7.17" height="1.45" fill="#bdb7d8"/><rect x="168.27" y="527.50" width="7.17" height="1.45" fill="#eb8d8d"/><rect x="175.39" y="527.50" width="7.17" height="1.45" fill="#ec8e8e"/><rect x="97.10" y="528.90" width="7.17" height="1.45" fill="#f4cdcd"/><rect x="104.22" y="528.90" width="7.17" height="1.45" fill="#f1b3b3"/><rect x="111.33" y="528.90" width="7.17" height="1.45" fill="#f2bfbf"/><rect x="118.45" y="528.90" width="7.17" height="1.45" fill="#ed9595"/><rect x="125.57" y="528.90" width="7.17" height="1.45" fill="#685da5"/><rect x="132.69" y="528.90" width="7.17" height="1.45" fill="#b3acd2"/><rect x="139.80" y="528.90" width="7.17" height="1.45" fill="#b4add2"/><rect x="146.92" y="528.90" width="7.17" height="1.45" fill="#d5d1e6"/><rect x="154.04" y="528.90" width="7.17" height="1.45" fill="#f2b9b9"/><rect x="161.15" y="528.90" width="7.17" height="1.45" fill="#aba4cd"/><rect x="168.27" y="528.90" width="7.17" height="1.45" fill="#f0b0b0"/><rect x="175.39" y="528.90" width="7.17" height="1.45" fill="#e45555"/><rect x="97.10" y="530.30" width="7.17" height="1.45" fill="#f7e1e1"/><rect x="104.22" y="530.30" width="7.17" height="1.45" fill="#ec9191"/><rect x="111.33" y="530.30" width="7.17" height="1.45" fill="#f2bbbb"/><rect x="118.45" y="530.30" width="7.17" height="1.45" fill="#efa6a6"/><rect x="125.57" y="530.30" width="7.17" height="1.45" fill="#5f53a0"/><rect x="132.69" y="530.30" width="7.17" height="1.45" fill="#6358a2"/><rect x="139.80" y="530.30" width="7.17" height="1.45" fill="#746aad"/><rect x="146.92" y="530.30" width="7.17" height="1.45" fill="#8c83bb"/><rect x="154.04" y="530.30" width="7.17" height="1.45" fill="#f1b4b4"/><rect x="161.15" y="530.30" width="7.17" height="1.45" fill="#d8d4e8"/><rect x="168.27" y="530.30" width="7.17" height="1.45" fill="#e87676"/><rect x="175.39" y="530.30" width="7.17" height="1.45" fill="#df2f2f"/><rect x="97.10" y="531.70" width="7.17" height="1.45" fill="#f3f0f8"/><rect x="104.22" y="531.70" width="7.17" height="1.45" fill="#f3c1c1"/><rect x="111.33" y="531.70" width="7.17" height="1.45" fill="#faf6f6"/><rect x="118.45" y="531.70" width="7.17" height="1.45" fill="#f7e4e4"/><rect x="125.57" y="531.70" width="7.17" height="1.45" fill="#544799"/><rect x="132.69" y="531.70" width="7.17" height="1.45" fill="#594d9c"/><rect x="139.80" y="531.70" width="7.17" height="1.45" fill="#3a2c8a"/><rect x="146.92" y="531.70" width="7.17" height="1.45" fill="#6c62a8"/><rect x="154.04" y="531.70" width="7.17" height="1.45" fill="#f2f0f8"/><rect x="161.15" y="531.70" width="7.17" height="1.45" fill="#8e85bc"/><rect x="168.27" y="531.70" width="7.17" height="1.45" fill="#eea0a0"/><rect x="175.39" y="531.70" width="7.17" height="1.45" fill="#eb8888"/><rect x="97.10" y="533.10" width="7.17" height="1.45" fill="#f5d2d2"/><rect x="104.22" y="533.10" width="7.17" height="1.45" fill="#ec9494"/><rect x="111.33" y="533.10" width="7.17" height="1.45" fill="#f0adad"/><rect x="118.45" y="533.10" width="7.17" height="1.45" fill="#ee9d9d"/><rect x="125.57" y="533.10" width="7.17" height="1.45" fill="#7268ac"/><rect x="132.69" y="533.10" width="7.17" height="1.45" fill="#8279b5"/><rect x="139.80" y="533.10" width="7.17" height="1.45" fill="#655aa4"/><rect x="146.92" y="533.10" width="7.17" height="1.45" fill="#a8a1cc"/><rect x="154.04" y="533.10" width="7.17" height="1.45" fill="#ed9898"/><rect x="161.15" y="533.10" width="7.17" height="1.45" fill="#cec9e2"/><rect x="168.27" y="533.10" width="7.17" height="1.45" fill="#efa8a8"/><rect x="175.39" y="533.10" width="7.17" height="1.45" fill="#ec9090"/><rect x="97.10" y="534.50" width="7.17" height="1.45" fill="#f0acac"/><rect x="104.22" y="534.50" width="7.17" height="1.45" fill="#f0b1b1"/><rect x="111.33" y="534.50" width="7.17" height="1.45" fill="#f5d5d5"/><rect x="118.45" y="534.50" width="7.17" height="1.45" fill="#e97b7b"/><rect x="125.57" y="534.50" width="7.17" height="1.45" fill="#7469ac"/><rect x="132.69" y="534.50" width="7.17" height="1.45" fill="#6a5fa6"/><rect x="139.80" y="534.50" width="7.17" height="1.45" fill="#41338e"/><rect x="146.92" y="534.50" width="7.17" height="1.45" fill="#7a70b0"/><rect x="154.04" y="534.50" width="7.17" height="1.45" fill="#f6dbdb"/><rect x="161.15" y="534.50" width="7.17" height="1.45" fill="#cfcbe3"/><rect x="168.27" y="534.50" width="7.17" height="1.45" fill="#eb8b8b"/><rect x="175.39" y="534.50" width="7.17" height="1.45" fill="#e87474"/><rect x="97.10" y="535.90" width="7.17" height="1.45" fill="#f9eeee"/><rect x="104.22" y="535.90" width="7.17" height="1.45" fill="#f0aeae"/><rect x="111.33" y="535.90" width="7.17" height="1.45" fill="#f6dada"/><rect x="118.45" y="535.90" width="7.17" height="1.45" fill="#eb8d8d"/><rect x="125.57" y="535.90" width="7.17" height="1.45" fill="#6f64a9"/><rect x="132.69" y="535.90" width="7.17" height="1.45" fill="#8379b5"/><rect x="139.80" y="535.90" width="7.17" height="1.45" fill="#756bad"/><rect x="146.92" y="535.90" width="7.17" height="1.45" fill="#8980b9"/><rect x="154.04" y="535.90" width="7.17" height="1.45" fill="#efaaaa"/><rect x="161.15" y="535.90" width="7.17" height="1.45" fill="#eeebf5"/><rect x="168.27" y="535.90" width="7.17" height="1.45" fill="#e76e6e"/><rect x="175.39" y="535.90" width="7.17" height="1.45" fill="#e55b5b"/><rect x="97.10" y="537.30" width="7.17" height="0.75" fill="#f7e4e4"/><rect x="104.22" y="537.30" width="7.17" height="0.75" fill="#ed9595"/><rect x="111.33" y="537.30" width="7.17" height="0.75" fill="#f4caca"/><rect x="118.45" y="537.30" width="7.17" height="0.75" fill="#ea8686"/><rect x="125.57" y="537.30" width="7.17" height="0.75" fill="#8e85bc"/><rect x="132.69" y="537.30" width="7.17" height="0.75" fill="#a39bc8"/><rect x="139.80" y="537.30" width="7.17" height="0.75" fill="#8c83bb"/><rect x="146.92" y="537.30" width="7.17" height="0.75" fill="#9c94c4"/><rect x="154.04" y="537.30" width="7.17" height="0.75" fill="#ec9090"/><rect x="161.15" y="537.30" width="7.17" height="0.75" fill="#f9f1f1"/><rect x="168.27" y="537.30" width="7.17" height="0.75" fill="#e45858"/><rect x="175.39" y="537.30" width="7.17" height="0.75" fill="#e55e5e"/><rect x="97.10" y="538.00" width="7.17" height="1.45" fill="#f1b4b4"/><rect x="104.22" y="538.00" width="7.17" height="1.45" fill="#ed9c9c"/><rect x="111.33" y="538.00" width="7.17" height="1.45" fill="#eb8a8a"/><rect x="118.45" y="538.00" width="7.17" height="1.45" fill="#e45858"/><rect x="125.57" y="538.00" width="7.17" height="1.45" fill="#f7f5fa"/><rect x="132.69" y="538.00" width="7.17" height="1.45" fill="#f6dbdb"/><rect x="139.80" y="538.00" width="7.17" height="1.45" fill="#b5afd3"/><rect x="146.92" y="538.00" width="7.17" height="1.45" fill="#faf8fc"/><rect x="154.04" y="538.00" width="7.17" height="1.45" fill="#bab4d6"/><rect x="161.15" y="538.00" width="7.17" height="1.45" fill="#cdc8e1"/><rect x="168.27" y="538.00" width="7.17" height="1.45" fill="#8b83ba"/><rect x="175.39" y="538.00" width="7.17" height="1.45" fill="#a79fcb"/><rect x="97.10" y="539.40" width="7.17" height="1.45" fill="#f3c7c7"/><rect x="104.22" y="539.40" width="7.17" height="1.45" fill="#ed9797"/><rect x="111.33" y="539.40" width="7.17" height="1.45" fill="#ed9797"/><rect x="118.45" y="539.40" width="7.17" height="1.45" fill="#ea8484"/><rect x="125.57" y="539.40" width="7.17" height="1.45" fill="#f2bbbb"/><rect x="132.69" y="539.40" width="7.17" height="1.45" fill="#f5d5d5"/><rect x="139.80" y="539.40" width="7.17" height="1.45" fill="#b9b3d6"/><rect x="146.92" y="539.40" width="7.17" height="1.45" fill="#f8ebeb"/><rect x="154.04" y="539.40" width="7.17" height="1.45" fill="#a39bc8"/><rect x="161.15" y="539.40" width="7.17" height="1.45" fill="#d2cde4"/><rect x="168.27" y="539.40" width="7.17" height="1.45" fill="#6156a1"/><rect x="175.39" y="539.40" width="7.17" height="1.45" fill="#9e96c5"/><rect x="97.10" y="540.80" width="7.17" height="1.45" fill="#f0aeae"/><rect x="104.22" y="540.80" width="7.17" height="1.45" fill="#e87575"/><rect x="111.33" y="540.80" width="7.17" height="1.45" fill="#ee9d9d"/><rect x="118.45" y="540.80" width="7.17" height="1.45" fill="#e76e6e"/><rect x="125.57" y="540.80" width="7.17" height="1.45" fill="#f1b9b9"/><rect x="132.69" y="540.80" width="7.17" height="1.45" fill="#f7e5e5"/><rect x="139.80" y="540.80" width="7.17" height="1.45" fill="#9c94c4"/><rect x="146.92" y="540.80" width="7.17" height="1.45" fill="#f7f5fa"/><rect x="154.04" y="540.80" width="7.17" height="1.45" fill="#aea7cf"/><rect x="161.15" y="540.80" width="7.17" height="1.45" fill="#ccc7e1"/><rect x="168.27" y="540.80" width="7.17" height="1.45" fill="#7267ab"/><rect x="175.39" y="540.80" width="7.17" height="1.45" fill="#a7a0cb"/><rect x="97.10" y="542.20" width="7.17" height="1.45" fill="#e66767"/><rect x="104.22" y="542.20" width="7.17" height="1.45" fill="#e87474"/><rect x="111.33" y="542.20" width="7.17" height="1.45" fill="#e14242"/><rect x="118.45" y="542.20" width="7.17" height="1.45" fill="#e87272"/><rect x="125.57" y="542.20" width="7.17" height="1.45" fill="#ed9b9b"/><rect x="132.69" y="542.20" width="7.17" height="1.45" fill="#f4caca"/><rect x="139.80" y="542.20" width="7.17" height="1.45" fill="#e1dded"/><rect x="146.92" y="542.20" width="7.17" height="1.45" fill="#f8eaea"/><rect x="154.04" y="542.20" width="7.17" height="1.45" fill="#c7c2de"/><rect x="161.15" y="542.20" width="7.17" height="1.45" fill="#ccc7e1"/><rect x="168.27" y="542.20" width="7.17" height="1.45" fill="#8177b4"/><rect x="175.39" y="542.20" width="7.17" height="1.45" fill="#cac5df"/><rect x="97.10" y="543.60" width="7.17" height="1.45" fill="#f0afaf"/><rect x="104.22" y="543.60" width="7.17" height="1.45" fill="#efaaaa"/><rect x="111.33" y="543.60" width="7.17" height="1.45" fill="#e35252"/><rect x="118.45" y="543.60" width="7.17" height="1.45" fill="#e87777"/><rect x="125.57" y="543.60" width="7.17" height="1.45" fill="#f0afaf"/><rect x="132.69" y="543.60" width="7.17" height="1.45" fill="#f2eff7"/><rect x="139.80" y="543.60" width="7.17" height="1.45" fill="#d8d4e8"/><rect x="146.92" y="543.60" width="7.17" height="1.45" fill="#f9f7fc"/><rect x="154.04" y="543.60" width="7.17" height="1.45" fill="#afa8cf"/><rect x="161.15" y="543.60" width="7.17" height="1.45" fill="#b2acd1"/><rect x="168.27" y="543.60" width="7.17" height="1.45" fill="#655aa4"/><rect x="175.39" y="543.60" width="7.17" height="1.45" fill="#a7a0cb"/><rect x="97.10" y="545.00" width="7.17" height="1.45" fill="#eb8a8a"/><rect x="104.22" y="545.00" width="7.17" height="1.45" fill="#efa3a3"/><rect x="111.33" y="545.00" width="7.17" height="1.45" fill="#e45353"/><rect x="118.45" y="545.00" width="7.17" height="1.45" fill="#e97b7b"/><rect x="125.57" y="545.00" width="7.17" height="1.45" fill="#f5d2d2"/><rect x="132.69" y="545.00" width="7.17" height="1.45" fill="#f8e8e8"/><rect x="139.80" y="545.00" width="7.17" height="1.45" fill="#d0cbe3"/><rect x="146.92" y="545.00" width="7.17" height="1.45" fill="#f4f2f8"/><rect x="154.04" y="545.00" width="7.17" height="1.45" fill="#d1cce4"/><rect x="161.15" y="545.00" width="7.17" height="1.45" fill="#9e96c5"/><rect x="168.27" y="545.00" width="7.17" height="1.45" fill="#8177b4"/><rect x="175.39" y="545.00" width="7.17" height="1.45" fill="#aca6ce"/><rect x="97.10" y="546.40" width="7.17" height="1.45" fill="#eb8888"/><rect x="104.22" y="546.40" width="7.17" height="1.45" fill="#ec8d8d"/><rect x="111.33" y="546.40" width="7.17" height="1.45" fill="#e66464"/><rect x="118.45" y="546.40" width="7.17" height="1.45" fill="#e55b5b"/><rect x="125.57" y="546.40" width="7.17" height="1.45" fill="#f1b4b4"/><rect x="132.69" y="546.40" width="7.17" height="1.45" fill="#f7e3e3"/><rect x="139.80" y="546.40" width="7.17" height="1.45" fill="#d5d0e6"/><rect x="146.92" y="546.40" width="7.17" height="1.45" fill="#ece9f4"/><rect x="154.04" y="546.40" width="7.17" height="1.45" fill="#d0cce3"/><rect x="161.15" y="546.40" width="7.17" height="1.45" fill="#8c84bb"/><rect x="168.27" y="546.40" width="7.17" height="1.45" fill="#8f86bd"/><rect x="175.39" y="546.40" width="7.17" height="1.45" fill="#b3add2"/><rect x="97.10" y="547.80" width="7.17" height="1.45" fill="#ec9393"/><rect x="104.22" y="547.80" width="7.17" height="1.45" fill="#f0b1b1"/><rect x="111.33" y="547.80" width="7.17" height="1.45" fill="#e87474"/><rect x="118.45" y="547.80" width="7.17" height="1.45" fill="#e97878"/><rect x="125.57" y="547.80" width="7.17" height="1.45" fill="#ea8080"/><rect x="132.69" y="547.80" width="7.17" height="1.45" fill="#f3c7c7"/><rect x="139.80" y="547.80" width="7.17" height="1.45" fill="#cbc6e0"/><rect x="146.92" y="547.80" width="7.17" height="1.45" fill="#f8e7e7"/><rect x="154.04" y="547.80" width="7.17" height="1.45" fill="#ccc7e1"/><rect x="161.15" y="547.80" width="7.17" height="1.45" fill="#9890c2"/><rect x="168.27" y="547.80" width="7.17" height="1.45" fill="#8a81ba"/><rect x="175.39" y="547.80" width="7.17" height="1.45" fill="#9991c2"/><rect x="97.10" y="549.20" width="7.17" height="1.45" fill="#eea3a3"/><rect x="104.22" y="549.20" width="7.17" height="1.45" fill="#f4cbcb"/><rect x="111.33" y="549.20" width="7.17" height="1.45" fill="#efa8a8"/><rect x="118.45" y="549.20" width="7.17" height="1.45" fill="#efa6a6"/><rect x="125.57" y="549.20" width="7.17" height="1.45" fill="#eea1a1"/><rect x="132.69" y="549.20" width="7.17" height="1.45" fill="#f8ebeb"/><rect x="139.80" y="549.20" width="7.17" height="1.45" fill="#a59eca"/><rect x="146.92" y="549.20" width="7.17" height="1.45" fill="#ebe8f3"/><rect x="154.04" y="549.20" width="7.17" height="1.45" fill="#c9c4df"/><rect x="161.15" y="549.20" width="7.17" height="1.45" fill="#bab4d6"/><rect x="168.27" y="549.20" width="7.17" height="1.45" fill="#8c83bb"/><rect x="175.39" y="549.20" width="7.17" height="1.45" fill="#8077b4"/><rect x="97.10" y="550.60" width="7.17" height="1.45" fill="#e97979"/><rect x="104.22" y="550.60" width="7.17" height="1.45" fill="#ee9c9c"/><rect x="111.33" y="550.60" width="7.17" height="1.45" fill="#ea8282"/><rect x="118.45" y="550.60" width="7.17" height="1.45" fill="#e34e4e"/><rect x="125.57" y="550.60" width="7.17" height="1.45" fill="#efa6a6"/><rect x="132.69" y="550.60" width="7.17" height="1.45" fill="#f7e2e2"/><rect x="139.80" y="550.60" width="7.17" height="1.45" fill="#988fc2"/><rect x="146.92" y="550.60" width="7.17" height="1.45" fill="#f9f0f0"/><rect x="154.04" y="550.60" width="7.17" height="1.45" fill="#9a92c3"/><rect x="161.15" y="550.60" width="7.17" height="1.45" fill="#a7a0cb"/><rect x="168.27" y="550.60" width="7.17" height="1.45" fill="#958cc0"/><rect x="175.39" y="550.60" width="7.17" height="1.45" fill="#9e97c6"/><rect x="97.10" y="552.00" width="7.17" height="1.45" fill="#ee9e9e"/><rect x="104.22" y="552.00" width="7.17" height="1.45" fill="#efa6a6"/><rect x="111.33" y="552.00" width="7.17" height="1.45" fill="#ee9f9f"/><rect x="118.45" y="552.00" width="7.17" height="1.45" fill="#e97878"/><rect x="125.57" y="552.00" width="7.17" height="1.45" fill="#eea0a0"/><rect x="132.69" y="552.00" width="7.17" height="1.45" fill="#f7e3e3"/><rect x="139.80" y="552.00" width="7.17" height="1.45" fill="#b8b2d5"/><rect x="146.92" y="552.00" width="7.17" height="1.45" fill="#f6dcdc"/><rect x="154.04" y="552.00" width="7.17" height="1.45" fill="#7d74b2"/><rect x="161.15" y="552.00" width="7.17" height="1.45" fill="#8e85bc"/><rect x="168.27" y="552.00" width="7.17" height="1.45" fill="#6257a2"/><rect x="175.39" y="552.00" width="7.17" height="1.45" fill="#8a81ba"/><rect x="97.10" y="553.40" width="7.17" height="1.45" fill="#e87373"/><rect x="104.22" y="553.40" width="7.17" height="1.45" fill="#ec9292"/><rect x="111.33" y="553.40" width="7.17" height="1.45" fill="#e55f5f"/><rect x="118.45" y="553.40" width="7.17" height="1.45" fill="#e56060"/><rect x="125.57" y="553.40" width="7.17" height="1.45" fill="#ec8f8f"/><rect x="132.69" y="553.40" width="7.17" height="1.45" fill="#f8ebeb"/><rect x="139.80" y="553.40" width="7.17" height="1.45" fill="#d3cee5"/><rect x="146.92" y="553.40" width="7.17" height="1.45" fill="#f7e1e1"/><rect x="154.04" y="553.40" width="7.17" height="1.45" fill="#9e96c5"/><rect x="161.15" y="553.40" width="7.17" height="1.45" fill="#b5afd3"/><rect x="168.27" y="553.40" width="7.17" height="1.45" fill="#8279b5"/><rect x="175.39" y="553.40" width="7.17" height="1.45" fill="#9b94c4"/><rect x="97.10" y="554.80" width="7.17" height="1.45" fill="#ed9595"/><rect x="104.22" y="554.80" width="7.17" height="1.45" fill="#ee9c9c"/><rect x="111.33" y="554.80" width="7.17" height="1.45" fill="#e66565"/><rect x="118.45" y="554.80" width="7.17" height="1.45" fill="#e66161"/><rect x="125.57" y="554.80" width="7.17" height="1.45" fill="#ea8484"/><rect x="132.69" y="554.80" width="7.17" height="1.45" fill="#f8eded"/><rect x="139.80" y="554.80" width="7.17" height="1.45" fill="#cfcbe3"/><rect x="146.92" y="554.80" width="7.17" height="1.45" fill="#e7e4f1"/><rect x="154.04" y="554.80" width="7.17" height="1.45" fill="#b2acd1"/><rect x="161.15" y="554.80" width="7.17" height="1.45" fill="#cac5e0"/><rect x="168.27" y="554.80" width="7.17" height="1.45" fill="#9c94c4"/><rect x="175.39" y="554.80" width="7.17" height="1.45" fill="#695ea6"/><rect x="97.10" y="556.20" width="7.17" height="1.45" fill="#eb8989"/><rect x="104.22" y="556.20" width="7.17" height="1.45" fill="#e76d6d"/><rect x="111.33" y="556.20" width="7.17" height="1.45" fill="#e24646"/><rect x="118.45" y="556.20" width="7.17" height="1.45" fill="#e66767"/><rect x="125.57" y="556.20" width="7.17" height="1.45" fill="#ed9999"/><rect x="132.69" y="556.20" width="7.17" height="1.45" fill="#f2bfbf"/><rect x="139.80" y="556.20" width="7.17" height="1.45" fill="#c7c2de"/><rect x="146.92" y="556.20" width="7.17" height="1.45" fill="#f5d1d1"/><rect x="154.04" y="556.20" width="7.17" height="1.45" fill="#b2abd1"/><rect x="161.15" y="556.20" width="7.17" height="1.45" fill="#c0bada"/><rect x="168.27" y="556.20" width="7.17" height="1.45" fill="#7369ac"/><rect x="175.39" y="556.20" width="7.17" height="1.45" fill="#6c61a8"/><rect x="97.10" y="557.60" width="7.17" height="1.45" fill="#f5d2d2"/><rect x="104.22" y="557.60" width="7.17" height="1.45" fill="#ed9c9c"/><rect x="111.33" y="557.60" width="7.17" height="1.45" fill="#e76f6f"/><rect x="118.45" y="557.60" width="7.17" height="1.45" fill="#ea8282"/><rect x="125.57" y="557.60" width="7.17" height="1.45" fill="#ed9797"/><rect x="132.69" y="557.60" width="7.17" height="1.45" fill="#f3c2c2"/><rect x="139.80" y="557.60" width="7.17" height="1.45" fill="#dad6e9"/><rect x="146.92" y="557.60" width="7.17" height="1.45" fill="#f7e0e0"/><rect x="154.04" y="557.60" width="7.17" height="1.45" fill="#7c72b1"/><rect x="161.15" y="557.60" width="7.17" height="1.45" fill="#c8c3de"/><rect x="168.27" y="557.60" width="7.17" height="1.45" fill="#7f75b3"/><rect x="175.39" y="557.60" width="7.17" height="1.45" fill="#7c72b1"/><rect x="97.10" y="559.00" width="7.17" height="1.45" fill="#efa5a5"/><rect x="104.22" y="559.00" width="7.17" height="1.45" fill="#f2bbbb"/><rect x="111.33" y="559.00" width="7.17" height="1.45" fill="#e76b6b"/><rect x="118.45" y="559.00" width="7.17" height="1.45" fill="#ed9999"/><rect x="125.57" y="559.00" width="7.17" height="1.45" fill="#f4caca"/><rect x="132.69" y="559.00" width="7.17" height="1.45" fill="#f5d2d2"/><rect x="139.80" y="559.00" width="7.17" height="1.45" fill="#a199c7"/><rect x="146.92" y="559.00" width="7.17" height="1.45" fill="#e2dfee"/><rect x="154.04" y="559.00" width="7.17" height="1.45" fill="#8d84bb"/><rect x="161.15" y="559.00" width="7.17" height="1.45" fill="#cfcae2"/><rect x="168.27" y="559.00" width="7.17" height="1.45" fill="#6e64a9"/><rect x="175.39" y="559.00" width="7.17" height="1.45" fill="#6257a2"/><rect x="97.10" y="560.40" width="7.17" height="0.65" fill="#f1b8b8"/><rect x="104.22" y="560.40" width="7.17" height="0.65" fill="#f0acac"/><rect x="111.33" y="560.40" width="7.17" height="0.65" fill="#e76969"/><rect x="118.45" y="560.40" width="7.17" height="0.65" fill="#ea8383"/><rect x="125.57" y="560.40" width="7.17" height="0.65" fill="#f3c8c8"/><rect x="132.69" y="560.40" width="7.17" height="0.65" fill="#f3c4c4"/><rect x="139.80" y="560.40" width="7.17" height="0.65" fill="#e6e2f0"/><rect x="146.92" y="560.40" width="7.17" height="0.65" fill="#e3dfee"/><rect x="154.04" y="560.40" width="7.17" height="0.65" fill="#e2deee"/><rect x="161.15" y="560.40" width="7.17" height="0.65" fill="#afa8cf"/><rect x="168.27" y="560.40" width="7.17" height="0.65" fill="#b1aad1"/><rect x="175.39" y="560.40" width="7.17" height="0.65" fill="#8b82ba"/><rect x="97.10" y="561.00" width="7.17" height="1.45" fill="#f4caca"/><rect x="104.22" y="561.00" width="7.17" height="1.45" fill="#efa6a6"/><rect x="111.33" y="561.00" width="7.17" height="1.45" fill="#e97c7c"/><rect x="118.45" y="561.00" width="7.17" height="1.45" fill="#ee9d9d"/><rect x="125.57" y="561.00" width="7.17" height="1.45" fill="#f9eeee"/><rect x="132.69" y="561.00" width="7.17" height="1.45" fill="#f1b2b2"/><rect x="139.80" y="561.00" width="7.17" height="1.45" fill="#eae7f3"/><rect x="146.92" y="561.00" width="7.17" height="1.45" fill="#f0b0b0"/><rect x="154.04" y="561.00" width="7.17" height="1.45" fill="#bdb7d8"/><rect x="161.15" y="561.00" width="7.17" height="1.45" fill="#9189be"/><rect x="168.27" y="561.00" width="7.17" height="1.45" fill="#453891"/><rect x="175.39" y="561.00" width="7.17" height="1.45" fill="#3a2c8a"/><rect x="97.10" y="562.40" width="7.17" height="1.45" fill="#f2bfbf"/><rect x="104.22" y="562.40" width="7.17" height="1.45" fill="#ea8383"/><rect x="111.33" y="562.40" width="7.17" height="1.45" fill="#ea8282"/><rect x="118.45" y="562.40" width="7.17" height="1.45" fill="#ea8686"/><rect x="125.57" y="562.40" width="7.17" height="1.45" fill="#f4cdcd"/><rect x="132.69" y="562.40" width="7.17" height="1.45" fill="#eea0a0"/><rect x="139.80" y="562.40" width="7.17" height="1.45" fill="#f7e4e4"/><rect x="146.92" y="562.40" width="7.17" height="1.45" fill="#f4c9c9"/><rect x="154.04" y="562.40" width="7.17" height="1.45" fill="#faf6f6"/><rect x="161.15" y="562.40" width="7.17" height="1.45" fill="#dcd8ea"/><rect x="168.27" y="562.40" width="7.17" height="1.45" fill="#7065aa"/><rect x="175.39" y="562.40" width="7.17" height="1.45" fill="#796faf"/><rect x="97.10" y="563.80" width="7.17" height="1.45" fill="#f5d2d2"/><rect x="104.22" y="563.80" width="7.17" height="1.45" fill="#ed9797"/><rect x="111.33" y="563.80" width="7.17" height="1.45" fill="#ec9191"/><rect x="118.45" y="563.80" width="7.17" height="1.45" fill="#ec9494"/><rect x="125.57" y="563.80" width="7.17" height="1.45" fill="#f9f1f1"/><rect x="132.69" y="563.80" width="7.17" height="1.45" fill="#f3c8c8"/><rect x="139.80" y="563.80" width="7.17" height="1.45" fill="#e1deed"/><rect x="146.92" y="563.80" width="7.17" height="1.45" fill="#f7e2e2"/><rect x="154.04" y="563.80" width="7.17" height="1.45" fill="#9c94c4"/><rect x="161.15" y="563.80" width="7.17" height="1.45" fill="#beb8d8"/><rect x="168.27" y="563.80" width="7.17" height="1.45" fill="#3a2c8a"/><rect x="175.39" y="563.80" width="7.17" height="1.45" fill="#504397"/><rect x="97.10" y="565.20" width="7.17" height="1.45" fill="#efa7a7"/><rect x="104.22" y="565.20" width="7.17" height="1.45" fill="#ec8e8e"/><rect x="111.33" y="565.20" width="7.17" height="1.45" fill="#eea0a0"/><rect x="118.45" y="565.20" width="7.17" height="1.45" fill="#eb8d8d"/><rect x="125.57" y="565.20" width="7.17" height="1.45" fill="#ee9c9c"/><rect x="132.69" y="565.20" width="7.17" height="1.45" fill="#ed9b9b"/><rect x="139.80" y="565.20" width="7.17" height="1.45" fill="#f6dede"/><rect x="146.92" y="565.20" width="7.17" height="1.45" fill="#f2bdbd"/><rect x="154.04" y="565.20" width="7.17" height="1.45" fill="#aca5ce"/><rect x="161.15" y="565.20" width="7.17" height="1.45" fill="#b0a9d0"/><rect x="168.27" y="565.20" width="7.17" height="1.45" fill="#453891"/><rect x="175.39" y="565.20" width="7.17" height="1.45" fill="#7267ab"/><rect x="97.10" y="566.60" width="7.17" height="1.45" fill="#efa5a5"/><rect x="104.22" y="566.60" width="7.17" height="1.45" fill="#efa4a4"/><rect x="111.33" y="566.60" width="7.17" height="1.45" fill="#e76e6e"/><rect x="118.45" y="566.60" width="7.17" height="1.45" fill="#ec8f8f"/><rect x="125.57" y="566.60" width="7.17" height="1.45" fill="#ed9696"/><rect x="132.69" y="566.60" width="7.17" height="1.45" fill="#f0afaf"/><rect x="139.80" y="566.60" width="7.17" height="1.45" fill="#f2bcbc"/><rect x="146.92" y="566.60" width="7.17" height="1.45" fill="#f5d2d2"/><rect x="154.04" y="566.60" width="7.17" height="1.45" fill="#ddd9eb"/><rect x="161.15" y="566.60" width="7.17" height="1.45" fill="#e7e3f1"/><rect x="168.27" y="566.60" width="7.17" height="1.45" fill="#55489a"/><rect x="175.39" y="566.60" width="7.17" height="1.45" fill="#a59dc9"/><rect x="97.10" y="568.00" width="7.17" height="1.45" fill="#f7e3e3"/><rect x="104.22" y="568.00" width="7.17" height="1.45" fill="#e3e0ee"/><rect x="111.33" y="568.00" width="7.17" height="1.45" fill="#f0b0b0"/><rect x="118.45" y="568.00" width="7.17" height="1.45" fill="#f3c4c4"/><rect x="125.57" y="568.00" width="7.17" height="1.45" fill="#f2bfbf"/><rect x="132.69" y="568.00" width="7.17" height="1.45" fill="#f2bbbb"/><rect x="139.80" y="568.00" width="7.17" height="1.45" fill="#e9e6f2"/><rect x="146.92" y="568.00" width="7.17" height="1.45" fill="#f7e3e3"/><rect x="154.04" y="568.00" width="7.17" height="1.45" fill="#e0dcec"/><rect x="161.15" y="568.00" width="7.17" height="1.45" fill="#dbd7e9"/><rect x="168.27" y="568.00" width="7.17" height="1.45" fill="#40338e"/><rect x="175.39" y="568.00" width="7.17" height="1.45" fill="#695ea6"/><rect x="97.10" y="569.40" width="7.17" height="1.45" fill="#f0acac"/><rect x="104.22" y="569.40" width="7.17" height="1.45" fill="#f2bdbd"/><rect x="111.33" y="569.40" width="7.17" height="1.45" fill="#e56060"/><rect x="118.45" y="569.40" width="7.17" height="1.45" fill="#e76e6e"/><rect x="125.57" y="569.40" width="7.17" height="1.45" fill="#efa7a7"/><rect x="132.69" y="569.40" width="7.17" height="1.45" fill="#eb8787"/><rect x="139.80" y="569.40" width="7.17" height="1.45" fill="#f7f5fa"/><rect x="146.92" y="569.40" width="7.17" height="1.45" fill="#efa6a6"/><rect x="154.04" y="569.40" width="7.17" height="1.45" fill="#b7b1d4"/><rect x="161.15" y="569.40" width="7.17" height="1.45" fill="#c0bada"/><rect x="168.27" y="569.40" width="7.17" height="1.45" fill="#524699"/><rect x="175.39" y="569.40" width="7.17" height="1.45" fill="#4a3d94"/><rect x="97.10" y="570.80" width="7.17" height="1.45" fill="#f8ebeb"/><rect x="104.22" y="570.80" width="7.17" height="1.45" fill="#f6dcdc"/><rect x="111.33" y="570.80" width="7.17" height="1.45" fill="#f5d5d5"/><rect x="118.45" y="570.80" width="7.17" height="1.45" fill="#f0adad"/><rect x="125.57" y="570.80" width="7.17" height="1.45" fill="#f2bfbf"/><rect x="132.69" y="570.80" width="7.17" height="1.45" fill="#efa9a9"/><rect x="139.80" y="570.80" width="7.17" height="1.45" fill="#faf6f6"/><rect x="146.92" y="570.80" width="7.17" height="1.45" fill="#ee9e9e"/><rect x="154.04" y="570.80" width="7.17" height="1.45" fill="#aaa3cc"/><rect x="161.15" y="570.80" width="7.17" height="1.45" fill="#9f98c6"/><rect x="168.27" y="570.80" width="7.17" height="1.45" fill="#443790"/><rect x="175.39" y="570.80" width="7.17" height="1.45" fill="#574a9b"/><rect x="97.10" y="572.20" width="7.17" height="1.45" fill="#f2bcbc"/><rect x="104.22" y="572.20" width="7.17" height="1.45" fill="#f1b7b7"/><rect x="111.33" y="572.20" width="7.17" height="1.45" fill="#eea1a1"/><rect x="118.45" y="572.20" width="7.17" height="1.45" fill="#e66767"/><rect x="125.57" y="572.20" width="7.17" height="1.45" fill="#f0acac"/><rect x="132.69" y="572.20" width="7.17" height="1.45" fill="#ec9191"/><rect x="139.80" y="572.20" width="7.17" height="1.45" fill="#f5d5d5"/><rect x="146.92" y="572.20" width="7.17" height="1.45" fill="#eb8888"/><rect x="154.04" y="572.20" width="7.17" height="1.45" fill="#9189be"/><rect x="161.15" y="572.20" width="7.17" height="1.45" fill="#a8a1cb"/><rect x="168.27" y="572.20" width="7.17" height="1.45" fill="#3b2d8b"/><rect x="175.39" y="572.20" width="7.17" height="1.45" fill="#685da5"/><rect x="97.10" y="573.60" width="7.17" height="1.45" fill="#f9f0f0"/><rect x="104.22" y="573.60" width="7.17" height="1.45" fill="#ed9696"/><rect x="111.33" y="573.60" width="7.17" height="1.45" fill="#e97d7d"/><rect x="118.45" y="573.60" width="7.17" height="1.45" fill="#e66868"/><rect x="125.57" y="573.60" width="7.17" height="1.45" fill="#f1b8b8"/><rect x="132.69" y="573.60" width="7.17" height="1.45" fill="#efa5a5"/><rect x="139.80" y="573.60" width="7.17" height="1.45" fill="#f8e6e6"/><rect x="146.92" y="573.60" width="7.17" height="1.45" fill="#eb8989"/><rect x="154.04" y="573.60" width="7.17" height="1.45" fill="#b6b0d4"/><rect x="161.15" y="573.60" width="7.17" height="1.45" fill="#dad6e9"/><rect x="168.27" y="573.60" width="7.17" height="1.45" fill="#3a2c8a"/><rect x="175.39" y="573.60" width="7.17" height="1.45" fill="#7268ab"/><rect x="97.10" y="575.00" width="7.17" height="1.45" fill="#f3c8c8"/><rect x="104.22" y="575.00" width="7.17" height="1.45" fill="#f4cbcb"/><rect x="111.33" y="575.00" width="7.17" height="1.45" fill="#efa6a6"/><rect x="118.45" y="575.00" width="7.17" height="1.45" fill="#ee9c9c"/><rect x="125.57" y="575.00" width="7.17" height="1.45" fill="#f7dfdf"/><rect x="132.69" y="575.00" width="7.17" height="1.45" fill="#f0afaf"/><rect x="139.80" y="575.00" width="7.17" height="1.45" fill="#f5f3f9"/><rect x="146.92" y="575.00" width="7.17" height="1.45" fill="#f9efef"/><rect x="154.04" y="575.00" width="7.17" height="1.45" fill="#c5bfdc"/><rect x="161.15" y="575.00" width="7.17" height="1.45" fill="#a8a1cb"/><rect x="168.27" y="575.00" width="7.17" height="1.45" fill="#3a2c8a"/><rect x="175.39" y="575.00" width="7.17" height="1.45" fill="#7f76b3"/><rect x="97.10" y="576.40" width="7.17" height="1.45" fill="#faf5f5"/><rect x="104.22" y="576.40" width="7.17" height="1.45" fill="#f7e0e0"/><rect x="111.33" y="576.40" width="7.17" height="1.45" fill="#eea0a0"/><rect x="118.45" y="576.40" width="7.17" height="1.45" fill="#efa6a6"/><rect x="125.57" y="576.40" width="7.17" height="1.45" fill="#f8e9e9"/><rect x="132.69" y="576.40" width="7.17" height="1.45" fill="#e76a6a"/><rect x="139.80" y="576.40" width="7.17" height="1.45" fill="#e4e0ef"/><rect x="146.92" y="576.40" width="7.17" height="1.45" fill="#f6d8d8"/><rect x="154.04" y="576.40" width="7.17" height="1.45" fill="#b6afd3"/><rect x="161.15" y="576.40" width="7.17" height="1.45" fill="#b1abd1"/><rect x="168.27" y="576.40" width="7.17" height="1.45" fill="#3a2c8a"/><rect x="175.39" y="576.40" width="7.17" height="1.45" fill="#746aad"/><rect x="97.10" y="577.80" width="7.17" height="1.45" fill="#f5d0d0"/><rect x="104.22" y="577.80" width="7.17" height="1.45" fill="#f1b5b5"/><rect x="111.33" y="577.80" width="7.17" height="1.45" fill="#e87575"/><rect x="118.45" y="577.80" width="7.17" height="1.45" fill="#e87474"/><rect x="125.57" y="577.80" width="7.17" height="1.45" fill="#f3c5c5"/><rect x="132.69" y="577.80" width="7.17" height="1.45" fill="#e66262"/><rect x="139.80" y="577.80" width="7.17" height="1.45" fill="#f9f7fb"/><rect x="146.92" y="577.80" width="7.17" height="1.45" fill="#f6dcdc"/><rect x="154.04" y="577.80" width="7.17" height="1.45" fill="#e8e5f1"/><rect x="161.15" y="577.80" width="7.17" height="1.45" fill="#c7c2de"/><rect x="168.27" y="577.80" width="7.17" height="1.45" fill="#7b71b1"/><rect x="175.39" y="577.80" width="7.17" height="1.45" fill="#8077b4"/><rect x="97.10" y="579.20" width="7.17" height="1.45" fill="#f8ebeb"/><rect x="104.22" y="579.20" width="7.17" height="1.45" fill="#ee9e9e"/><rect x="111.33" y="579.20" width="7.17" height="1.45" fill="#f1b3b3"/><rect x="118.45" y="579.20" width="7.17" height="1.45" fill="#e87474"/><rect x="125.57" y="579.20" width="7.17" height="1.45" fill="#f3c7c7"/><rect x="132.69" y="579.20" width="7.17" height="1.45" fill="#ed9797"/><rect x="139.80" y="579.20" width="7.17" height="1.45" fill="#e6e3f0"/><rect x="146.92" y="579.20" width="7.17" height="1.45" fill="#f3f1f8"/><rect x="154.04" y="579.20" width="7.17" height="1.45" fill="#b3add2"/><rect x="161.15" y="579.20" width="7.17" height="1.45" fill="#a39bc8"/><rect x="168.27" y="579.20" width="7.17" height="1.45" fill="#564a9a"/><rect x="175.39" y="579.20" width="7.17" height="1.45" fill="#665ba4"/><rect x="97.10" y="580.60" width="7.17" height="1.45" fill="#dfdbec"/><rect x="104.22" y="580.60" width="7.17" height="1.45" fill="#f6dddd"/><rect x="111.33" y="580.60" width="7.17" height="1.45" fill="#f3c1c1"/><rect x="118.45" y="580.60" width="7.17" height="1.45" fill="#efa4a4"/><rect x="125.57" y="580.60" width="7.17" height="1.45" fill="#f2bcbc"/><rect x="132.69" y="580.60" width="7.17" height="1.45" fill="#f4cdcd"/><rect x="139.80" y="580.60" width="7.17" height="1.45" fill="#eeebf5"/><rect x="146.92" y="580.60" width="7.17" height="1.45" fill="#f7e2e2"/><rect x="154.04" y="580.60" width="7.17" height="1.45" fill="#cdc8e1"/><rect x="161.15" y="580.60" width="7.17" height="1.45" fill="#887fb8"/><rect x="168.27" y="580.60" width="7.17" height="1.45" fill="#594d9c"/><rect x="175.39" y="580.60" width="7.17" height="1.45" fill="#796faf"/><rect x="97.10" y="582.00" width="7.17" height="1.45" fill="#f4cbcb"/><rect x="104.22" y="582.00" width="7.17" height="1.45" fill="#f2bbbb"/><rect x="111.33" y="582.00" width="7.17" height="1.45" fill="#eea3a3"/><rect x="118.45" y="582.00" width="7.17" height="1.45" fill="#e56060"/><rect x="125.57" y="582.00" width="7.17" height="1.45" fill="#efa8a8"/><rect x="132.69" y="582.00" width="7.17" height="1.45" fill="#f0abab"/><rect x="139.80" y="582.00" width="7.17" height="1.45" fill="#f9eeee"/><rect x="146.92" y="582.00" width="7.17" height="1.45" fill="#f4cccc"/><rect x="154.04" y="582.00" width="7.17" height="1.45" fill="#ccc7e1"/><rect x="161.15" y="582.00" width="7.17" height="1.45" fill="#988fc2"/><rect x="168.27" y="582.00" width="7.17" height="1.45" fill="#6a5fa6"/><rect x="175.39" y="582.00" width="7.17" height="1.45" fill="#6e63a9"/><rect x="97.10" y="583.40" width="7.17" height="1.45" fill="#f6d9d9"/><rect x="104.22" y="583.40" width="7.17" height="1.45" fill="#f3c3c3"/><rect x="111.33" y="583.40" width="7.17" height="1.45" fill="#eb8888"/><rect x="118.45" y="583.40" width="7.17" height="1.45" fill="#ec8d8d"/><rect x="125.57" y="583.40" width="7.17" height="1.45" fill="#f2bcbc"/><rect x="132.69" y="583.40" width="7.17" height="1.45" fill="#f2bcbc"/><rect x="139.80" y="583.40" width="7.17" height="1.45" fill="#ccc7e1"/><rect x="146.92" y="583.40" width="7.17" height="1.45" fill="#f8f5fb"/><rect x="154.04" y="583.40" width="7.17" height="1.45" fill="#b3add2"/><rect x="161.15" y="583.40" width="7.17" height="1.45" fill="#a199c7"/><rect x="168.27" y="583.40" width="7.17" height="1.45" fill="#5d519f"/><rect x="175.39" y="583.40" width="7.17" height="1.45" fill="#6b60a7"/><rect x="97.10" y="584.80" width="7.17" height="1.45" fill="#f3f1f8"/><rect x="104.22" y="584.80" width="7.17" height="1.45" fill="#f5d5d5"/><rect x="111.33" y="584.80" width="7.17" height="1.45" fill="#f2baba"/><rect x="118.45" y="584.80" width="7.17" height="1.45" fill="#efa8a8"/><rect x="125.57" y="584.80" width="7.17" height="1.45" fill="#f1b3b3"/><rect x="132.69" y="584.80" width="7.17" height="1.45" fill="#efa6a6"/><rect x="139.80" y="584.80" width="7.17" height="1.45" fill="#f0edf6"/><rect x="146.92" y="584.80" width="7.17" height="1.45" fill="#f7e2e2"/><rect x="154.04" y="584.80" width="7.17" height="1.45" fill="#a59eca"/><rect x="161.15" y="584.80" width="7.17" height="1.45" fill="#7d73b2"/><rect x="168.27" y="584.80" width="7.17" height="1.45" fill="#564a9b"/><rect x="175.39" y="584.80" width="7.17" height="1.45" fill="#504397"/><rect x="97.10" y="586.20" width="7.17" height="1.45" fill="#b5afd3"/><rect x="104.22" y="586.20" width="7.17" height="1.45" fill="#faf5f5"/><rect x="111.33" y="586.20" width="7.17" height="1.45" fill="#f3c8c8"/><rect x="118.45" y="586.20" width="7.17" height="1.45" fill="#f2bebe"/><rect x="125.57" y="586.20" width="7.17" height="1.45" fill="#f5d6d6"/><rect x="132.69" y="586.20" width="7.17" height="1.45" fill="#eea1a1"/><rect x="139.80" y="586.20" width="7.17" height="1.45" fill="#efecf6"/><rect x="146.92" y="586.20" width="7.17" height="1.45" fill="#f9f1f1"/><rect x="154.04" y="586.20" width="7.17" height="1.45" fill="#cac5df"/><rect x="161.15" y="586.20" width="7.17" height="1.45" fill="#a199c7"/><rect x="168.27" y="586.20" width="7.17" height="1.45" fill="#6458a3"/><rect x="175.39" y="586.20" width="7.17" height="1.45" fill="#5f54a0"/><rect x="97.10" y="587.60" width="7.17" height="1.45" fill="#efecf6"/><rect x="104.22" y="587.60" width="7.17" height="1.45" fill="#f4caca"/><rect x="111.33" y="587.60" width="7.17" height="1.45" fill="#ea8484"/><rect x="118.45" y="587.60" width="7.17" height="1.45" fill="#ed9a9a"/><rect x="125.57" y="587.60" width="7.17" height="1.45" fill="#ed9b9b"/><rect x="132.69" y="587.60" width="7.17" height="1.45" fill="#e87474"/><rect x="139.80" y="587.60" width="7.17" height="1.45" fill="#f8e8e8"/><rect x="146.92" y="587.60" width="7.17" height="1.45" fill="#f9f3f3"/><rect x="154.04" y="587.60" width="7.17" height="1.45" fill="#cac5e0"/><rect x="161.15" y="587.60" width="7.17" height="1.45" fill="#b2acd1"/><rect x="168.27" y="587.60" width="7.17" height="1.45" fill="#675ca5"/><rect x="175.39" y="587.60" width="7.17" height="1.45" fill="#5b4f9e"/><rect x="97.10" y="589.00" width="7.17" height="1.45" fill="#f7e1e1"/><rect x="104.22" y="589.00" width="7.17" height="1.45" fill="#f6d9d9"/><rect x="111.33" y="589.00" width="7.17" height="1.45" fill="#ee9d9d"/><rect x="118.45" y="589.00" width="7.17" height="1.45" fill="#e66666"/><rect x="125.57" y="589.00" width="7.17" height="1.45" fill="#eb8686"/><rect x="132.69" y="589.00" width="7.17" height="1.45" fill="#e87070"/><rect x="139.80" y="589.00" width="7.17" height="1.45" fill="#f6d8d8"/><rect x="146.92" y="589.00" width="7.17" height="1.45" fill="#f5d3d3"/><rect x="154.04" y="589.00" width="7.17" height="1.45" fill="#9b93c4"/><rect x="161.15" y="589.00" width="7.17" height="1.45" fill="#c5c0dd"/><rect x="168.27" y="589.00" width="7.17" height="1.45" fill="#756bad"/><rect x="175.39" y="589.00" width="7.17" height="1.45" fill="#685da6"/><rect x="97.10" y="590.40" width="7.17" height="1.45" fill="#f8eaea"/><rect x="104.22" y="590.40" width="7.17" height="1.45" fill="#f4cdcd"/><rect x="111.33" y="590.40" width="7.17" height="1.45" fill="#efabab"/><rect x="118.45" y="590.40" width="7.17" height="1.45" fill="#e87474"/><rect x="125.57" y="590.40" width="7.17" height="1.45" fill="#ed9797"/><rect x="132.69" y="590.40" width="7.17" height="1.45" fill="#e97777"/><rect x="139.80" y="590.40" width="7.17" height="1.45" fill="#f9eded"/><rect x="146.92" y="590.40" width="7.17" height="1.45" fill="#f9f2f2"/><rect x="154.04" y="590.40" width="7.17" height="1.45" fill="#756bad"/><rect x="161.15" y="590.40" width="7.17" height="1.45" fill="#dad6e9"/><rect x="168.27" y="590.40" width="7.17" height="1.45" fill="#4d4095"/><rect x="175.39" y="590.40" width="7.17" height="1.45" fill="#6358a3"/><rect x="97.10" y="591.80" width="7.17" height="1.45" fill="#f2bdbd"/><rect x="104.22" y="591.80" width="7.17" height="1.45" fill="#f4cece"/><rect x="111.33" y="591.80" width="7.17" height="1.45" fill="#ea7f7f"/><rect x="118.45" y="591.80" width="7.17" height="1.45" fill="#e24b4b"/><rect x="125.57" y="591.80" width="7.17" height="1.45" fill="#f0b1b1"/><rect x="132.69" y="591.80" width="7.17" height="1.45" fill="#e66666"/><rect x="139.80" y="591.80" width="7.17" height="1.45" fill="#f4c9c9"/><rect x="146.92" y="591.80" width="7.17" height="1.45" fill="#efa5a5"/><rect x="154.04" y="591.80" width="7.17" height="1.45" fill="#958dc0"/><rect x="161.15" y="591.80" width="7.17" height="1.45" fill="#c8c3de"/><rect x="168.27" y="591.80" width="7.17" height="1.45" fill="#3d308c"/><rect x="175.39" y="591.80" width="7.17" height="1.45" fill="#6357a2"/><rect x="97.10" y="593.20" width="7.17" height="1.45" fill="#f1b7b7"/><rect x="104.22" y="593.20" width="7.17" height="1.45" fill="#f3c7c7"/><rect x="111.33" y="593.20" width="7.17" height="1.45" fill="#e34d4d"/><rect x="118.45" y="593.20" width="7.17" height="1.45" fill="#ed9a9a"/><rect x="125.57" y="593.20" width="7.17" height="1.45" fill="#f2bbbb"/><rect x="132.69" y="593.20" width="7.17" height="1.45" fill="#eb8888"/><rect x="139.80" y="593.20" width="7.17" height="1.45" fill="#f3c6c6"/><rect x="146.92" y="593.20" width="7.17" height="1.45" fill="#eea0a0"/><rect x="154.04" y="593.20" width="7.17" height="1.45" fill="#e9e6f2"/><rect x="161.15" y="593.20" width="7.17" height="1.45" fill="#d2cde4"/><rect x="168.27" y="593.20" width="7.17" height="1.45" fill="#7368ac"/><rect x="175.39" y="593.20" width="7.17" height="1.45" fill="#958dc0"/><rect x="97.10" y="594.60" width="7.17" height="1.45" fill="#f9f0f0"/><rect x="104.22" y="594.60" width="7.17" height="1.45" fill="#efa6a6"/><rect x="111.33" y="594.60" width="7.17" height="1.45" fill="#ea8585"/><rect x="118.45" y="594.60" width="7.17" height="1.45" fill="#f4cfcf"/><rect x="125.57" y="594.60" width="7.17" height="1.45" fill="#ed9a9a"/><rect x="132.69" y="594.60" width="7.17" height="1.45" fill="#ea8181"/><rect x="139.80" y="594.60" width="7.17" height="1.45" fill="#f5d3d3"/><rect x="146.92" y="594.60" width="7.17" height="1.45" fill="#ea8080"/><rect x="154.04" y="594.60" width="7.17" height="1.45" fill="#c1bbda"/><rect x="161.15" y="594.60" width="7.17" height="1.45" fill="#ada6ce"/><rect x="168.27" y="594.60" width="7.17" height="1.45" fill="#493c93"/><rect x="175.39" y="594.60" width="7.17" height="1.45" fill="#7167ab"/><rect x="97.10" y="596.00" width="7.17" height="1.45" fill="#eceaf4"/><rect x="104.22" y="596.00" width="7.17" height="1.45" fill="#ed9898"/><rect x="111.33" y="596.00" width="7.17" height="1.45" fill="#ea8686"/><rect x="118.45" y="596.00" width="7.17" height="1.45" fill="#f0abab"/><rect x="125.57" y="596.00" width="7.17" height="1.45" fill="#e66363"/><rect x="132.69" y="596.00" width="7.17" height="1.45" fill="#e34e4e"/><rect x="139.80" y="596.00" width="7.17" height="1.45" fill="#f0b2b2"/><rect x="146.92" y="596.00" width="7.17" height="1.45" fill="#e55c5c"/><rect x="154.04" y="596.00" width="7.17" height="1.45" fill="#d0cbe3"/><rect x="161.15" y="596.00" width="7.17" height="1.45" fill="#c8c3de"/><rect x="168.27" y="596.00" width="7.17" height="1.45" fill="#453790"/><rect x="175.39" y="596.00" width="7.17" height="1.45" fill="#6b60a7"/><rect x="97.10" y="597.40" width="7.17" height="1.45" fill="#f7e5e5"/><rect x="104.22" y="597.40" width="7.17" height="1.45" fill="#e87474"/><rect x="111.33" y="597.40" width="7.17" height="1.45" fill="#e87070"/><rect x="118.45" y="597.40" width="7.17" height="1.45" fill="#f1b6b6"/><rect x="125.57" y="597.40" width="7.17" height="1.45" fill="#eb8d8d"/><rect x="132.69" y="597.40" width="7.17" height="1.45" fill="#e76d6d"/><rect x="139.80" y="597.40" width="7.17" height="1.45" fill="#f8e6e6"/><rect x="146.92" y="597.40" width="7.17" height="1.45" fill="#ed9696"/><rect x="154.04" y="597.40" width="7.17" height="1.45" fill="#ccc7e1"/><rect x="161.15" y="597.40" width="7.17" height="1.45" fill="#b2abd1"/><rect x="168.27" y="597.40" width="7.17" height="1.45" fill="#3a2c8a"/><rect x="175.39" y="597.40" width="7.17" height="1.45" fill="#695ea6"/><rect x="97.10" y="598.80" width="7.17" height="1.45" fill="#edeaf4"/><rect x="104.22" y="598.80" width="7.17" height="1.45" fill="#f0acac"/><rect x="111.33" y="598.80" width="7.17" height="1.45" fill="#eea0a0"/><rect x="118.45" y="598.80" width="7.17" height="1.45" fill="#f8e7e7"/><rect x="125.57" y="598.80" width="7.17" height="1.45" fill="#ea7f7f"/><rect x="132.69" y="598.80" width="7.17" height="1.45" fill="#ee9d9d"/><rect x="139.80" y="598.80" width="7.17" height="1.45" fill="#eae7f2"/><rect x="146.92" y="598.80" width="7.17" height="1.45" fill="#efa9a9"/><rect x="154.04" y="598.80" width="7.17" height="1.45" fill="#8379b5"/><rect x="161.15" y="598.80" width="7.17" height="1.45" fill="#beb8d8"/><rect x="168.27" y="598.80" width="7.17" height="1.45" fill="#3a2c8a"/><rect x="175.39" y="598.80" width="7.17" height="1.45" fill="#695da6"/><rect x="97.10" y="600.20" width="7.17" height="1.45" fill="#d1cde4"/><rect x="104.22" y="600.20" width="7.17" height="1.45" fill="#f7e1e1"/><rect x="111.33" y="600.20" width="7.17" height="1.45" fill="#eea1a1"/><rect x="118.45" y="600.20" width="7.17" height="1.45" fill="#efa4a4"/><rect x="125.57" y="600.20" width="7.17" height="1.45" fill="#ec9292"/><rect x="132.69" y="600.20" width="7.17" height="1.45" fill="#ea8484"/><rect x="139.80" y="600.20" width="7.17" height="1.45" fill="#f5f3f9"/><rect x="146.92" y="600.20" width="7.17" height="1.45" fill="#efa9a9"/><rect x="154.04" y="600.20" width="7.17" height="1.45" fill="#b4aed3"/><rect x="161.15" y="600.20" width="7.17" height="1.45" fill="#9a92c3"/><rect x="168.27" y="600.20" width="7.17" height="1.45" fill="#453891"/><rect x="175.39" y="600.20" width="7.17" height="1.45" fill="#675ca5"/><rect x="97.10" y="601.60" width="7.17" height="1.45" fill="#c5c0dd"/><rect x="104.22" y="601.60" width="7.17" height="1.45" fill="#f0b2b2"/><rect x="111.33" y="601.60" width="7.17" height="1.45" fill="#eb8989"/><rect x="118.45" y="601.60" width="7.17" height="1.45" fill="#f0afaf"/><rect x="125.57" y="601.60" width="7.17" height="1.45" fill="#eb8a8a"/><rect x="132.69" y="601.60" width="7.17" height="1.45" fill="#efa5a5"/><rect x="139.80" y="601.60" width="7.17" height="1.45" fill="#b3acd2"/><rect x="146.92" y="601.60" width="7.17" height="1.45" fill="#f8e8e8"/><rect x="154.04" y="601.60" width="7.17" height="1.45" fill="#a9a2cc"/><rect x="161.15" y="601.60" width="7.17" height="1.45" fill="#b2abd1"/><rect x="168.27" y="601.60" width="7.17" height="1.45" fill="#3e308c"/><rect x="175.39" y="601.60" width="7.17" height="1.45" fill="#443690"/><rect x="97.10" y="603.00" width="7.17" height="1.45" fill="#d2cee4"/><rect x="104.22" y="603.00" width="7.17" height="1.45" fill="#f6dede"/><rect x="111.33" y="603.00" width="7.17" height="1.45" fill="#f0b0b0"/><rect x="118.45" y="603.00" width="7.17" height="1.45" fill="#f3c4c4"/><rect x="125.57" y="603.00" width="7.17" height="1.45" fill="#ec9393"/><rect x="132.69" y="603.00" width="7.17" height="1.45" fill="#ea8383"/><rect x="139.80" y="603.00" width="7.17" height="1.45" fill="#c4bfdc"/><rect x="146.92" y="603.00" width="7.17" height="1.45" fill="#f0b1b1"/><rect x="154.04" y="603.00" width="7.17" height="1.45" fill="#9088bd"/><rect x="161.15" y="603.00" width="7.17" height="1.45" fill="#b7b0d4"/><rect x="168.27" y="603.00" width="7.17" height="1.45" fill="#3a2c8a"/><rect x="175.39" y="603.00" width="7.17" height="1.45" fill="#544899"/><rect x="97.10" y="604.40" width="7.17" height="1.45" fill="#dfdcec"/><rect x="104.22" y="604.40" width="7.17" height="1.45" fill="#f4cccc"/><rect x="111.33" y="604.40" width="7.17" height="1.45" fill="#ec8f8f"/><rect x="118.45" y="604.40" width="7.17" height="1.45" fill="#f0aeae"/><rect x="125.57" y="604.40" width="7.17" height="1.45" fill="#e55c5c"/><rect x="132.69" y="604.40" width="7.17" height="1.45" fill="#e13f3f"/><rect x="139.80" y="604.40" width="7.17" height="1.45" fill="#dcd8ea"/><rect x="146.92" y="604.40" width="7.17" height="1.45" fill="#ec9393"/><rect x="154.04" y="604.40" width="7.17" height="1.45" fill="#b4aed3"/><rect x="161.15" y="604.40" width="7.17" height="1.45" fill="#867db7"/><rect x="168.27" y="604.40" width="7.17" height="1.45" fill="#463891"/><rect x="175.39" y="604.40" width="7.17" height="1.45" fill="#55489a"/><rect x="97.10" y="605.80" width="7.17" height="1.45" fill="#f4f2f9"/><rect x="104.22" y="605.80" width="7.17" height="1.45" fill="#f3c6c6"/><rect x="111.33" y="605.80" width="7.17" height="1.45" fill="#eb8989"/><rect x="118.45" y="605.80" width="7.17" height="1.45" fill="#ee9c9c"/><rect x="125.57" y="605.80" width="7.17" height="1.45" fill="#e97d7d"/><rect x="132.69" y="605.80" width="7.17" height="1.45" fill="#ec8f8f"/><rect x="139.80" y="605.80" width="7.17" height="1.45" fill="#cdc8e1"/><rect x="146.92" y="605.80" width="7.17" height="1.45" fill="#f2bcbc"/><rect x="154.04" y="605.80" width="7.17" height="1.45" fill="#685da5"/><rect x="161.15" y="605.80" width="7.17" height="1.45" fill="#b1aad1"/><rect x="168.27" y="605.80" width="7.17" height="1.45" fill="#3a2c8a"/><rect x="175.39" y="605.80" width="7.17" height="1.45" fill="#3a2c8a"/><rect x="97.10" y="607.20" width="7.17" height="1.45" fill="#dddaeb"/><rect x="104.22" y="607.20" width="7.17" height="1.45" fill="#faf5f5"/><rect x="111.33" y="607.20" width="7.17" height="1.45" fill="#f1b7b7"/><rect x="118.45" y="607.20" width="7.17" height="1.45" fill="#f1b2b2"/><rect x="125.57" y="607.20" width="7.17" height="1.45" fill="#ed9b9b"/><rect x="132.69" y="607.20" width="7.17" height="1.45" fill="#ea8585"/><rect x="139.80" y="607.20" width="7.17" height="1.45" fill="#d3cfe5"/><rect x="146.92" y="607.20" width="7.17" height="1.45" fill="#f3c8c8"/><rect x="154.04" y="607.20" width="7.17" height="1.45" fill="#867db7"/><rect x="161.15" y="607.20" width="7.17" height="1.45" fill="#b7b1d4"/><rect x="168.27" y="607.20" width="7.17" height="1.45" fill="#3f318d"/><rect x="175.39" y="607.20" width="7.17" height="1.45" fill="#41338e"/><rect x="97.10" y="608.60" width="7.17" height="1.45" fill="#ece9f4"/><rect x="104.22" y="608.60" width="7.17" height="1.45" fill="#f9f4f4"/><rect x="111.33" y="608.60" width="7.17" height="1.45" fill="#f4cccc"/><rect x="118.45" y="608.60" width="7.17" height="1.45" fill="#f4cece"/><rect x="125.57" y="608.60" width="7.17" height="1.45" fill="#ea8282"/><rect x="132.69" y="608.60" width="7.17" height="1.45" fill="#e66565"/><rect x="139.80" y="608.60" width="7.17" height="1.45" fill="#f2f0f7"/><rect x="146.92" y="608.60" width="7.17" height="1.45" fill="#f6dcdc"/><rect x="154.04" y="608.60" width="7.17" height="1.45" fill="#aea7cf"/><rect x="161.15" y="608.60" width="7.17" height="1.45" fill="#cbc6e0"/><rect x="168.27" y="608.60" width="7.17" height="1.45" fill="#4c3f95"/><rect x="175.39" y="608.60" width="7.17" height="1.45" fill="#6f65aa"/><rect x="97.10" y="610.00" width="7.17" height="1.45" fill="#f2f0f8"/><rect x="104.22" y="610.00" width="7.17" height="1.45" fill="#f1eef7"/><rect x="111.33" y="610.00" width="7.17" height="1.45" fill="#f5d3d3"/><rect x="118.45" y="610.00" width="7.17" height="1.45" fill="#efaaaa"/><rect x="125.57" y="610.00" width="7.17" height="1.45" fill="#ea8282"/><rect x="132.69" y="610.00" width="7.17" height="1.45" fill="#ea8686"/><rect x="139.80" y="610.00" width="7.17" height="1.45" fill="#f8eaea"/><rect x="146.92" y="610.00" width="7.17" height="1.45" fill="#f7e3e3"/><rect x="154.04" y="610.00" width="7.17" height="1.45" fill="#a099c7"/><rect x="161.15" y="610.00" width="7.17" height="1.45" fill="#d6d2e7"/><rect x="168.27" y="610.00" width="7.17" height="1.45" fill="#514598"/><rect x="175.39" y="610.00" width="7.17" height="1.45" fill="#766cae"/><rect x="97.10" y="611.40" width="7.17" height="1.45" fill="#f8e6e6"/><rect x="104.22" y="611.40" width="7.17" height="1.45" fill="#e8e5f2"/><rect x="111.33" y="611.40" width="7.17" height="1.45" fill="#eea2a2"/><rect x="118.45" y="611.40" width="7.17" height="1.45" fill="#efa6a6"/><rect x="125.57" y="611.40" width="7.17" height="1.45" fill="#ee9c9c"/><rect x="132.69" y="611.40" width="7.17" height="1.45" fill="#ea7f7f"/><rect x="139.80" y="611.40" width="7.17" height="1.45" fill="#f8ebeb"/><rect x="146.92" y="611.40" width="7.17" height="1.45" fill="#f8e9e9"/><rect x="154.04" y="611.40" width="7.17" height="1.45" fill="#786eaf"/><rect x="161.15" y="611.40" width="7.17" height="1.45" fill="#c1bcda"/><rect x="168.27" y="611.40" width="7.17" height="1.45" fill="#3a2c8a"/><rect x="175.39" y="611.40" width="7.17" height="1.45" fill="#7166aa"/><rect x="97.10" y="612.80" width="7.17" height="1.45" fill="#eae7f2"/><rect x="104.22" y="612.80" width="7.17" height="1.45" fill="#f1eef7"/><rect x="111.33" y="612.80" width="7.17" height="1.45" fill="#f2bfbf"/><rect x="118.45" y="612.80" width="7.17" height="1.45" fill="#f4cfcf"/><rect x="125.57" y="612.80" width="7.17" height="1.45" fill="#ee9f9f"/><rect x="132.69" y="612.80" width="7.17" height="1.45" fill="#f2bbbb"/><rect x="139.80" y="612.80" width="7.17" height="1.45" fill="#f3f0f8"/><rect x="146.92" y="612.80" width="7.17" height="1.45" fill="#f7e1e1"/><rect x="154.04" y="612.80" width="7.17" height="1.45" fill="#9189be"/><rect x="161.15" y="612.80" width="7.17" height="1.45" fill="#a099c7"/><rect x="168.27" y="612.80" width="7.17" height="1.45" fill="#3a2c8a"/><rect x="175.39" y="612.80" width="7.17" height="1.45" fill="#493c93"/><rect x="97.10" y="614.20" width="7.17" height="1.45" fill="#e3e0ee"/><rect x="104.22" y="614.20" width="7.17" height="1.45" fill="#e5e2f0"/><rect x="111.33" y="614.20" width="7.17" height="1.45" fill="#ec9494"/><rect x="118.45" y="614.20" width="7.17" height="1.45" fill="#f0b1b1"/><rect x="125.57" y="614.20" width="7.17" height="1.45" fill="#e97e7e"/><rect x="132.69" y="614.20" width="7.17" height="1.45" fill="#e66363"/><rect x="139.80" y="614.20" width="7.17" height="1.45" fill="#f0acac"/><rect x="146.92" y="614.20" width="7.17" height="1.45" fill="#efa8a8"/><rect x="154.04" y="614.20" width="7.17" height="1.45" fill="#c7c2de"/><rect x="161.15" y="614.20" width="7.17" height="1.45" fill="#b9b3d5"/><rect x="168.27" y="614.20" width="7.17" height="1.45" fill="#4c3f94"/><rect x="175.39" y="614.20" width="7.17" height="1.45" fill="#8980b9"/><rect x="97.10" y="615.60" width="7.17" height="1.45" fill="#f7e0e0"/><rect x="104.22" y="615.60" width="7.17" height="1.45" fill="#f1b6b6"/><rect x="111.33" y="615.60" width="7.17" height="1.45" fill="#e45858"/><rect x="118.45" y="615.60" width="7.17" height="1.45" fill="#ec8f8f"/><rect x="125.57" y="615.60" width="7.17" height="1.45" fill="#e87777"/><rect x="132.69" y="615.60" width="7.17" height="1.45" fill="#e45353"/><rect x="139.80" y="615.60" width="7.17" height="1.45" fill="#efa7a7"/><rect x="146.92" y="615.60" width="7.17" height="1.45" fill="#ec9292"/><rect x="154.04" y="615.60" width="7.17" height="1.45" fill="#f9f1f1"/><rect x="161.15" y="615.60" width="7.17" height="1.45" fill="#bfb9d9"/><rect x="168.27" y="615.60" width="7.17" height="1.45" fill="#847ab6"/><rect x="175.39" y="615.60" width="7.17" height="1.45" fill="#938bbf"/></g><line x1="97.1" y1="341.2" x2="223" y2="341.2" stroke="#2a2a2a" stroke-width="1.3" stroke-dasharray="6.3 4.56"/><line x1="97.1" y1="397.0" x2="223" y2="397.0" stroke="#2a2a2a" stroke-width="1.3" stroke-dasharray="6.3 4.56"/><line x1="97.1" y1="479.2" x2="223" y2="479.2" stroke="#2a2a2a" stroke-width="1.3" stroke-dasharray="6.3 4.56"/><line x1="97.1" y1="520.5" x2="223" y2="520.5" stroke="#2a2a2a" stroke-width="1.3" stroke-dasharray="6.3 4.56"/><line x1="97.1" y1="538.0" x2="223" y2="538.0" stroke="#2a2a2a" stroke-width="1.3" stroke-dasharray="6.3 4.56"/><line x1="97.1" y1="561.0" x2="223" y2="561.0" stroke="#2a2a2a" stroke-width="1.3" stroke-dasharray="6.3 4.56"/><line x1="97.1" y1="616.8" x2="223" y2="616.8" stroke="#2a2a2a" stroke-width="1.3" stroke-dasharray="6.3 4.56"/><text x="187.00" y="371.10" font-size="10.2" fill="#1a1a1a">A</text><text x="187.00" y="438.40" font-size="10.2" fill="#1a1a1a">B</text><text x="187.00" y="500.40" font-size="10.2" fill="#1a1a1a">C</text><text x="187.00" y="528.80" font-size="10.2" fill="#1a1a1a">D</text><text x="187.00" y="549.50" font-size="10.2" fill="#1a1a1a">E</text><text x="187.00" y="586.80" font-size="10.2" fill="#1a1a1a">F</text><rect x="87.70" y="341.00" width="9.40" height="276.00" fill="#161616"/><path d="M87.13 342.23H87.80M87.13 343.23H87.80M84.92 349.23H87.80M84.92 350.23H87.80M85.24 354.23H87.80M85.24 355.23H87.80M81.26 344.23H87.80M78.17 345.23H87.80M78.17 346.23H87.80M75.00 347.23H87.80M70.85 348.23H87.80M69.47 349.73H84.92M65.87 351.23H87.80M65.87 352.23H87.80M61.77 353.23H87.80M85.34 357.50H87.80M85.34 358.50H87.80M79.32 361.50H87.80M75.22 360.50H87.80M71.45 359.50H87.80M66.96 358.00H85.34M85.93 364.48H87.80M85.93 365.48H87.80M82.59 368.48H87.80M76.81 367.48H87.80M71.79 366.48H87.80M68.48 364.98H85.93M87.12 376.00H87.80M87.12 377.00H87.80M86.08 377.87H87.80M86.08 378.62H87.80M83.32 371.00H87.80M79.07 372.00H87.80M72.20 373.00H87.80M70.27 374.00H87.80M64.16 375.00H87.80M61.89 376.50H87.12M87.02 380.94H87.80M87.02 381.81H87.80M85.21 384.72H87.80M85.21 385.69H87.80M80.03 383.74H87.80M83.67 387.68H87.80M81.83 388.68H87.80M80.62 389.68H87.80M78.10 390.68H87.80M77.38 391.68H87.80M80.12 395.11H87.80M87.12 398.50H87.80M87.12 399.50H87.80M86.46 403.50H87.80M86.46 404.50H87.80M87.05 405.50H87.80M87.05 406.50H87.80M82.87 407.50H87.80M78.13 406.00H87.05M77.75 404.00H86.46M71.66 402.50H87.80M71.66 401.50H87.80M66.07 400.50H87.80M63.13 399.00H87.12M85.35 416.30H87.80M85.35 417.30H87.80M81.48 410.30H87.80M77.57 411.30H87.80M77.29 412.30H87.80M72.49 413.30H87.80M69.90 414.30H87.80M68.96 415.30H87.80M80.78 419.50H87.80M85.03 422.48H87.80M85.03 423.48H87.80M85.59 425.48H87.80M85.59 426.48H87.80M85.52 429.44H87.80M85.52 430.35H87.80M81.93 424.48H87.80M78.98 425.98H85.59M75.21 427.48H87.80M71.09 428.48H87.80M86.27 434.30H87.80M86.27 435.30H87.80M80.43 438.30H87.80M75.82 437.30H87.80M73.44 436.30H87.80M70.63 434.80H86.27M66.29 433.30H87.80M62.66 432.30H87.80M86.53 449.50H87.80M86.53 450.50H87.80M84.39 441.50H87.80M81.66 442.50H87.80M79.81 443.50H87.80M73.81 444.50H87.80M70.92 445.50H87.80M70.92 446.50H87.80M68.93 447.50H87.80M66.74 448.50H87.80M63.23 450.00H86.53M75.74 453.50H87.80M70.41 454.50H87.80M60.78 455.50H87.80M85.00 464.66H87.80M85.00 465.62H87.80M81.02 458.68H87.80M78.06 459.68H87.80M73.57 460.68H87.80M70.16 461.68H87.80M66.33 462.68H87.80M62.76 463.68H87.80M76.34 467.60H87.80M70.89 468.60H87.80M84.89 473.50H87.80M84.89 474.50H87.80M73.52 476.50H87.80M60.63 475.50H87.80M52.79 474.00H84.89M41.32 472.50H87.80M33.01 471.50H87.80M86.39 482.50H87.80M86.39 483.50H87.80M85.01 485.50H87.80M85.01 486.50H87.80M82.15 489.50H87.80M80.92 488.50H87.80M79.10 487.50H87.80M78.23 486.00H85.01M77.38 484.50H87.80M74.50 483.00H86.39M74.50 481.50H87.80M72.81 480.50H87.80M83.37 492.53H87.80M79.94 493.53H87.80M76.97 494.53H87.80M73.38 495.53H87.80M86.97 502.14H87.80M86.97 503.14H87.80M82.89 507.14H87.80M77.15 506.14H87.80M76.76 505.14H87.80M70.76 504.14H87.80M67.10 502.64H86.97M67.10 501.14H87.80M62.96 500.14H87.80M58.54 499.14H87.80M85.81 511.07H87.80M85.81 512.07H87.80M87.22 515.07H87.80M87.22 516.07H87.80M79.28 515.57H87.22M73.84 514.07H87.80M71.38 513.07H87.80M62.66 511.57H85.81M58.71 510.07H87.80M87.12 520.50H87.80M87.12 521.50H87.80M79.88 519.50H87.80M77.39 521.00H87.12M71.28 522.50H87.80M86.80 524.39H87.80M86.80 525.39H87.80M81.69 526.39H87.80M77.42 527.39H87.80M74.14 528.39H87.80M68.11 529.39H87.80M85.89 532.59H87.80M85.89 533.59H87.80M77.45 533.09H85.89M72.90 534.59H87.80M86.90 542.50H87.80M86.90 543.50H87.80M80.50 539.50H87.80M76.43 540.50H87.80M73.41 541.50H87.80M71.96 543.00H86.90M66.31 544.50H87.80M86.79 546.16H87.80M86.79 547.16H87.80M82.51 548.16H87.80M80.55 549.16H87.80M75.09 550.16H87.80M72.39 551.16H87.80M86.95 559.39H87.80M86.95 560.39H87.80M80.62 554.39H87.80M76.75 555.39H87.80M71.85 556.39H87.80M70.51 557.39H87.80M65.63 558.39H87.80M85.00 563.50H87.80M85.00 564.50H87.80M72.69 564.00H85.00M66.25 562.50H87.80M86.04 566.88H87.80M86.04 567.88H87.80M85.75 568.88H87.80M85.75 569.88H87.80M85.81 572.88H87.80M85.81 573.88H87.80M85.30 578.88H87.80M85.30 579.88H87.80M80.70 569.38H85.75M78.58 570.88H87.80M74.78 571.88H87.80M72.34 573.38H85.81M72.34 574.88H87.80M67.49 575.88H87.80M64.97 576.88H87.80M63.09 577.88H87.80M60.29 579.38H85.30M86.20 591.35H87.80M86.20 592.35H87.80M82.91 583.35H87.80M82.15 584.35H87.80M81.00 585.35H87.80M81.00 586.35H87.80M81.00 587.35H87.80M80.32 588.35H87.80M78.10 589.35H87.80M76.93 590.35H87.80M75.72 591.85H86.20M85.96 596.97H87.80M85.96 597.97H87.80M82.56 604.97H87.80M82.35 603.97H87.80M81.76 602.97H87.80M81.47 601.97H87.80M79.81 600.97H87.80M78.33 599.97H87.80M77.98 598.97H87.80M77.62 597.47H85.96M76.52 595.97H87.80M76.19 594.97H87.80M85.66 610.66H87.80M85.66 611.66H87.80M85.81 612.66H87.80M85.81 613.66H87.80M80.36 607.66H87.80M77.01 608.66H87.80M75.63 609.66H87.80M73.20 611.16H85.66M72.25 613.16H85.81" fill="none" stroke="#2a2a2a" stroke-width="0.72"/><path d="M49.10 341.37H87.80M87.13 342.23V343.23M84.92 349.23V350.23M85.24 354.23V355.23M81.26 342.73H87.13M81.26 342.73V344.23M78.17 343.48H81.26M78.17 343.48V345.23M78.17 344.36V346.23M75.00 345.29H78.17M75.00 345.29V347.23M70.85 346.26H75.00M70.85 346.26V348.23M69.47 347.25H70.85M69.47 347.25V349.73M65.87 348.49H69.47M65.87 348.49V351.23M65.87 349.86V352.23M61.77 351.04H65.87M61.77 351.04V353.23M60.00 352.14H61.77M60.00 354.73H85.24M60.00 352.14V354.73M49.10 353.43H60.00M49.10 341.37V353.43M85.34 357.50V358.50M79.32 362.49H87.80M79.32 362.49V361.50M75.22 362.00H79.32M75.22 362.00V360.50M71.45 361.25H75.22M71.45 361.25V359.50M66.96 360.37H71.45M66.96 360.37V358.00M63.33 359.19H66.96M63.33 356.50H87.80M63.33 359.19V356.50M61.41 357.84H63.33M85.93 364.48V365.48M82.59 369.24H87.80M82.59 369.24V368.48M76.81 368.86H82.59M76.81 368.86V367.48M71.79 368.17H76.81M71.79 368.17V366.48M68.48 367.33H71.79M68.48 367.33V364.98M64.29 366.15H68.48M64.29 363.48H87.80M64.29 366.15V363.48M61.41 364.82H64.29M61.41 357.84V364.82M54.30 361.33H61.41M87.12 376.00V377.00M86.08 377.87V378.62M83.32 370.00H87.80M83.32 370.00V371.00M79.07 370.50H83.32M79.07 370.50V372.00M72.20 371.25H79.07M72.20 371.25V373.00M70.27 372.12H72.20M70.27 372.12V374.00M64.16 373.06H70.27M64.16 373.06V375.00M61.89 374.03H64.16M61.89 374.03V376.50M56.65 375.26H61.89M56.65 378.25H86.08M56.65 375.26V378.25M54.30 376.76H56.65M54.30 361.33V376.76M45.50 347.40H49.10M45.50 369.04H54.30M45.50 347.40V379.10M66.75 379.50H87.80M66.75 380.26H87.80M66.75 379.50V380.26M63.80 379.88H66.75M87.02 380.94V381.81M73.49 381.37H87.02M69.33 381.37H73.49M85.21 384.72V385.69M80.03 382.74H87.80M80.03 382.74V383.74M73.57 383.24H80.03M73.57 385.21H85.21M73.57 383.24V385.21M70.69 384.22H73.57M83.67 386.68H87.80M83.67 386.68V387.68M81.83 387.18H83.67M81.83 387.18V388.68M80.62 387.93H81.83M80.62 387.93V389.68M78.10 388.80H80.62M78.10 388.80V390.68M77.38 389.74H78.10M77.38 389.74V391.68M74.20 390.71H77.38M74.20 392.89H87.80M74.20 390.71V392.89M71.62 391.80H74.20M80.12 394.11H87.80M80.12 394.11V395.11M73.15 394.61H80.12M73.15 396.30H87.80M73.15 394.61V396.30M71.62 395.46H73.15M71.62 391.80V395.46M70.69 393.63H71.62M70.69 384.22V393.63M69.33 388.93H70.69M69.33 381.37V388.93M63.80 385.15H69.33M63.80 379.88V385.15M43.40 379.10H45.50M43.40 382.51H63.80M43.40 379.10V385.50M87.12 398.50V399.50M86.46 403.50V404.50M87.05 405.50V406.50M82.87 408.40H87.80M82.87 408.40V407.50M78.13 407.95H82.87M78.13 407.95V406.00M77.75 406.98H78.13M77.75 406.98V404.00M71.66 405.49H77.75M71.66 405.49V402.50M71.66 403.99V401.50M66.07 402.75H71.66M66.07 402.75V400.50M63.13 401.62H66.07M63.13 401.62V399.00M60.34 400.31H63.13M60.34 397.50H87.80M60.34 400.31V397.50M58.60 398.91H60.34M85.35 416.30V417.30M81.48 409.30H87.80M81.48 409.30V410.30M77.57 409.80H81.48M77.57 409.80V411.30M77.29 410.55H77.57M77.29 410.55V412.30M72.49 411.43H77.29M72.49 411.43V413.30M69.90 412.37H72.49M69.90 412.37V414.30M68.96 413.34H69.90M68.96 413.34V415.30M65.55 414.32H68.96M65.55 416.80H85.35M65.55 414.32V416.80M58.60 415.56H65.55M58.60 398.91V415.56M80.78 420.50H87.80M80.78 420.50V419.50M74.20 420.00H80.78M74.20 418.50H87.80M74.20 420.00V418.50M62.22 421.49H87.80M85.03 422.48V423.48M85.59 425.48V426.48M85.52 429.44V430.35M81.93 422.98H85.03M81.93 422.98V424.48M78.98 423.73H81.93M78.98 423.73V425.98M75.21 424.86H78.98M75.21 424.86V427.48M71.09 426.17H75.21M71.09 426.17V428.48M68.17 427.33H71.09M68.17 429.89H85.52M68.17 427.33V429.89M62.22 428.61H68.17M62.22 421.49V428.61M52.00 425.05H62.22M86.27 434.30V435.30M80.43 439.30H87.80M80.43 439.30V438.30M75.82 438.80H80.43M75.82 438.80V437.30M73.44 438.05H75.82M73.44 438.05V436.30M70.63 437.18H73.44M70.63 437.18V434.80M66.29 435.99H70.63M66.29 435.99V433.30M62.66 434.64H66.29M62.66 434.64V432.30M58.82 433.47H62.66M58.82 431.30H87.80M58.82 433.47V431.30M52.00 432.39H58.82M52.00 425.05V432.39M86.53 449.50V450.50M84.39 440.50H87.80M84.39 440.50V441.50M81.66 441.00H84.39M81.66 441.00V442.50M79.81 441.75H81.66M79.81 441.75V443.50M73.81 442.62H79.81M73.81 442.62V444.50M70.92 443.56H73.81M70.92 443.56V445.50M70.92 444.53V446.50M68.93 445.52H70.92M68.93 445.52V447.50M66.74 446.51H68.93M66.74 446.51V448.50M63.23 447.50H66.74M63.23 447.50V450.00M60.00 448.75H63.23M60.00 451.50H87.80M60.00 448.75V451.50M37.90 428.72H52.00M37.90 450.13H60.00M37.90 428.72V450.13M75.74 452.50H87.80M75.74 452.50V453.50M70.41 453.00H75.74M70.41 453.00V454.50M60.78 453.75H70.41M60.78 453.75V455.50M53.50 454.62H60.78M53.50 456.59H87.80M53.50 454.62V456.59M45.00 455.61H53.50M85.00 464.66V465.62M81.02 457.68H87.80M81.02 457.68V458.68M78.06 458.18H81.02M78.06 458.18V459.68M73.57 458.93H78.06M73.57 458.93V460.68M70.16 459.81H73.57M70.16 459.81V461.68M66.33 460.75H70.16M66.33 460.75V462.68M62.76 461.71H66.33M62.76 461.71V463.68M59.07 462.70H62.76M59.07 465.14H85.00M59.07 462.70V465.14M50.64 463.92H59.07M76.34 466.60H87.80M76.34 466.60V467.60M70.89 467.10H76.34M70.89 467.10V468.60M61.53 467.85H70.89M61.53 469.55H87.80M61.53 467.85V469.55M50.64 468.70H61.53M50.64 463.92V468.70M45.00 466.31H50.64M45.00 455.61V466.31M35.80 439.42H37.90M35.80 460.96H45.00M35.80 439.42V460.96M31.00 419.25H74.20M31.00 450.19H35.80M31.00 419.25V450.19M18.50 407.23H58.60M18.50 434.72H31.00M18.50 407.23V434.72M84.89 473.50V474.50M73.52 477.30H87.80M73.52 477.30V476.50M60.63 476.90H73.52M60.63 476.90V475.50M52.79 476.20H60.63M52.79 476.20V474.00M41.32 475.10H52.79M41.32 475.10V472.50M33.01 473.80H41.32M33.01 473.80V471.50M22.00 472.65H33.01M22.00 470.50H87.80M22.00 472.65V470.50M14.00 420.98H18.50M14.00 471.57H22.00M14.00 420.98V476.00M86.39 482.50V483.50M85.01 485.50V486.50M82.15 490.50H87.80M82.15 490.50V489.50M80.92 490.00H82.15M80.92 490.00V488.50M79.10 489.25H80.92M79.10 489.25V487.50M78.23 488.38H79.10M78.23 488.38V486.00M77.38 487.19H78.23M77.38 487.19V484.50M74.50 485.84H77.38M74.50 485.84V483.00M74.50 484.42V481.50M72.81 482.96H74.50M72.81 482.96V480.50M71.44 481.73H72.81M71.44 479.50H87.80M71.44 481.73V479.50M67.30 480.62H71.44M83.37 491.53H87.80M83.37 491.53V492.53M79.94 492.03H83.37M79.94 492.03V493.53M76.97 492.78H79.94M76.97 492.78V494.53M73.38 493.66H76.97M73.38 493.66V495.53M69.61 494.60H73.38M69.61 496.52H87.80M69.61 494.60V496.52M67.30 495.56H69.61M67.30 480.62V495.56M48.00 497.32H87.80M86.97 502.14V503.14M82.89 508.10H87.80M82.89 508.10V507.14M77.15 507.62H82.89M77.15 507.62V506.14M76.76 506.88H77.15M76.76 506.88V505.14M70.76 506.01H76.76M70.76 506.01V504.14M67.10 505.07H70.76M67.10 505.07V502.64M67.10 503.85V501.14M62.96 502.49H67.10M62.96 502.49V500.14M58.54 501.32H62.96M58.54 501.32V499.14M55.47 500.23H58.54M55.47 498.14H87.80M55.47 500.23V498.14M51.73 499.18H55.47M85.81 511.07V512.07M87.22 515.07V516.07M79.28 517.28H87.80M79.28 517.28V515.57M73.84 516.43H79.28M73.84 516.43V514.07M71.38 515.25H73.84M71.38 515.25V513.07M62.66 514.16H71.38M62.66 514.16V511.57M58.71 512.86H62.66M58.71 512.86V510.07M52.84 511.47H58.71M52.84 509.07H87.80M52.84 511.47V509.07M51.73 510.27H52.84M51.73 499.18V510.27M48.00 504.72H51.73M48.00 497.32V504.72M45.60 488.09H67.30M45.60 501.02H48.00M45.60 488.09V501.02M87.12 520.50V521.50M79.88 518.50H87.80M79.88 518.50V519.50M77.39 519.00H79.88M77.39 519.00V521.00M71.28 520.00H77.39M71.28 520.00V522.50M66.67 521.25H71.28M66.67 523.45H87.80M66.67 521.25V523.45M62.40 522.35H66.67M86.80 524.39V525.39M81.69 524.89H86.80M81.69 524.89V526.39M77.42 525.64H81.69M77.42 525.64V527.39M74.14 526.52H77.42M74.14 526.52V528.39M68.11 527.45H74.14M68.11 527.45V529.39M65.10 528.42H68.11M65.10 530.39H87.80M65.10 528.42V530.39M62.40 529.41H65.10M62.40 522.35V529.41M59.45 525.88H62.40M85.89 532.59V533.59M77.45 531.59H87.80M77.45 531.59V533.09M72.90 532.34H77.45M72.90 532.34V534.59M65.21 533.47H72.90M65.21 535.54H87.80M65.21 533.47V535.54M59.45 534.51H65.21M59.45 525.88V534.51M53.80 530.19H59.45M61.37 536.50H87.80M61.37 537.50H87.80M61.37 536.50V537.50M53.80 537.00H61.37M53.80 530.19V537.00M86.90 542.50V543.50M80.50 538.50H87.80M80.50 538.50V539.50M76.43 539.00H80.50M76.43 539.00V540.50M73.41 539.75H76.43M73.41 539.75V541.50M71.96 540.62H73.41M71.96 540.62V543.00M66.31 541.81H71.96M66.31 541.81V544.50M62.75 543.16H66.31M62.75 545.33H87.80M62.75 543.16V545.33M60.03 544.24H62.75M86.79 546.16V547.16M82.51 546.66H86.79M82.51 546.66V548.16M80.55 547.41H82.51M80.55 547.41V549.16M75.09 548.28H80.55M75.09 548.28V550.16M72.39 549.22H75.09M72.39 549.22V551.16M67.72 550.19H72.39M67.72 552.16H87.80M67.72 550.19V552.16M60.03 551.17H67.72M60.03 544.24V551.17M54.80 547.71H60.03M86.95 559.39V560.39M80.62 553.39H87.80M80.62 553.39V554.39M76.75 553.89H80.62M76.75 553.89V555.39M71.85 554.64H76.75M71.85 554.64V556.39M70.51 555.51H71.85M70.51 555.51V557.39M65.63 556.45H70.51M65.63 556.45V558.39M60.87 557.42H65.63M60.87 559.89H86.95M60.87 557.42V559.89M54.80 558.66H60.87M54.80 547.71V558.66M41.30 533.60H53.80M41.30 553.18H54.80M41.30 533.60V553.18M40.40 494.55H45.60M40.40 543.39H41.30M40.40 494.55V543.39M85.00 563.50V564.50M72.69 565.69H87.80M72.69 565.69V564.00M66.25 564.85H72.69M66.25 564.85V562.50M56.42 563.67H66.25M56.42 561.50H87.80M56.42 563.67V561.50M55.00 562.59H56.42M86.04 566.88V567.88M85.75 568.88V569.88M85.81 572.88V573.88M85.30 578.88V579.88M80.70 567.38H86.04M80.70 567.38V569.38M78.58 568.38H80.70M78.58 568.38V570.88M74.78 569.63H78.58M74.78 569.63V571.88M72.34 570.76H74.78M72.34 570.76V573.38M72.34 572.07V574.88M67.49 573.47H72.34M67.49 573.47V575.88M64.97 574.68H67.49M64.97 574.68V576.88M63.09 575.78H64.97M63.09 575.78V577.88M60.29 576.83H63.09M60.29 576.83V579.38M57.64 578.11H60.29M57.64 580.69H87.80M57.64 578.11V580.69M55.00 579.40H57.64M55.00 562.59V579.40M68.93 581.43H87.80M86.20 591.35V592.35M82.91 582.35H87.80M82.91 582.35V583.35M82.15 582.85H82.91M82.15 582.85V584.35M81.00 583.60H82.15M81.00 583.60V585.35M81.00 584.48V586.35M81.00 585.42V587.35M80.32 586.38H81.00M80.32 586.38V588.35M78.10 587.37H80.32M78.10 587.37V589.35M76.93 588.36H78.10M76.93 588.36V590.35M75.72 589.36H76.93M75.72 589.36V591.85M75.42 590.61H75.72M75.42 593.16H87.80M75.42 590.61V593.16M73.41 591.88H75.42M85.96 596.97V597.97M82.56 605.81H87.80M82.56 605.81V604.97M82.35 605.39H82.56M82.35 605.39V603.97M81.76 604.68H82.35M81.76 604.68V602.97M81.47 603.82H81.76M81.47 603.82V601.97M79.81 602.90H81.47M79.81 602.90V600.97M78.33 601.93H79.81M78.33 601.93V599.97M77.98 600.95H78.33M77.98 600.95V598.97M77.62 599.96H77.98M77.62 599.96V597.47M76.52 598.71H77.62M76.52 598.71V595.97M76.19 597.34H76.52M76.19 597.34V594.97M75.12 596.15H76.19M75.12 593.97H87.80M75.12 596.15V593.97M73.41 595.06H75.12M73.41 591.88V595.06M68.93 593.47H73.41M68.93 581.43V593.47M63.05 587.45H68.93M85.66 610.66V611.66M85.81 612.66V613.66M80.36 606.66H87.80M80.36 606.66V607.66M77.01 607.16H80.36M77.01 607.16V608.66M75.63 607.91H77.01M75.63 607.91V609.66M73.20 608.78H75.63M73.20 608.78V611.16M72.25 609.97H73.20M72.25 609.97V613.16M68.83 611.57H72.25M68.83 614.60H87.80M68.83 611.57V614.60M63.05 613.08H68.83M63.05 587.45V613.08M60.00 600.26H63.05M62.17 615.53H87.80M62.17 616.52H87.80M62.17 615.53V616.52M60.00 616.02H62.17M60.00 600.26V616.02M48.00 570.99H55.00M48.00 608.14H60.00M48.00 570.99V608.14M37.50 518.00H40.40M37.50 598.00H48.00M37.50 518.00V598.00M12.00 476.00H14.00M12.00 561.00H37.50M12.00 476.00V561.00M11.20 385.50H43.40M11.20 518.00H12.00M11.20 385.50V518.00M21.50 473.60H87.80M22.10 474.40H87.80M22.70 475.20H87.80M23.30 476.00H87.80M23.90 476.80H87.80M14.20 430.00V476.00M16.90 435.00V476.00M19.60 440.00V476.00M22.30 445.00V476.00M25.00 450.00V476.00M27.70 455.00V476.00M30.40 460.00V476.00M33.10 465.00V476.00" fill="none" stroke="#1e1e1e" stroke-width="0.75"/><rect x="280.30" y="306.00" width="8.30" height="8.00" fill="#b8283e"/><text x="291.90" y="313.90" font-size="10.4" textLength="25.0" lengthAdjust="spacingAndGlyphs" fill="#1a1a1a">CD56</text><text x="317.10" y="308.90" font-size="7.8" textLength="17.7" lengthAdjust="spacingAndGlyphs" fill="#1a1a1a">bright</text><text x="336.80" y="313.90" font-size="10.4" textLength="34.5" lengthAdjust="spacingAndGlyphs" fill="#1a1a1a">DNAM-1</text><text x="372.00" y="311.20" font-size="6.8" fill="#1a1a1a">+</text><rect x="280.30" y="326.20" width="8.30" height="8.00" fill="#4f73a8"/><text x="291.90" y="334.10" font-size="10.4" textLength="25.0" lengthAdjust="spacingAndGlyphs" fill="#1a1a1a">CD56</text><text x="317.10" y="329.10" font-size="7.8" textLength="10.700000000000001" lengthAdjust="spacingAndGlyphs" fill="#1a1a1a">dim</text><text x="330.40" y="334.10" font-size="10.4" textLength="34.5" lengthAdjust="spacingAndGlyphs" fill="#1a1a1a">DNAM-1</text><text x="365.60" y="331.40" font-size="6.8" fill="#1a1a1a">+</text><rect x="280.30" y="345.80" width="8.30" height="8.00" fill="#6ab04c"/><text x="291.90" y="353.70" font-size="10.4" textLength="25.0" lengthAdjust="spacingAndGlyphs" fill="#1a1a1a">CD56</text><text x="317.10" y="348.70" font-size="7.8" textLength="10.700000000000001" lengthAdjust="spacingAndGlyphs" fill="#1a1a1a">dim</text><text x="330.40" y="353.70" font-size="10.4" textLength="34.5" lengthAdjust="spacingAndGlyphs" fill="#1a1a1a">DNAM-1</text><text x="366.20" y="349.80" font-size="6.8" fill="#1a1a1a">-</text><polyline points="354.60,410.80 354.60,402.20 364.60,402.20 364.60,410.80" fill="none" stroke="#2a2a2a" stroke-width="1.1"/><polyline points="359.60,402.20 359.60,393.40 374.60,393.40 374.60,410.80" fill="none" stroke="#2a2a2a" stroke-width="1.1"/><polyline points="367.10,393.40 367.10,385.00 384.60,385.00 384.60,410.80" fill="none" stroke="#2a2a2a" stroke-width="1.1"/><polyline points="394.60,410.80 394.60,402.20 404.60,402.20 404.60,410.80" fill="none" stroke="#2a2a2a" stroke-width="1.1"/><polyline points="414.60,410.80 414.60,402.20 424.60,402.20 424.60,410.80" fill="none" stroke="#2a2a2a" stroke-width="1.1"/><polyline points="399.60,402.20 399.60,392.80 419.60,392.80 419.60,402.20" fill="none" stroke="#2a2a2a" stroke-width="1.1"/><polyline points="434.60,410.80 434.60,402.20 444.60,402.20 444.60,410.80" fill="none" stroke="#2a2a2a" stroke-width="1.1"/><polyline points="439.60,402.20 439.60,392.80 454.60,392.80 454.60,410.80" fill="none" stroke="#2a2a2a" stroke-width="1.1"/><polyline points="447.10,392.80 447.10,384.00 464.60,384.00 464.60,410.80" fill="none" stroke="#2a2a2a" stroke-width="1.1"/><polyline points="409.60,392.80 409.60,376.20 455.85,376.20 455.85,384.00" fill="none" stroke="#2a2a2a" stroke-width="1.1"/><polyline points="375.85,385.00 375.85,367.00 432.73,367.00 432.73,376.20" fill="none" stroke="#2a2a2a" stroke-width="1.1"/><line x1="404.29" y1="360.00" x2="404.29" y2="367.00" stroke="#2a2a2a" stroke-width="1.1"/><rect x="351.70" y="410.80" width="5.80" height="9.90" fill="#b8283e"/><rect x="361.70" y="410.80" width="5.80" height="9.90" fill="#b8283e"/><rect x="371.70" y="410.80" width="5.80" height="9.90" fill="#b8283e"/><rect x="381.70" y="410.80" width="5.80" height="9.90" fill="#b8283e"/><rect x="391.70" y="410.80" width="5.80" height="9.90" fill="#4f73a8"/><rect x="401.70" y="410.80" width="5.80" height="9.90" fill="#4f73a8"/><rect x="411.70" y="410.80" width="5.80" height="9.90" fill="#4f73a8"/><rect x="421.70" y="410.80" width="5.80" height="9.90" fill="#4f73a8"/><rect x="431.70" y="410.80" width="5.80" height="9.90" fill="#6ab04c"/><rect x="441.70" y="410.80" width="5.80" height="9.90" fill="#6ab04c"/><rect x="451.70" y="410.80" width="5.80" height="9.90" fill="#6ab04c"/><rect x="461.70" y="410.80" width="5.80" height="9.90" fill="#6ab04c"/><text x="473.70" y="418.20" font-size="8.0" fill="#1a1a1a">subset</text><g><rect x="349.60" y="423.80" width="10.50" height="10.52" fill="#1a1a18"/><rect x="359.60" y="423.80" width="10.50" height="10.52" fill="#2e2a44"/><rect x="369.60" y="423.80" width="10.50" height="10.52" fill="#1a1a18"/><rect x="379.60" y="423.80" width="10.50" height="10.52" fill="#6a642d"/><rect x="389.60" y="423.80" width="10.50" height="10.52" fill="#383620"/><rect x="399.60" y="423.80" width="10.50" height="10.52" fill="#605b2b"/><rect x="409.60" y="423.80" width="10.50" height="10.52" fill="#c7bb38"/><rect x="419.60" y="423.80" width="10.50" height="10.52" fill="#6a642d"/><rect x="429.60" y="423.80" width="10.50" height="10.52" fill="#3a5caf"/><rect x="439.60" y="423.80" width="10.50" height="10.52" fill="#3a5caf"/><rect x="449.60" y="423.80" width="10.50" height="10.52" fill="#2e2c1e"/><rect x="459.60" y="423.80" width="10.00" height="10.52" fill="#565128"/><rect x="349.60" y="433.82" width="10.50" height="10.52" fill="#2e2c1e"/><rect x="359.60" y="433.82" width="10.50" height="10.52" fill="#423f23"/><rect x="369.60" y="433.82" width="10.50" height="10.52" fill="#565128"/><rect x="379.60" y="433.82" width="10.50" height="10.52" fill="#8a8334"/><rect x="389.60" y="433.82" width="10.50" height="10.52" fill="#24231b"/><rect x="399.60" y="433.82" width="10.50" height="10.52" fill="#4c4826"/><rect x="409.60" y="433.82" width="10.50" height="10.52" fill="#a39a37"/><rect x="419.60" y="433.82" width="10.50" height="10.52" fill="#423f23"/><rect x="429.60" y="433.82" width="10.50" height="10.52" fill="#3a5caf"/><rect x="439.60" y="433.82" width="10.50" height="10.52" fill="#3a5caf"/><rect x="449.60" y="433.82" width="10.50" height="10.52" fill="#312d4d"/><rect x="459.60" y="433.82" width="10.00" height="10.52" fill="#6a642d"/><rect x="349.60" y="443.84" width="10.50" height="10.52" fill="#262432"/><rect x="359.60" y="443.84" width="10.50" height="10.52" fill="#3e3a70"/><rect x="369.60" y="443.84" width="10.50" height="10.52" fill="#262432"/><rect x="379.60" y="443.84" width="10.50" height="10.52" fill="#423f23"/><rect x="389.60" y="443.84" width="10.50" height="10.52" fill="#6a642d"/><rect x="399.60" y="443.84" width="10.50" height="10.52" fill="#b0a538"/><rect x="409.60" y="443.84" width="10.50" height="10.52" fill="#b0a538"/><rect x="419.60" y="443.84" width="10.50" height="10.52" fill="#978e35"/><rect x="429.60" y="443.84" width="10.50" height="10.52" fill="#3a5caf"/><rect x="439.60" y="443.84" width="10.50" height="10.52" fill="#3a5caf"/><rect x="449.60" y="443.84" width="10.50" height="10.52" fill="#1e1d21"/><rect x="459.60" y="443.84" width="10.00" height="10.52" fill="#383620"/><rect x="349.60" y="453.86" width="10.50" height="10.52" fill="#565128"/><rect x="359.60" y="453.86" width="10.50" height="10.52" fill="#565128"/><rect x="369.60" y="453.86" width="10.50" height="10.52" fill="#1a1a18"/><rect x="379.60" y="453.86" width="10.50" height="10.52" fill="#423f23"/><rect x="389.60" y="453.86" width="10.50" height="10.52" fill="#4c4826"/><rect x="399.60" y="453.86" width="10.50" height="10.52" fill="#8a8334"/><rect x="409.60" y="453.86" width="10.50" height="10.52" fill="#c7bb38"/><rect x="419.60" y="453.86" width="10.50" height="10.52" fill="#6a642d"/><rect x="429.60" y="453.86" width="10.50" height="10.52" fill="#3a59aa"/><rect x="439.60" y="453.86" width="10.50" height="10.52" fill="#3a5caf"/><rect x="449.60" y="453.86" width="10.50" height="10.52" fill="#3d417f"/><rect x="459.60" y="453.86" width="10.00" height="10.52" fill="#2e2a44"/><rect x="349.60" y="463.88" width="10.50" height="10.52" fill="#565128"/><rect x="359.60" y="463.88" width="10.50" height="10.52" fill="#1a1a18"/><rect x="369.60" y="463.88" width="10.50" height="10.52" fill="#dcce35"/><rect x="379.60" y="463.88" width="10.50" height="10.52" fill="#423f23"/><rect x="389.60" y="463.88" width="10.50" height="10.52" fill="#978e35"/><rect x="399.60" y="463.88" width="10.50" height="10.52" fill="#565128"/><rect x="409.60" y="463.88" width="10.50" height="10.52" fill="#22202a"/><rect x="419.60" y="463.88" width="10.50" height="10.52" fill="#1a1a18"/><rect x="429.60" y="463.88" width="10.50" height="10.52" fill="#3a59aa"/><rect x="439.60" y="463.88" width="10.50" height="10.52" fill="#3a59aa"/><rect x="449.60" y="463.88" width="10.50" height="10.52" fill="#3b52a0"/><rect x="459.60" y="463.88" width="10.00" height="10.52" fill="#605b2b"/><rect x="349.60" y="473.90" width="10.50" height="10.52" fill="#38345e"/><rect x="359.60" y="473.90" width="10.50" height="10.52" fill="#383620"/><rect x="369.60" y="473.90" width="10.50" height="10.52" fill="#3b3767"/><rect x="379.60" y="473.90" width="10.50" height="10.52" fill="#bcb13a"/><rect x="389.60" y="473.90" width="10.50" height="10.52" fill="#3c488e"/><rect x="399.60" y="473.90" width="10.50" height="10.52" fill="#24231b"/><rect x="409.60" y="473.90" width="10.50" height="10.52" fill="#423f23"/><rect x="419.60" y="473.90" width="10.50" height="10.52" fill="#22202a"/><rect x="429.60" y="473.90" width="10.50" height="10.52" fill="#262432"/><rect x="439.60" y="473.90" width="10.50" height="10.52" fill="#3a59aa"/><rect x="449.60" y="473.90" width="10.50" height="10.52" fill="#1a1a18"/><rect x="459.60" y="473.90" width="10.00" height="10.52" fill="#f2e232"/><rect x="349.60" y="483.92" width="10.50" height="10.52" fill="#8a8334"/><rect x="359.60" y="483.92" width="10.50" height="10.52" fill="#8a8334"/><rect x="369.60" y="483.92" width="10.50" height="10.52" fill="#565128"/><rect x="379.60" y="483.92" width="10.50" height="10.52" fill="#565128"/><rect x="389.60" y="483.92" width="10.50" height="10.52" fill="#565128"/><rect x="399.60" y="483.92" width="10.50" height="10.52" fill="#6a642d"/><rect x="409.60" y="483.92" width="10.50" height="10.52" fill="#2e2c1e"/><rect x="419.60" y="483.92" width="10.50" height="10.52" fill="#565128"/><rect x="429.60" y="483.92" width="10.50" height="10.52" fill="#3b52a0"/><rect x="439.60" y="483.92" width="10.50" height="10.52" fill="#3b52a0"/><rect x="449.60" y="483.92" width="10.50" height="10.52" fill="#3d417f"/><rect x="459.60" y="483.92" width="10.00" height="10.52" fill="#3a5caf"/><rect x="349.60" y="493.94" width="10.50" height="10.52" fill="#bcb13a"/><rect x="359.60" y="493.94" width="10.50" height="10.52" fill="#a39a37"/><rect x="369.60" y="493.94" width="10.50" height="10.52" fill="#1a1a18"/><rect x="379.60" y="493.94" width="10.50" height="10.52" fill="#565128"/><rect x="389.60" y="493.94" width="10.50" height="10.52" fill="#1a1a18"/><rect x="399.60" y="493.94" width="10.50" height="10.52" fill="#bcb13a"/><rect x="409.60" y="493.94" width="10.50" height="10.52" fill="#565128"/><rect x="419.60" y="493.94" width="10.50" height="10.52" fill="#312d4d"/><rect x="429.60" y="493.94" width="10.50" height="10.52" fill="#3a59aa"/><rect x="439.60" y="493.94" width="10.50" height="10.52" fill="#3b55a5"/><rect x="449.60" y="493.94" width="10.50" height="10.52" fill="#383620"/><rect x="459.60" y="493.94" width="10.00" height="10.52" fill="#3a59aa"/><rect x="349.60" y="503.96" width="10.50" height="10.52" fill="#a39a37"/><rect x="359.60" y="503.96" width="10.50" height="10.52" fill="#a39a37"/><rect x="369.60" y="503.96" width="10.50" height="10.52" fill="#c7bb38"/><rect x="379.60" y="503.96" width="10.50" height="10.52" fill="#605b2b"/><rect x="389.60" y="503.96" width="10.50" height="10.52" fill="#3e3a70"/><rect x="399.60" y="503.96" width="10.50" height="10.52" fill="#565128"/><rect x="409.60" y="503.96" width="10.50" height="10.52" fill="#6a642d"/><rect x="419.60" y="503.96" width="10.50" height="10.52" fill="#2e2a44"/><rect x="429.60" y="503.96" width="10.50" height="10.52" fill="#3b55a5"/><rect x="439.60" y="503.96" width="10.50" height="10.52" fill="#3c488e"/><rect x="449.60" y="503.96" width="10.50" height="10.52" fill="#312d4d"/><rect x="459.60" y="503.96" width="10.00" height="10.52" fill="#3b55a5"/><rect x="349.60" y="513.98" width="10.50" height="10.52" fill="#bcb13a"/><rect x="359.60" y="513.98" width="10.50" height="10.52" fill="#b0a538"/><rect x="369.60" y="513.98" width="10.50" height="10.52" fill="#bcb13a"/><rect x="379.60" y="513.98" width="10.50" height="10.52" fill="#bcb13a"/><rect x="389.60" y="513.98" width="10.50" height="10.52" fill="#2a273b"/><rect x="399.60" y="513.98" width="10.50" height="10.52" fill="#1a1a18"/><rect x="409.60" y="513.98" width="10.50" height="10.52" fill="#1a1a18"/><rect x="419.60" y="513.98" width="10.50" height="10.52" fill="#2a273b"/><rect x="429.60" y="513.98" width="10.50" height="10.52" fill="#3b55a5"/><rect x="439.60" y="513.98" width="10.50" height="10.52" fill="#3c4b96"/><rect x="449.60" y="513.98" width="10.50" height="10.52" fill="#3e3a70"/><rect x="459.60" y="513.98" width="10.00" height="10.52" fill="#3d417f"/><rect x="349.60" y="524.00" width="10.50" height="10.52" fill="#6a642d"/><rect x="359.60" y="524.00" width="10.50" height="10.52" fill="#6a642d"/><rect x="369.60" y="524.00" width="10.50" height="10.52" fill="#8a8334"/><rect x="379.60" y="524.00" width="10.50" height="10.52" fill="#8a8334"/><rect x="389.60" y="524.00" width="10.50" height="10.52" fill="#1a1a18"/><rect x="399.60" y="524.00" width="10.50" height="10.52" fill="#383620"/><rect x="409.60" y="524.00" width="10.50" height="10.52" fill="#6a642d"/><rect x="419.60" y="524.00" width="10.50" height="10.52" fill="#24231b"/><rect x="429.60" y="524.00" width="10.50" height="10.52" fill="#3b55a5"/><rect x="439.60" y="524.00" width="10.50" height="10.52" fill="#3b52a0"/><rect x="449.60" y="524.00" width="10.50" height="10.52" fill="#312d4d"/><rect x="459.60" y="524.00" width="10.00" height="10.52" fill="#1a1a18"/><rect x="349.60" y="534.02" width="10.50" height="10.52" fill="#d2c537"/><rect x="359.60" y="534.02" width="10.50" height="10.52" fill="#c7bb38"/><rect x="369.60" y="534.02" width="10.50" height="10.52" fill="#978e35"/><rect x="379.60" y="534.02" width="10.50" height="10.52" fill="#978e35"/><rect x="389.60" y="534.02" width="10.50" height="10.52" fill="#3b3767"/><rect x="399.60" y="534.02" width="10.50" height="10.52" fill="#2a273b"/><rect x="409.60" y="534.02" width="10.50" height="10.52" fill="#343056"/><rect x="419.60" y="534.02" width="10.50" height="10.52" fill="#38345e"/><rect x="429.60" y="534.02" width="10.50" height="10.52" fill="#3b3767"/><rect x="439.60" y="534.02" width="10.50" height="10.52" fill="#3d417f"/><rect x="449.60" y="534.02" width="10.50" height="10.52" fill="#38345e"/><rect x="459.60" y="534.02" width="10.00" height="10.52" fill="#3b55a5"/><rect x="349.60" y="544.04" width="10.50" height="10.52" fill="#e7d834"/><rect x="359.60" y="544.04" width="10.50" height="10.52" fill="#a39a37"/><rect x="369.60" y="544.04" width="10.50" height="10.52" fill="#a39a37"/><rect x="379.60" y="544.04" width="10.50" height="10.52" fill="#8a8334"/><rect x="389.60" y="544.04" width="10.50" height="10.52" fill="#312d4d"/><rect x="399.60" y="544.04" width="10.50" height="10.52" fill="#24231b"/><rect x="409.60" y="544.04" width="10.50" height="10.52" fill="#312d4d"/><rect x="419.60" y="544.04" width="10.50" height="10.52" fill="#2a273b"/><rect x="429.60" y="544.04" width="10.50" height="10.52" fill="#312d4d"/><rect x="439.60" y="544.04" width="10.50" height="10.52" fill="#3e3d78"/><rect x="449.60" y="544.04" width="10.50" height="10.52" fill="#3e3a70"/><rect x="459.60" y="544.04" width="10.00" height="10.52" fill="#3b55a5"/><rect x="349.60" y="554.06" width="10.50" height="10.52" fill="#c7bb38"/><rect x="359.60" y="554.06" width="10.50" height="10.52" fill="#bcb13a"/><rect x="369.60" y="554.06" width="10.50" height="10.52" fill="#978e35"/><rect x="379.60" y="554.06" width="10.50" height="10.52" fill="#978e35"/><rect x="389.60" y="554.06" width="10.50" height="10.52" fill="#3e3a70"/><rect x="399.60" y="554.06" width="10.50" height="10.52" fill="#2e2a44"/><rect x="409.60" y="554.06" width="10.50" height="10.52" fill="#2e2a44"/><rect x="419.60" y="554.06" width="10.50" height="10.52" fill="#3d417f"/><rect x="429.60" y="554.06" width="10.50" height="10.52" fill="#2a273b"/><rect x="439.60" y="554.06" width="10.50" height="10.52" fill="#1a1a18"/><rect x="449.60" y="554.06" width="10.50" height="10.52" fill="#38345e"/><rect x="459.60" y="554.06" width="10.00" height="10.52" fill="#3b55a5"/><rect x="349.60" y="564.08" width="10.50" height="10.52" fill="#a39a37"/><rect x="359.60" y="564.08" width="10.50" height="10.52" fill="#565128"/><rect x="369.60" y="564.08" width="10.50" height="10.52" fill="#f2e232"/><rect x="379.60" y="564.08" width="10.50" height="10.52" fill="#746e30"/><rect x="389.60" y="564.08" width="10.50" height="10.52" fill="#2e2c1e"/><rect x="399.60" y="564.08" width="10.50" height="10.52" fill="#312d4d"/><rect x="409.60" y="564.08" width="10.50" height="10.52" fill="#3b55a5"/><rect x="419.60" y="564.08" width="10.50" height="10.52" fill="#3b52a0"/><rect x="429.60" y="564.08" width="10.50" height="10.52" fill="#2a273b"/><rect x="439.60" y="564.08" width="10.50" height="10.52" fill="#1a1a18"/><rect x="449.60" y="564.08" width="10.50" height="10.52" fill="#3e3a70"/><rect x="459.60" y="564.08" width="10.00" height="10.52" fill="#1a1a18"/><rect x="349.60" y="574.10" width="10.50" height="10.52" fill="#383620"/><rect x="359.60" y="574.10" width="10.50" height="10.52" fill="#1a1a18"/><rect x="369.60" y="574.10" width="10.50" height="10.52" fill="#2a273b"/><rect x="379.60" y="574.10" width="10.50" height="10.52" fill="#7e7732"/><rect x="389.60" y="574.10" width="10.50" height="10.52" fill="#262432"/><rect x="399.60" y="574.10" width="10.50" height="10.52" fill="#dcce35"/><rect x="409.60" y="574.10" width="10.50" height="10.52" fill="#3e3a70"/><rect x="419.60" y="574.10" width="10.50" height="10.52" fill="#423f23"/><rect x="429.60" y="574.10" width="10.50" height="10.52" fill="#383620"/><rect x="439.60" y="574.10" width="10.50" height="10.52" fill="#24231b"/><rect x="449.60" y="574.10" width="10.50" height="10.52" fill="#24231b"/><rect x="459.60" y="574.10" width="10.00" height="10.52" fill="#3b55a5"/><rect x="349.60" y="584.12" width="10.50" height="10.52" fill="#3e3a70"/><rect x="359.60" y="584.12" width="10.50" height="10.52" fill="#3b55a5"/><rect x="369.60" y="584.12" width="10.50" height="10.52" fill="#3b55a5"/><rect x="379.60" y="584.12" width="10.50" height="10.52" fill="#565128"/><rect x="389.60" y="584.12" width="10.50" height="10.52" fill="#383620"/><rect x="399.60" y="584.12" width="10.50" height="10.52" fill="#c7bb38"/><rect x="409.60" y="584.12" width="10.50" height="10.52" fill="#c7bb38"/><rect x="419.60" y="584.12" width="10.50" height="10.52" fill="#8a8334"/><rect x="429.60" y="584.12" width="10.50" height="10.52" fill="#3e3a70"/><rect x="439.60" y="584.12" width="10.50" height="10.52" fill="#24231b"/><rect x="449.60" y="584.12" width="10.50" height="10.52" fill="#383620"/><rect x="459.60" y="584.12" width="10.00" height="10.52" fill="#2a273b"/><rect x="349.60" y="594.14" width="10.50" height="10.52" fill="#3b3767"/><rect x="359.60" y="594.14" width="10.50" height="10.52" fill="#3d417f"/><rect x="369.60" y="594.14" width="10.50" height="10.52" fill="#3c4e9b"/><rect x="379.60" y="594.14" width="10.50" height="10.52" fill="#565128"/><rect x="389.60" y="594.14" width="10.50" height="10.52" fill="#4c4826"/><rect x="399.60" y="594.14" width="10.50" height="10.52" fill="#bcb13a"/><rect x="409.60" y="594.14" width="10.50" height="10.52" fill="#d2c537"/><rect x="419.60" y="594.14" width="10.50" height="10.52" fill="#bcb13a"/><rect x="429.60" y="594.14" width="10.50" height="10.52" fill="#3b55a5"/><rect x="439.60" y="594.14" width="10.50" height="10.52" fill="#3e3a70"/><rect x="449.60" y="594.14" width="10.50" height="10.52" fill="#2e2a44"/><rect x="459.60" y="594.14" width="10.00" height="10.52" fill="#312d4d"/><rect x="349.60" y="604.16" width="10.50" height="10.52" fill="#24231b"/><rect x="359.60" y="604.16" width="10.50" height="10.52" fill="#3e3a70"/><rect x="369.60" y="604.16" width="10.50" height="10.52" fill="#3b52a0"/><rect x="379.60" y="604.16" width="10.50" height="10.52" fill="#565128"/><rect x="389.60" y="604.16" width="10.50" height="10.52" fill="#4c4826"/><rect x="399.60" y="604.16" width="10.50" height="10.52" fill="#c7bb38"/><rect x="409.60" y="604.16" width="10.50" height="10.52" fill="#c7bb38"/><rect x="419.60" y="604.16" width="10.50" height="10.52" fill="#746e30"/><rect x="429.60" y="604.16" width="10.50" height="10.52" fill="#3b55a5"/><rect x="439.60" y="604.16" width="10.50" height="10.52" fill="#423f23"/><rect x="449.60" y="604.16" width="10.50" height="10.52" fill="#24231b"/><rect x="459.60" y="604.16" width="10.00" height="10.52" fill="#3b55a5"/><rect x="349.60" y="614.18" width="10.50" height="10.52" fill="#2a273b"/><rect x="359.60" y="614.18" width="10.50" height="10.52" fill="#3b52a0"/><rect x="369.60" y="614.18" width="10.50" height="10.52" fill="#3b55a5"/><rect x="379.60" y="614.18" width="10.50" height="10.52" fill="#423f23"/><rect x="389.60" y="614.18" width="10.50" height="10.52" fill="#565128"/><rect x="399.60" y="614.18" width="10.50" height="10.52" fill="#dcce35"/><rect x="409.60" y="614.18" width="10.50" height="10.52" fill="#bcb13a"/><rect x="419.60" y="614.18" width="10.50" height="10.52" fill="#978e35"/><rect x="429.60" y="614.18" width="10.50" height="10.52" fill="#3d417f"/><rect x="439.60" y="614.18" width="10.50" height="10.52" fill="#1a1a18"/><rect x="449.60" y="614.18" width="10.50" height="10.52" fill="#1a1a18"/><rect x="459.60" y="614.18" width="10.00" height="10.52" fill="#3c4b96"/><rect x="349.60" y="624.20" width="10.50" height="10.52" fill="#2a273b"/><rect x="359.60" y="624.20" width="10.50" height="10.52" fill="#3b55a5"/><rect x="369.60" y="624.20" width="10.50" height="10.52" fill="#3b52a0"/><rect x="379.60" y="624.20" width="10.50" height="10.52" fill="#383620"/><rect x="389.60" y="624.20" width="10.50" height="10.52" fill="#8a8334"/><rect x="399.60" y="624.20" width="10.50" height="10.52" fill="#978e35"/><rect x="409.60" y="624.20" width="10.50" height="10.52" fill="#605b2b"/><rect x="419.60" y="624.20" width="10.50" height="10.52" fill="#6a642d"/><rect x="429.60" y="624.20" width="10.50" height="10.52" fill="#38345e"/><rect x="439.60" y="624.20" width="10.50" height="10.52" fill="#38345e"/><rect x="449.60" y="624.20" width="10.50" height="10.52" fill="#605b2b"/><rect x="459.60" y="624.20" width="10.00" height="10.52" fill="#24231b"/><rect x="349.60" y="634.22" width="10.50" height="10.52" fill="#2e2a44"/><rect x="359.60" y="634.22" width="10.50" height="10.52" fill="#3b55a5"/><rect x="369.60" y="634.22" width="10.50" height="10.52" fill="#312d4d"/><rect x="379.60" y="634.22" width="10.50" height="10.52" fill="#38345e"/><rect x="389.60" y="634.22" width="10.50" height="10.52" fill="#8a8334"/><rect x="399.60" y="634.22" width="10.50" height="10.52" fill="#f2e232"/><rect x="409.60" y="634.22" width="10.50" height="10.52" fill="#605b2b"/><rect x="419.60" y="634.22" width="10.50" height="10.52" fill="#7e7732"/><rect x="429.60" y="634.22" width="10.50" height="10.52" fill="#3d417f"/><rect x="439.60" y="634.22" width="10.50" height="10.52" fill="#3d417f"/><rect x="449.60" y="634.22" width="10.50" height="10.52" fill="#383620"/><rect x="459.60" y="634.22" width="10.00" height="10.52" fill="#3d417f"/><rect x="349.60" y="644.24" width="10.50" height="10.52" fill="#3b55a5"/><rect x="359.60" y="644.24" width="10.50" height="10.52" fill="#3b55a5"/><rect x="369.60" y="644.24" width="10.50" height="10.52" fill="#3b52a0"/><rect x="379.60" y="644.24" width="10.50" height="10.52" fill="#2a273b"/><rect x="389.60" y="644.24" width="10.50" height="10.52" fill="#6a642d"/><rect x="399.60" y="644.24" width="10.50" height="10.52" fill="#bcb13a"/><rect x="409.60" y="644.24" width="10.50" height="10.52" fill="#978e35"/><rect x="419.60" y="644.24" width="10.50" height="10.52" fill="#978e35"/><rect x="429.60" y="644.24" width="10.50" height="10.52" fill="#38345e"/><rect x="439.60" y="644.24" width="10.50" height="10.52" fill="#38345e"/><rect x="449.60" y="644.24" width="10.50" height="10.52" fill="#1a1a18"/><rect x="459.60" y="644.24" width="10.00" height="10.52" fill="#605b2b"/><rect x="349.60" y="654.26" width="10.50" height="10.52" fill="#3b52a0"/><rect x="359.60" y="654.26" width="10.50" height="10.52" fill="#3b52a0"/><rect x="369.60" y="654.26" width="10.50" height="10.52" fill="#3d417f"/><rect x="379.60" y="654.26" width="10.50" height="10.52" fill="#2a273b"/><rect x="389.60" y="654.26" width="10.50" height="10.52" fill="#605b2b"/><rect x="399.60" y="654.26" width="10.50" height="10.52" fill="#a39a37"/><rect x="409.60" y="654.26" width="10.50" height="10.52" fill="#bcb13a"/><rect x="419.60" y="654.26" width="10.50" height="10.52" fill="#bcb13a"/><rect x="429.60" y="654.26" width="10.50" height="10.52" fill="#3c488e"/><rect x="439.60" y="654.26" width="10.50" height="10.52" fill="#3e3a70"/><rect x="449.60" y="654.26" width="10.50" height="10.52" fill="#1a1a18"/><rect x="459.60" y="654.26" width="10.00" height="10.52" fill="#605b2b"/><rect x="349.60" y="664.28" width="10.50" height="10.52" fill="#3d417f"/><rect x="359.60" y="664.28" width="10.50" height="10.52" fill="#3e3a70"/><rect x="369.60" y="664.28" width="10.50" height="10.52" fill="#3c4e9b"/><rect x="379.60" y="664.28" width="10.50" height="10.52" fill="#565128"/><rect x="389.60" y="664.28" width="10.50" height="10.52" fill="#605b2b"/><rect x="399.60" y="664.28" width="10.50" height="10.52" fill="#a39a37"/><rect x="409.60" y="664.28" width="10.50" height="10.52" fill="#bcb13a"/><rect x="419.60" y="664.28" width="10.50" height="10.52" fill="#bcb13a"/><rect x="429.60" y="664.28" width="10.50" height="10.52" fill="#38345e"/><rect x="439.60" y="664.28" width="10.50" height="10.52" fill="#3b55a5"/><rect x="449.60" y="664.28" width="10.50" height="10.52" fill="#343056"/><rect x="459.60" y="664.28" width="10.00" height="10.52" fill="#4c4826"/><rect x="349.60" y="674.30" width="10.50" height="10.52" fill="#3c488e"/><rect x="359.60" y="674.30" width="10.50" height="10.52" fill="#3c4e9b"/><rect x="369.60" y="674.30" width="10.50" height="10.52" fill="#3d417f"/><rect x="379.60" y="674.30" width="10.50" height="10.52" fill="#38345e"/><rect x="389.60" y="674.30" width="10.50" height="10.52" fill="#c7bb38"/><rect x="399.60" y="674.30" width="10.50" height="10.52" fill="#978e35"/><rect x="409.60" y="674.30" width="10.50" height="10.52" fill="#605b2b"/><rect x="419.60" y="674.30" width="10.50" height="10.52" fill="#bcb13a"/><rect x="429.60" y="674.30" width="10.50" height="10.52" fill="#38345e"/><rect x="439.60" y="674.30" width="10.50" height="10.52" fill="#24231b"/><rect x="449.60" y="674.30" width="10.50" height="10.52" fill="#2e2c1e"/><rect x="459.60" y="674.30" width="10.00" height="10.52" fill="#1a1a18"/><rect x="349.60" y="684.32" width="10.50" height="10.52" fill="#3b52a0"/><rect x="359.60" y="684.32" width="10.50" height="10.52" fill="#3c4e9b"/><rect x="369.60" y="684.32" width="10.50" height="10.52" fill="#3b52a0"/><rect x="379.60" y="684.32" width="10.50" height="10.52" fill="#24231b"/><rect x="389.60" y="684.32" width="10.50" height="10.52" fill="#565128"/><rect x="399.60" y="684.32" width="10.50" height="10.52" fill="#6a642d"/><rect x="409.60" y="684.32" width="10.50" height="10.52" fill="#978e35"/><rect x="419.60" y="684.32" width="10.50" height="10.52" fill="#746e30"/><rect x="429.60" y="684.32" width="10.50" height="10.52" fill="#1a1a18"/><rect x="439.60" y="684.32" width="10.50" height="10.52" fill="#565128"/><rect x="449.60" y="684.32" width="10.50" height="10.52" fill="#383620"/><rect x="459.60" y="684.32" width="10.00" height="10.52" fill="#8a8334"/><rect x="349.60" y="694.34" width="10.50" height="10.52" fill="#3b52a0"/><rect x="359.60" y="694.34" width="10.50" height="10.52" fill="#3b52a0"/><rect x="369.60" y="694.34" width="10.50" height="10.52" fill="#3b55a5"/><rect x="379.60" y="694.34" width="10.50" height="10.52" fill="#2a273b"/><rect x="389.60" y="694.34" width="10.50" height="10.52" fill="#565128"/><rect x="399.60" y="694.34" width="10.50" height="10.52" fill="#6a642d"/><rect x="409.60" y="694.34" width="10.50" height="10.52" fill="#978e35"/><rect x="419.60" y="694.34" width="10.50" height="10.52" fill="#6a642d"/><rect x="429.60" y="694.34" width="10.50" height="10.52" fill="#1a1a18"/><rect x="439.60" y="694.34" width="10.50" height="10.52" fill="#565128"/><rect x="449.60" y="694.34" width="10.50" height="10.52" fill="#383620"/><rect x="459.60" y="694.34" width="10.00" height="10.52" fill="#8a8334"/><rect x="349.60" y="704.36" width="10.50" height="10.52" fill="#3b55a5"/><rect x="359.60" y="704.36" width="10.50" height="10.52" fill="#3b55a5"/><rect x="369.60" y="704.36" width="10.50" height="10.52" fill="#3b55a5"/><rect x="379.60" y="704.36" width="10.50" height="10.52" fill="#312d4d"/><rect x="389.60" y="704.36" width="10.50" height="10.52" fill="#6a642d"/><rect x="399.60" y="704.36" width="10.50" height="10.52" fill="#7e7732"/><rect x="409.60" y="704.36" width="10.50" height="10.52" fill="#7e7732"/><rect x="419.60" y="704.36" width="10.50" height="10.52" fill="#423f23"/><rect x="429.60" y="704.36" width="10.50" height="10.52" fill="#1a1a18"/><rect x="439.60" y="704.36" width="10.50" height="10.52" fill="#2a273b"/><rect x="449.60" y="704.36" width="10.50" height="10.52" fill="#383620"/><rect x="459.60" y="704.36" width="10.00" height="10.52" fill="#c7bb38"/><rect x="349.60" y="714.38" width="10.50" height="10.52" fill="#3b55a5"/><rect x="359.60" y="714.38" width="10.50" height="10.52" fill="#3b55a5"/><rect x="369.60" y="714.38" width="10.50" height="10.52" fill="#3b55a5"/><rect x="379.60" y="714.38" width="10.50" height="10.52" fill="#1a1a18"/><rect x="389.60" y="714.38" width="10.50" height="10.52" fill="#4c4826"/><rect x="399.60" y="714.38" width="10.50" height="10.52" fill="#b0a538"/><rect x="409.60" y="714.38" width="10.50" height="10.52" fill="#978e35"/><rect x="419.60" y="714.38" width="10.50" height="10.52" fill="#978e35"/><rect x="429.60" y="714.38" width="10.50" height="10.52" fill="#2e2a44"/><rect x="439.60" y="714.38" width="10.50" height="10.52" fill="#383620"/><rect x="449.60" y="714.38" width="10.50" height="10.52" fill="#565128"/><rect x="459.60" y="714.38" width="10.00" height="10.52" fill="#4c4826"/><rect x="349.60" y="724.40" width="10.50" height="10.52" fill="#3b52a0"/><rect x="359.60" y="724.40" width="10.50" height="10.52" fill="#3b55a5"/><rect x="369.60" y="724.40" width="10.50" height="10.52" fill="#3c4e9b"/><rect x="379.60" y="724.40" width="10.50" height="10.52" fill="#2a273b"/><rect x="389.60" y="724.40" width="10.50" height="10.52" fill="#423f23"/><rect x="399.60" y="724.40" width="10.50" height="10.52" fill="#bcb13a"/><rect x="409.60" y="724.40" width="10.50" height="10.52" fill="#978e35"/><rect x="419.60" y="724.40" width="10.50" height="10.52" fill="#8a8334"/><rect x="429.60" y="724.40" width="10.50" height="10.52" fill="#2e2a44"/><rect x="439.60" y="724.40" width="10.50" height="10.52" fill="#383620"/><rect x="449.60" y="724.40" width="10.50" height="10.52" fill="#6a642d"/><rect x="459.60" y="724.40" width="10.00" height="10.52" fill="#565128"/><rect x="349.60" y="734.42" width="10.50" height="10.52" fill="#3b52a0"/><rect x="359.60" y="734.42" width="10.50" height="10.52" fill="#3b52a0"/><rect x="369.60" y="734.42" width="10.50" height="10.52" fill="#3d417f"/><rect x="379.60" y="734.42" width="10.50" height="10.52" fill="#3e3a70"/><rect x="389.60" y="734.42" width="10.50" height="10.52" fill="#4c4826"/><rect x="399.60" y="734.42" width="10.50" height="10.52" fill="#423f23"/><rect x="409.60" y="734.42" width="10.50" height="10.52" fill="#7e7732"/><rect x="419.60" y="734.42" width="10.50" height="10.52" fill="#383620"/><rect x="429.60" y="734.42" width="10.50" height="10.52" fill="#2e2a44"/><rect x="439.60" y="734.42" width="10.50" height="10.52" fill="#2e2c1e"/><rect x="449.60" y="734.42" width="10.50" height="10.52" fill="#605b2b"/><rect x="459.60" y="734.42" width="10.00" height="10.52" fill="#f2e232"/><rect x="349.60" y="744.44" width="10.50" height="10.52" fill="#3c488e"/><rect x="359.60" y="744.44" width="10.50" height="10.52" fill="#3c4e9b"/><rect x="369.60" y="744.44" width="10.50" height="10.52" fill="#312d4d"/><rect x="379.60" y="744.44" width="10.50" height="10.52" fill="#3b55a5"/><rect x="389.60" y="744.44" width="10.50" height="10.52" fill="#c7bb38"/><rect x="399.60" y="744.44" width="10.50" height="10.52" fill="#6a642d"/><rect x="409.60" y="744.44" width="10.50" height="10.52" fill="#1a1a18"/><rect x="419.60" y="744.44" width="10.50" height="10.52" fill="#4c4826"/><rect x="429.60" y="744.44" width="10.50" height="10.52" fill="#383620"/><rect x="439.60" y="744.44" width="10.50" height="10.52" fill="#383620"/><rect x="449.60" y="744.44" width="10.50" height="10.52" fill="#565128"/><rect x="459.60" y="744.44" width="10.00" height="10.52" fill="#a39a37"/><rect x="349.60" y="754.46" width="10.50" height="10.52" fill="#2a273b"/><rect x="359.60" y="754.46" width="10.50" height="10.52" fill="#38345e"/><rect x="369.60" y="754.46" width="10.50" height="10.52" fill="#38345e"/><rect x="379.60" y="754.46" width="10.50" height="10.52" fill="#38345e"/><rect x="389.60" y="754.46" width="10.50" height="10.52" fill="#7e7732"/><rect x="399.60" y="754.46" width="10.50" height="10.52" fill="#b0a538"/><rect x="409.60" y="754.46" width="10.50" height="10.52" fill="#3b55a5"/><rect x="419.60" y="754.46" width="10.50" height="10.52" fill="#3b55a5"/><rect x="429.60" y="754.46" width="10.50" height="10.52" fill="#c7bb38"/><rect x="439.60" y="754.46" width="10.50" height="10.52" fill="#bcb13a"/><rect x="449.60" y="754.46" width="10.50" height="10.52" fill="#24231b"/><rect x="459.60" y="754.46" width="10.00" height="10.52" fill="#312d4d"/><rect x="349.60" y="764.48" width="10.50" height="10.52" fill="#3c4e9b"/><rect x="359.60" y="764.48" width="10.50" height="10.52" fill="#3d4487"/><rect x="369.60" y="764.48" width="10.50" height="10.52" fill="#3c4e9b"/><rect x="379.60" y="764.48" width="10.50" height="10.52" fill="#38345e"/><rect x="389.60" y="764.48" width="10.50" height="10.52" fill="#24231b"/><rect x="399.60" y="764.48" width="10.50" height="10.52" fill="#1a1a18"/><rect x="409.60" y="764.48" width="10.50" height="10.52" fill="#1a1a18"/><rect x="419.60" y="764.48" width="10.50" height="10.52" fill="#4c4826"/><rect x="429.60" y="764.48" width="10.50" height="10.52" fill="#bcb13a"/><rect x="439.60" y="764.48" width="10.50" height="10.52" fill="#978e35"/><rect x="449.60" y="764.48" width="10.50" height="10.52" fill="#565128"/><rect x="459.60" y="764.48" width="10.00" height="10.52" fill="#7e7732"/><rect x="349.60" y="774.50" width="10.50" height="10.52" fill="#2e2a44"/><rect x="359.60" y="774.50" width="10.50" height="10.52" fill="#383620"/><rect x="369.60" y="774.50" width="10.50" height="10.52" fill="#3b3767"/><rect x="379.60" y="774.50" width="10.50" height="10.52" fill="#2e2c1e"/><rect x="389.60" y="774.50" width="10.50" height="10.52" fill="#3c4e9b"/><rect x="399.60" y="774.50" width="10.50" height="10.52" fill="#3e3a70"/><rect x="409.60" y="774.50" width="10.50" height="10.52" fill="#312d4d"/><rect x="419.60" y="774.50" width="10.50" height="10.52" fill="#3d417f"/><rect x="429.60" y="774.50" width="10.50" height="10.52" fill="#f2e232"/><rect x="439.60" y="774.50" width="10.50" height="10.52" fill="#978e35"/><rect x="449.60" y="774.50" width="10.50" height="10.52" fill="#4c4826"/><rect x="459.60" y="774.50" width="10.00" height="10.52" fill="#6a642d"/><rect x="349.60" y="784.52" width="10.50" height="10.02" fill="#423f23"/><rect x="359.60" y="784.52" width="10.50" height="10.02" fill="#4c4826"/><rect x="369.60" y="784.52" width="10.50" height="10.02" fill="#38345e"/><rect x="379.60" y="784.52" width="10.50" height="10.02" fill="#1a1a18"/><rect x="389.60" y="784.52" width="10.50" height="10.02" fill="#3c4b96"/><rect x="399.60" y="784.52" width="10.50" height="10.02" fill="#3d417f"/><rect x="409.60" y="784.52" width="10.50" height="10.02" fill="#3e3a70"/><rect x="419.60" y="784.52" width="10.50" height="10.02" fill="#3b52a0"/><rect x="429.60" y="784.52" width="10.50" height="10.02" fill="#c7bb38"/><rect x="439.60" y="784.52" width="10.50" height="10.02" fill="#c7bb38"/><rect x="449.60" y="784.52" width="10.50" height="10.02" fill="#6a642d"/><rect x="459.60" y="784.52" width="10.00" height="10.02" fill="#24231b"/></g><text x="473.7" y="431.40" font-size="8.8" fill="#1a1a1a" transform="translate(473.7 0) scale(0.84 1) translate(-473.7 0)">NCR1</text><text x="473.7" y="441.42" font-size="8.8" fill="#1a1a1a" transform="translate(473.7 0) scale(0.84 1) translate(-473.7 0)">CD96</text><text x="473.7" y="451.44" font-size="8.8" fill="#1a1a1a" transform="translate(473.7 0) scale(0.84 1) translate(-473.7 0)">TBX21</text><text x="473.7" y="461.46" font-size="8.8" fill="#1a1a1a" transform="translate(473.7 0) scale(0.84 1) translate(-473.7 0)">ITGAM</text><text x="473.7" y="471.48" font-size="8.8" fill="#1a1a1a" transform="translate(473.7 0) scale(0.84 1) translate(-473.7 0)">KLRK1</text><text x="473.7" y="481.50" font-size="8.8" fill="#1a1a1a" transform="translate(473.7 0) scale(0.84 1) translate(-473.7 0)">DAP10</text><text x="473.7" y="491.52" font-size="8.8" fill="#1a1a1a" transform="translate(473.7 0) scale(0.84 1) translate(-473.7 0)">CD226</text><text x="473.7" y="501.54" font-size="8.8" fill="#1a1a1a" transform="translate(473.7 0) scale(0.84 1) translate(-473.7 0)">KLRB1</text><text x="473.7" y="511.56" font-size="8.8" fill="#1a1a1a" transform="translate(473.7 0) scale(0.84 1) translate(-473.7 0)">KIR2DL4</text><text x="473.7" y="521.58" font-size="8.8" fill="#1a1a1a" transform="translate(473.7 0) scale(0.84 1) translate(-473.7 0)">NCAM1</text><text x="473.7" y="531.60" font-size="8.8" fill="#1a1a1a" transform="translate(473.7 0) scale(0.84 1) translate(-473.7 0)">NKP80</text><text x="473.7" y="541.62" font-size="8.8" fill="#1a1a1a" transform="translate(473.7 0) scale(0.84 1) translate(-473.7 0)">IL7R</text><text x="473.7" y="551.64" font-size="8.8" fill="#1a1a1a" transform="translate(473.7 0) scale(0.84 1) translate(-473.7 0)">CD100</text><text x="473.7" y="561.66" font-size="8.8" fill="#1a1a1a" transform="translate(473.7 0) scale(0.84 1) translate(-473.7 0)">KIT</text><text x="473.7" y="571.68" font-size="8.8" fill="#1a1a1a" transform="translate(473.7 0) scale(0.84 1) translate(-473.7 0)">CRTAM</text><text x="473.7" y="581.70" font-size="8.8" fill="#1a1a1a" transform="translate(473.7 0) scale(0.84 1) translate(-473.7 0)">LAIR1</text><text x="473.7" y="591.72" font-size="8.8" fill="#1a1a1a" transform="translate(473.7 0) scale(0.84 1) translate(-473.7 0)">KIR2DS4</text><text x="473.7" y="601.74" font-size="8.8" fill="#1a1a1a" transform="translate(473.7 0) scale(0.84 1) translate(-473.7 0)">KIR2DL3</text><text x="473.7" y="611.76" font-size="8.8" fill="#1a1a1a" transform="translate(473.7 0) scale(0.84 1) translate(-473.7 0)">KIR3DL1</text><text x="473.7" y="621.78" font-size="8.8" fill="#1a1a1a" transform="translate(473.7 0) scale(0.84 1) translate(-473.7 0)">KIR2DL1</text><text x="473.7" y="631.80" font-size="8.8" fill="#1a1a1a" transform="translate(473.7 0) scale(0.84 1) translate(-473.7 0)">BNIP3</text><text x="473.7" y="641.82" font-size="8.8" fill="#1a1a1a" transform="translate(473.7 0) scale(0.84 1) translate(-473.7 0)">KIR3DL3</text><text x="473.7" y="651.84" font-size="8.8" fill="#1a1a1a" transform="translate(473.7 0) scale(0.84 1) translate(-473.7 0)">GZMB</text><text x="473.7" y="661.86" font-size="8.8" fill="#1a1a1a" transform="translate(473.7 0) scale(0.84 1) translate(-473.7 0)">ITGAL</text><text x="473.7" y="671.88" font-size="8.8" fill="#1a1a1a" transform="translate(473.7 0) scale(0.84 1) translate(-473.7 0)">KIR3DL2</text><text x="473.7" y="681.90" font-size="8.8" fill="#1a1a1a" transform="translate(473.7 0) scale(0.84 1) translate(-473.7 0)">KLRG1</text><text x="473.7" y="691.92" font-size="8.8" fill="#1a1a1a" transform="translate(473.7 0) scale(0.84 1) translate(-473.7 0)">FCGR3A</text><text x="473.7" y="701.94" font-size="8.8" fill="#1a1a1a" transform="translate(473.7 0) scale(0.84 1) translate(-473.7 0)">FCGR3B</text><text x="473.7" y="711.96" font-size="8.8" fill="#1a1a1a" transform="translate(473.7 0) scale(0.84 1) translate(-473.7 0)">SLAMF6</text><text x="473.7" y="721.98" font-size="8.8" fill="#1a1a1a" transform="translate(473.7 0) scale(0.84 1) translate(-473.7 0)">FASLG</text><text x="473.7" y="732.00" font-size="8.8" fill="#1a1a1a" transform="translate(473.7 0) scale(0.84 1) translate(-473.7 0)">CD160</text><text x="473.7" y="742.02" font-size="8.8" fill="#1a1a1a" transform="translate(473.7 0) scale(0.84 1) translate(-473.7 0)">TIGIT</text><text x="473.7" y="752.04" font-size="8.8" fill="#1a1a1a" transform="translate(473.7 0) scale(0.84 1) translate(-473.7 0)">IFNG</text><text x="473.7" y="762.06" font-size="8.8" fill="#1a1a1a" transform="translate(473.7 0) scale(0.84 1) translate(-473.7 0)">TNF</text><text x="473.7" y="772.08" font-size="8.8" fill="#1a1a1a" transform="translate(473.7 0) scale(0.84 1) translate(-473.7 0)">LILRB1</text><text x="473.7" y="782.10" font-size="8.8" fill="#1a1a1a" transform="translate(473.7 0) scale(0.84 1) translate(-473.7 0)">TYROBP</text><text x="473.7" y="792.12" font-size="8.8" fill="#1a1a1a" transform="translate(473.7 0) scale(0.84 1) translate(-473.7 0)">CD33</text><path d="M349.60 428.81H342.20V438.83H349.60M342.20 433.82H335.00V448.85H349.60M335.00 441.34H328.20V458.87H349.60M328.20 450.10H320.90V468.89H349.60M320.90 459.50H313.90V478.91H349.60M349.60 488.93H342.20V498.95H349.60M349.60 508.97H342.20V518.99H349.60M342.20 513.98H335.00V529.01H349.60M342.20 493.94H328.20V521.50H335.00M349.60 539.03H342.20V549.05H349.60M342.20 544.04H335.00V559.07H349.60M328.20 507.72H320.90V551.55H335.00M320.90 529.64H313.90V569.09H349.60M313.90 469.20H306.70V549.36H313.90M306.70 509.28H299.60V579.11H349.60M349.60 589.13H342.20V599.15H349.60M349.60 609.17H342.20V619.19H349.60M342.20 594.14H335.00V614.18H342.20M335.00 604.16H328.20V629.21H349.60M328.20 616.69H320.90V639.23H349.60M349.60 649.25H342.20V659.27H349.60M342.20 654.26H335.00V669.29H349.60M335.00 661.77H328.20V679.31H349.60M349.60 689.33H342.20V699.35H349.60M342.20 694.34H335.00V709.37H349.60M349.60 719.39H342.20V729.41H349.60M335.00 701.86H328.20V724.40H342.20M328.20 713.13H320.90V739.43H349.60M328.20 670.54H313.90V726.28H320.90M313.90 698.41H306.70V749.45H349.60M320.90 627.96H299.60V723.93H306.70M349.60 759.47H342.20V769.49H349.60M349.60 779.51H342.20V789.53H349.60M342.20 764.48H335.00V784.52H342.20M299.60 675.94H292.40V774.50H335.00M299.60 544.20H285.70V725.22H292.40M280.40 634.71H285.70" fill="none" stroke="#2a2a2a" stroke-width="1.1"/><defs><linearGradient id="cb" x1="0" x2="1" y1="0" y2="0"><stop offset="0" stop-color="#3a5ab8"/><stop offset="0.25" stop-color="#34387e"/><stop offset="0.45" stop-color="#24222e"/><stop offset="0.5" stop-color="#121212"/><stop offset="0.6" stop-color="#35321a"/><stop offset="0.75" stop-color="#807a30"/><stop offset="1" stop-color="#f8e838"/></linearGradient></defs><rect x="352.40" y="799.80" width="118.40" height="7.80" fill="url(#cb)"/><line x1="352.40" y1="807.60" x2="352.40" y2="811.20" stroke="#2a2a2a" stroke-width="0.9"/><line x1="358.32" y1="807.60" x2="358.32" y2="809.60" stroke="#2a2a2a" stroke-width="0.9"/><line x1="364.24" y1="807.60" x2="364.24" y2="809.60" stroke="#2a2a2a" stroke-width="0.9"/><line x1="370.16" y1="807.60" x2="370.16" y2="809.60" stroke="#2a2a2a" stroke-width="0.9"/><line x1="376.08" y1="807.60" x2="376.08" y2="809.60" stroke="#2a2a2a" stroke-width="0.9"/><line x1="382.00" y1="807.60" x2="382.00" y2="811.20" stroke="#2a2a2a" stroke-width="0.9"/><line x1="387.92" y1="807.60" x2="387.92" y2="809.60" stroke="#2a2a2a" stroke-width="0.9"/><line x1="393.84" y1="807.60" x2="393.84" y2="809.60" stroke="#2a2a2a" stroke-width="0.9"/><line x1="399.76" y1="807.60" x2="399.76" y2="809.60" stroke="#2a2a2a" stroke-width="0.9"/><line x1="405.68" y1="807.60" x2="405.68" y2="809.60" stroke="#2a2a2a" stroke-width="0.9"/><line x1="411.60" y1="807.60" x2="411.60" y2="811.20" stroke="#2a2a2a" stroke-width="0.9"/><line x1="417.52" y1="807.60" x2="417.52" y2="809.60" stroke="#2a2a2a" stroke-width="0.9"/><line x1="423.44" y1="807.60" x2="423.44" y2="809.60" stroke="#2a2a2a" stroke-width="0.9"/><line x1="429.36" y1="807.60" x2="429.36" y2="809.60" stroke="#2a2a2a" stroke-width="0.9"/><line x1="435.28" y1="807.60" x2="435.28" y2="809.60" stroke="#2a2a2a" stroke-width="0.9"/><line x1="441.20" y1="807.60" x2="441.20" y2="811.20" stroke="#2a2a2a" stroke-width="0.9"/><line x1="447.12" y1="807.60" x2="447.12" y2="809.60" stroke="#2a2a2a" stroke-width="0.9"/><line x1="453.04" y1="807.60" x2="453.04" y2="809.60" stroke="#2a2a2a" stroke-width="0.9"/><line x1="458.96" y1="807.60" x2="458.96" y2="809.60" stroke="#2a2a2a" stroke-width="0.9"/><line x1="464.88" y1="807.60" x2="464.88" y2="809.60" stroke="#2a2a2a" stroke-width="0.9"/><line x1="470.80" y1="807.60" x2="470.80" y2="811.20" stroke="#2a2a2a" stroke-width="0.9"/><text x="352.40" y="821.60" font-size="8.8" text-anchor="middle" fill="#1a1a1a">-2</text><text x="411.60" y="821.60" font-size="8.8" text-anchor="middle" fill="#1a1a1a">0</text><text x="470.80" y="821.60" font-size="8.8" text-anchor="middle" fill="#1a1a1a">2</text><polyline points="111.68,741.30 111.68,723.50 120.04,723.50 120.04,741.30" fill="none" stroke="#2a2a2a" stroke-width="1.1"/><polyline points="115.86,723.50 115.86,706.20 128.40,706.20 128.40,741.30" fill="none" stroke="#2a2a2a" stroke-width="1.1"/><polyline points="122.13,706.20 122.13,688.40 136.76,688.40 136.76,741.30" fill="none" stroke="#2a2a2a" stroke-width="1.1"/><polyline points="145.12,741.30 145.12,723.50 153.48,723.50 153.48,741.30" fill="none" stroke="#2a2a2a" stroke-width="1.1"/><polyline points="161.84,741.30 161.84,723.50 170.20,723.50 170.20,741.30" fill="none" stroke="#2a2a2a" stroke-width="1.1"/><polyline points="149.30,723.50 149.30,706.20 166.02,706.20 166.02,723.50" fill="none" stroke="#2a2a2a" stroke-width="1.1"/><polyline points="129.44,688.40 129.44,671.10 157.66,671.10 157.66,706.20" fill="none" stroke="#2a2a2a" stroke-width="1.1"/><polyline points="178.56,741.30 178.56,723.50 186.92,723.50 186.92,741.30" fill="none" stroke="#2a2a2a" stroke-width="1.1"/><polyline points="182.74,723.50 182.74,706.20 195.28,706.20 195.28,741.30" fill="none" stroke="#2a2a2a" stroke-width="1.1"/><polyline points="189.01,706.20 189.01,688.90 203.64,688.90 203.64,741.30" fill="none" stroke="#2a2a2a" stroke-width="1.1"/><polyline points="143.55,671.10 143.55,653.60 196.32,653.60 196.32,688.90" fill="none" stroke="#2a2a2a" stroke-width="1.1"/><line x1="169.94" y1="638.50" x2="169.94" y2="653.60" stroke="#2a2a2a" stroke-width="1.1"/><rect x="109.38" y="741.30" width="4.60" height="7.60" fill="#b8283e"/><rect x="117.74" y="741.30" width="4.60" height="7.60" fill="#b8283e"/><rect x="126.10" y="741.30" width="4.60" height="7.60" fill="#b8283e"/><rect x="134.46" y="741.30" width="4.60" height="7.60" fill="#b8283e"/><rect x="142.82" y="741.30" width="4.60" height="7.60" fill="#4f73a8"/><rect x="151.18" y="741.30" width="4.60" height="7.60" fill="#4f73a8"/><rect x="159.54" y="741.30" width="4.60" height="7.60" fill="#4f73a8"/><rect x="167.90" y="741.30" width="4.60" height="7.60" fill="#4f73a8"/><rect x="176.26" y="741.30" width="4.60" height="7.60" fill="#6ab04c"/><rect x="184.62" y="741.30" width="4.60" height="7.60" fill="#6ab04c"/><rect x="192.98" y="741.30" width="4.60" height="7.60" fill="#6ab04c"/><rect x="201.34" y="741.30" width="4.60" height="7.60" fill="#6ab04c"/><text x="212.20" y="747.70" font-size="7.8" fill="#1a1a1a">subset</text><g><rect x="107.50" y="752.20" width="8.86" height="8.59" fill="#746e30"/><rect x="115.86" y="752.20" width="8.86" height="8.59" fill="#a39a37"/><rect x="124.22" y="752.20" width="8.86" height="8.59" fill="#8a8334"/><rect x="132.58" y="752.20" width="8.86" height="8.59" fill="#a39a37"/><rect x="140.94" y="752.20" width="8.86" height="8.59" fill="#565128"/><rect x="149.30" y="752.20" width="8.86" height="8.59" fill="#423f23"/><rect x="157.66" y="752.20" width="8.86" height="8.59" fill="#262432"/><rect x="166.02" y="752.20" width="8.86" height="8.59" fill="#262432"/><rect x="174.38" y="752.20" width="8.86" height="8.59" fill="#3b55a5"/><rect x="182.74" y="752.20" width="8.86" height="8.59" fill="#3b55a5"/><rect x="191.10" y="752.20" width="8.86" height="8.59" fill="#3b3767"/><rect x="199.46" y="752.20" width="8.36" height="8.59" fill="#3c4e9b"/><rect x="107.50" y="760.29" width="8.86" height="8.59" fill="#7e7732"/><rect x="115.86" y="760.29" width="8.86" height="8.59" fill="#4c4826"/><rect x="124.22" y="760.29" width="8.86" height="8.59" fill="#8a8334"/><rect x="132.58" y="760.29" width="8.86" height="8.59" fill="#b0a538"/><rect x="140.94" y="760.29" width="8.86" height="8.59" fill="#6a642d"/><rect x="149.30" y="760.29" width="8.86" height="8.59" fill="#1a1a18"/><rect x="157.66" y="760.29" width="8.86" height="8.59" fill="#383620"/><rect x="166.02" y="760.29" width="8.86" height="8.59" fill="#565128"/><rect x="174.38" y="760.29" width="8.86" height="8.59" fill="#3b55a5"/><rect x="182.74" y="760.29" width="8.86" height="8.59" fill="#3b55a5"/><rect x="191.10" y="760.29" width="8.86" height="8.59" fill="#3e3d78"/><rect x="199.46" y="760.29" width="8.36" height="8.59" fill="#343056"/><rect x="107.50" y="768.38" width="8.86" height="8.59" fill="#7e7732"/><rect x="115.86" y="768.38" width="8.86" height="8.59" fill="#8a8334"/><rect x="124.22" y="768.38" width="8.86" height="8.59" fill="#7e7732"/><rect x="132.58" y="768.38" width="8.86" height="8.59" fill="#8a8334"/><rect x="140.94" y="768.38" width="8.86" height="8.59" fill="#24231b"/><rect x="149.30" y="768.38" width="8.86" height="8.59" fill="#605b2b"/><rect x="157.66" y="768.38" width="8.86" height="8.59" fill="#2e2c1e"/><rect x="166.02" y="768.38" width="8.86" height="8.59" fill="#565128"/><rect x="174.38" y="768.38" width="8.86" height="8.59" fill="#3b52a0"/><rect x="182.74" y="768.38" width="8.86" height="8.59" fill="#3e3d78"/><rect x="191.10" y="768.38" width="8.86" height="8.59" fill="#312d4d"/><rect x="199.46" y="768.38" width="8.36" height="8.59" fill="#3b55a5"/><rect x="107.50" y="776.47" width="8.86" height="8.59" fill="#8a8334"/><rect x="115.86" y="776.47" width="8.86" height="8.59" fill="#bcb13a"/><rect x="124.22" y="776.47" width="8.86" height="8.59" fill="#8a8334"/><rect x="132.58" y="776.47" width="8.86" height="8.59" fill="#b0a538"/><rect x="140.94" y="776.47" width="8.86" height="8.59" fill="#262432"/><rect x="149.30" y="776.47" width="8.86" height="8.59" fill="#312d4d"/><rect x="157.66" y="776.47" width="8.86" height="8.59" fill="#2e2a44"/><rect x="166.02" y="776.47" width="8.86" height="8.59" fill="#312d4d"/><rect x="174.38" y="776.47" width="8.86" height="8.59" fill="#3b52a0"/><rect x="182.74" y="776.47" width="8.86" height="8.59" fill="#38345e"/><rect x="191.10" y="776.47" width="8.86" height="8.59" fill="#343056"/><rect x="199.46" y="776.47" width="8.36" height="8.59" fill="#3b55a5"/><rect x="107.50" y="784.56" width="8.86" height="8.59" fill="#a39a37"/><rect x="115.86" y="784.56" width="8.86" height="8.59" fill="#b0a538"/><rect x="124.22" y="784.56" width="8.86" height="8.59" fill="#b0a538"/><rect x="132.58" y="784.56" width="8.86" height="8.59" fill="#b0a538"/><rect x="140.94" y="784.56" width="8.86" height="8.59" fill="#343056"/><rect x="149.30" y="784.56" width="8.86" height="8.59" fill="#343056"/><rect x="157.66" y="784.56" width="8.86" height="8.59" fill="#3b3767"/><rect x="166.02" y="784.56" width="8.86" height="8.59" fill="#3b3767"/><rect x="174.38" y="784.56" width="8.86" height="8.59" fill="#3c4e9b"/><rect x="182.74" y="784.56" width="8.86" height="8.59" fill="#38345e"/><rect x="191.10" y="784.56" width="8.86" height="8.59" fill="#38345e"/><rect x="199.46" y="784.56" width="8.36" height="8.59" fill="#3c4e9b"/><rect x="107.50" y="792.65" width="8.86" height="8.59" fill="#383620"/><rect x="115.86" y="792.65" width="8.86" height="8.59" fill="#383620"/><rect x="124.22" y="792.65" width="8.86" height="8.59" fill="#f2e232"/><rect x="132.58" y="792.65" width="8.86" height="8.59" fill="#1a1a18"/><rect x="140.94" y="792.65" width="8.86" height="8.59" fill="#3e3a70"/><rect x="149.30" y="792.65" width="8.86" height="8.59" fill="#6a642d"/><rect x="157.66" y="792.65" width="8.86" height="8.59" fill="#262432"/><rect x="166.02" y="792.65" width="8.86" height="8.59" fill="#6a642d"/><rect x="174.38" y="792.65" width="8.86" height="8.59" fill="#1a1a18"/><rect x="182.74" y="792.65" width="8.86" height="8.59" fill="#1a1a18"/><rect x="191.10" y="792.65" width="8.86" height="8.59" fill="#3b52a0"/><rect x="199.46" y="792.65" width="8.36" height="8.59" fill="#3b52a0"/><rect x="107.50" y="800.74" width="8.86" height="8.59" fill="#423f23"/><rect x="115.86" y="800.74" width="8.86" height="8.59" fill="#a39a37"/><rect x="124.22" y="800.74" width="8.86" height="8.59" fill="#b0a538"/><rect x="132.58" y="800.74" width="8.86" height="8.59" fill="#8a8334"/><rect x="140.94" y="800.74" width="8.86" height="8.59" fill="#3b52a0"/><rect x="149.30" y="800.74" width="8.86" height="8.59" fill="#3c488e"/><rect x="157.66" y="800.74" width="8.86" height="8.59" fill="#3d4487"/><rect x="166.02" y="800.74" width="8.86" height="8.59" fill="#3c4e9b"/><rect x="174.38" y="800.74" width="8.86" height="8.59" fill="#bcb13a"/><rect x="182.74" y="800.74" width="8.86" height="8.59" fill="#1a1a18"/><rect x="191.10" y="800.74" width="8.86" height="8.59" fill="#38345e"/><rect x="199.46" y="800.74" width="8.36" height="8.59" fill="#2a273b"/><rect x="107.50" y="808.83" width="8.86" height="8.59" fill="#423f23"/><rect x="115.86" y="808.83" width="8.86" height="8.59" fill="#383620"/><rect x="124.22" y="808.83" width="8.86" height="8.59" fill="#f2e232"/><rect x="132.58" y="808.83" width="8.86" height="8.59" fill="#1a1a18"/><rect x="140.94" y="808.83" width="8.86" height="8.59" fill="#3b52a0"/><rect x="149.30" y="808.83" width="8.86" height="8.59" fill="#3b52a0"/><rect x="157.66" y="808.83" width="8.86" height="8.59" fill="#343056"/><rect x="166.02" y="808.83" width="8.86" height="8.59" fill="#38345e"/><rect x="174.38" y="808.83" width="8.86" height="8.59" fill="#746e30"/><rect x="182.74" y="808.83" width="8.86" height="8.59" fill="#4c4826"/><rect x="191.10" y="808.83" width="8.86" height="8.59" fill="#3b52a0"/><rect x="199.46" y="808.83" width="8.36" height="8.59" fill="#7e7732"/><rect x="107.50" y="816.92" width="8.86" height="8.59" fill="#38345e"/><rect x="115.86" y="816.92" width="8.86" height="8.59" fill="#3b52a0"/><rect x="124.22" y="816.92" width="8.86" height="8.59" fill="#3b52a0"/><rect x="132.58" y="816.92" width="8.86" height="8.59" fill="#3e3a70"/><rect x="140.94" y="816.92" width="8.86" height="8.59" fill="#7e7732"/><rect x="149.30" y="816.92" width="8.86" height="8.59" fill="#a39a37"/><rect x="157.66" y="816.92" width="8.86" height="8.59" fill="#a39a37"/><rect x="166.02" y="816.92" width="8.86" height="8.59" fill="#7e7732"/><rect x="174.38" y="816.92" width="8.86" height="8.59" fill="#262432"/><rect x="182.74" y="816.92" width="8.86" height="8.59" fill="#262432"/><rect x="191.10" y="816.92" width="8.86" height="8.59" fill="#423f23"/><rect x="199.46" y="816.92" width="8.36" height="8.59" fill="#565128"/><rect x="107.50" y="825.01" width="8.86" height="8.59" fill="#38345e"/><rect x="115.86" y="825.01" width="8.86" height="8.59" fill="#3b52a0"/><rect x="124.22" y="825.01" width="8.86" height="8.59" fill="#3b52a0"/><rect x="132.58" y="825.01" width="8.86" height="8.59" fill="#383620"/><rect x="140.94" y="825.01" width="8.86" height="8.59" fill="#c7bb38"/><rect x="149.30" y="825.01" width="8.86" height="8.59" fill="#e7d834"/><rect x="157.66" y="825.01" width="8.86" height="8.59" fill="#6a642d"/><rect x="166.02" y="825.01" width="8.86" height="8.59" fill="#7e7732"/><rect x="174.38" y="825.01" width="8.86" height="8.59" fill="#1a1a18"/><rect x="182.74" y="825.01" width="8.86" height="8.59" fill="#3c4e9b"/><rect x="191.10" y="825.01" width="8.86" height="8.59" fill="#1a1a18"/><rect x="199.46" y="825.01" width="8.36" height="8.59" fill="#2a273b"/><rect x="107.50" y="833.10" width="8.86" height="8.59" fill="#565128"/><rect x="115.86" y="833.10" width="8.86" height="8.59" fill="#262432"/><rect x="124.22" y="833.10" width="8.86" height="8.59" fill="#3c4e9b"/><rect x="132.58" y="833.10" width="8.86" height="8.59" fill="#3e3d78"/><rect x="140.94" y="833.10" width="8.86" height="8.59" fill="#a39a37"/><rect x="149.30" y="833.10" width="8.86" height="8.59" fill="#8a8334"/><rect x="157.66" y="833.10" width="8.86" height="8.59" fill="#423f23"/><rect x="166.02" y="833.10" width="8.86" height="8.59" fill="#7e7732"/><rect x="174.38" y="833.10" width="8.86" height="8.59" fill="#3b52a0"/><rect x="182.74" y="833.10" width="8.86" height="8.59" fill="#3c4e9b"/><rect x="191.10" y="833.10" width="8.86" height="8.59" fill="#4c4826"/><rect x="199.46" y="833.10" width="8.36" height="8.59" fill="#6a642d"/><rect x="107.50" y="841.19" width="8.86" height="8.59" fill="#1a1a18"/><rect x="115.86" y="841.19" width="8.86" height="8.59" fill="#3c4e9b"/><rect x="124.22" y="841.19" width="8.86" height="8.59" fill="#3c4b96"/><rect x="132.58" y="841.19" width="8.86" height="8.59" fill="#38345e"/><rect x="140.94" y="841.19" width="8.86" height="8.59" fill="#a39a37"/><rect x="149.30" y="841.19" width="8.86" height="8.59" fill="#a39a37"/><rect x="157.66" y="841.19" width="8.86" height="8.59" fill="#8a8334"/><rect x="166.02" y="841.19" width="8.86" height="8.59" fill="#978e35"/><rect x="174.38" y="841.19" width="8.86" height="8.59" fill="#3c4e9b"/><rect x="182.74" y="841.19" width="8.86" height="8.59" fill="#3e3a70"/><rect x="191.10" y="841.19" width="8.86" height="8.59" fill="#24231b"/><rect x="199.46" y="841.19" width="8.36" height="8.59" fill="#383620"/><rect x="107.50" y="849.28" width="8.86" height="8.59" fill="#565128"/><rect x="115.86" y="849.28" width="8.86" height="8.59" fill="#2a273b"/><rect x="124.22" y="849.28" width="8.86" height="8.59" fill="#262432"/><rect x="132.58" y="849.28" width="8.86" height="8.59" fill="#22202a"/><rect x="140.94" y="849.28" width="8.86" height="8.59" fill="#a39a37"/><rect x="149.30" y="849.28" width="8.86" height="8.59" fill="#978e35"/><rect x="157.66" y="849.28" width="8.86" height="8.59" fill="#423f23"/><rect x="166.02" y="849.28" width="8.86" height="8.59" fill="#978e35"/><rect x="174.38" y="849.28" width="8.86" height="8.59" fill="#3c4e9b"/><rect x="182.74" y="849.28" width="8.86" height="8.59" fill="#3b52a0"/><rect x="191.10" y="849.28" width="8.86" height="8.59" fill="#38345e"/><rect x="199.46" y="849.28" width="8.36" height="8.59" fill="#1a1a18"/><rect x="107.50" y="857.37" width="8.86" height="8.59" fill="#383620"/><rect x="115.86" y="857.37" width="8.86" height="8.59" fill="#2e2a44"/><rect x="124.22" y="857.37" width="8.86" height="8.59" fill="#2e2a44"/><rect x="132.58" y="857.37" width="8.86" height="8.59" fill="#3b52a0"/><rect x="140.94" y="857.37" width="8.86" height="8.59" fill="#8a8334"/><rect x="149.30" y="857.37" width="8.86" height="8.59" fill="#7e7732"/><rect x="157.66" y="857.37" width="8.86" height="8.59" fill="#423f23"/><rect x="166.02" y="857.37" width="8.86" height="8.59" fill="#3e3d78"/><rect x="174.38" y="857.37" width="8.86" height="8.59" fill="#22202a"/><rect x="182.74" y="857.37" width="8.86" height="8.59" fill="#423f23"/><rect x="191.10" y="857.37" width="8.86" height="8.59" fill="#3d4487"/><rect x="199.46" y="857.37" width="8.36" height="8.59" fill="#dcce35"/><rect x="107.50" y="865.46" width="8.86" height="8.59" fill="#262432"/><rect x="115.86" y="865.46" width="8.86" height="8.59" fill="#2e2a44"/><rect x="124.22" y="865.46" width="8.86" height="8.59" fill="#1a1a18"/><rect x="132.58" y="865.46" width="8.86" height="8.59" fill="#4c4826"/><rect x="140.94" y="865.46" width="8.86" height="8.59" fill="#3d417f"/><rect x="149.30" y="865.46" width="8.86" height="8.59" fill="#262432"/><rect x="157.66" y="865.46" width="8.86" height="8.59" fill="#3c4e9b"/><rect x="166.02" y="865.46" width="8.86" height="8.59" fill="#3c4e9b"/><rect x="174.38" y="865.46" width="8.86" height="8.59" fill="#c7bb38"/><rect x="182.74" y="865.46" width="8.86" height="8.59" fill="#e7d834"/><rect x="191.10" y="865.46" width="8.86" height="8.59" fill="#7e7732"/><rect x="199.46" y="865.46" width="8.36" height="8.59" fill="#343056"/><rect x="107.50" y="873.55" width="8.86" height="8.09" fill="#3c4e9b"/><rect x="115.86" y="873.55" width="8.86" height="8.09" fill="#423f23"/><rect x="124.22" y="873.55" width="8.86" height="8.09" fill="#3d417f"/><rect x="132.58" y="873.55" width="8.86" height="8.09" fill="#3c4e9b"/><rect x="140.94" y="873.55" width="8.86" height="8.09" fill="#22202a"/><rect x="149.30" y="873.55" width="8.86" height="8.09" fill="#38345e"/><rect x="157.66" y="873.55" width="8.86" height="8.09" fill="#1a1a18"/><rect x="166.02" y="873.55" width="8.86" height="8.09" fill="#1a1a18"/><rect x="174.38" y="873.55" width="8.86" height="8.09" fill="#c7bb38"/><rect x="182.74" y="873.55" width="8.86" height="8.09" fill="#a39a37"/><rect x="191.10" y="873.55" width="8.86" height="8.09" fill="#6a642d"/><rect x="199.46" y="873.55" width="8.36" height="8.09" fill="#6a642d"/></g><text x="212.2" y="758.80" font-size="8.3" fill="#1a1a1a" transform="translate(212.2 0) scale(0.88 1) translate(-212.2 0)">IL2RB</text><text x="212.2" y="766.89" font-size="8.3" fill="#1a1a1a" transform="translate(212.2 0) scale(0.88 1) translate(-212.2 0)">IL21R</text><text x="212.2" y="774.98" font-size="8.3" fill="#1a1a1a" transform="translate(212.2 0) scale(0.88 1) translate(-212.2 0)">IL18RAP</text><text x="212.2" y="783.07" font-size="8.3" fill="#1a1a1a" transform="translate(212.2 0) scale(0.88 1) translate(-212.2 0)">IL12RB2</text><text x="212.2" y="791.16" font-size="8.3" fill="#1a1a1a" transform="translate(212.2 0) scale(0.88 1) translate(-212.2 0)">IL18R1</text><text x="212.2" y="799.25" font-size="8.3" fill="#1a1a1a" transform="translate(212.2 0) scale(0.88 1) translate(-212.2 0)">IL15RA</text><text x="212.2" y="807.34" font-size="8.3" fill="#1a1a1a" transform="translate(212.2 0) scale(0.88 1) translate(-212.2 0)">IL10RA</text><text x="212.2" y="815.43" font-size="8.3" fill="#1a1a1a" transform="translate(212.2 0) scale(0.88 1) translate(-212.2 0)">IL15</text><text x="212.2" y="823.52" font-size="8.3" fill="#1a1a1a" transform="translate(212.2 0) scale(0.88 1) translate(-212.2 0)">TGFBR1</text><text x="212.2" y="831.61" font-size="8.3" fill="#1a1a1a" transform="translate(212.2 0) scale(0.88 1) translate(-212.2 0)">TGFB1</text><text x="212.2" y="839.70" font-size="8.3" fill="#1a1a1a" transform="translate(212.2 0) scale(0.88 1) translate(-212.2 0)">IL2RG</text><text x="212.2" y="847.79" font-size="8.3" fill="#1a1a1a" transform="translate(212.2 0) scale(0.88 1) translate(-212.2 0)">TGFBR3</text><text x="212.2" y="855.88" font-size="8.3" fill="#1a1a1a" transform="translate(212.2 0) scale(0.88 1) translate(-212.2 0)">IL12RB1</text><text x="212.2" y="863.97" font-size="8.3" fill="#1a1a1a" transform="translate(212.2 0) scale(0.88 1) translate(-212.2 0)">ARG2</text><text x="212.2" y="872.06" font-size="8.3" fill="#1a1a1a" transform="translate(212.2 0) scale(0.88 1) translate(-212.2 0)">IL10RB</text><text x="212.2" y="880.15" font-size="8.3" fill="#1a1a1a" transform="translate(212.2 0) scale(0.88 1) translate(-212.2 0)">PTGES</text><path d="M107.50 756.25H95.60V764.34H107.50M95.60 760.29H83.10V772.43H107.50M107.50 780.52H95.60V788.61H107.50M83.10 766.36H70.40V784.56H95.60M70.40 775.46H58.20V796.70H107.50M107.50 804.79H95.60V812.88H107.50M58.20 786.08H45.50V808.83H95.60M107.50 820.97H95.60V829.06H107.50M107.50 837.14H95.60V845.24H107.50M95.60 841.19H83.10V853.33H107.50M95.60 825.01H70.40V847.26H83.10M70.40 836.13H58.20V861.42H107.50M45.50 797.45H32.80V848.77H58.20M107.50 869.50H95.60V877.60H107.50M32.80 823.11H20.50V873.55H95.60M10.20 848.33H20.50" fill="none" stroke="#2a2a2a" stroke-width="1.1"/><rect x="107.60" y="886.50" width="99.80" height="6.50" fill="url(#cb)"/><line x1="107.60" y1="893.00" x2="107.60" y2="896.60" stroke="#2a2a2a" stroke-width="0.9"/><line x1="112.59" y1="893.00" x2="112.59" y2="895.00" stroke="#2a2a2a" stroke-width="0.9"/><line x1="117.58" y1="893.00" x2="117.58" y2="895.00" stroke="#2a2a2a" stroke-width="0.9"/><line x1="122.57" y1="893.00" x2="122.57" y2="895.00" stroke="#2a2a2a" stroke-width="0.9"/><line x1="127.56" y1="893.00" x2="127.56" y2="895.00" stroke="#2a2a2a" stroke-width="0.9"/><line x1="132.55" y1="893.00" x2="132.55" y2="896.60" stroke="#2a2a2a" stroke-width="0.9"/><line x1="137.54" y1="893.00" x2="137.54" y2="895.00" stroke="#2a2a2a" stroke-width="0.9"/><line x1="142.53" y1="893.00" x2="142.53" y2="895.00" stroke="#2a2a2a" stroke-width="0.9"/><line x1="147.52" y1="893.00" x2="147.52" y2="895.00" stroke="#2a2a2a" stroke-width="0.9"/><line x1="152.51" y1="893.00" x2="152.51" y2="895.00" stroke="#2a2a2a" stroke-width="0.9"/><line x1="157.50" y1="893.00" x2="157.50" y2="896.60" stroke="#2a2a2a" stroke-width="0.9"/><line x1="162.49" y1="893.00" x2="162.49" y2="895.00" stroke="#2a2a2a" stroke-width="0.9"/><line x1="167.48" y1="893.00" x2="167.48" y2="895.00" stroke="#2a2a2a" stroke-width="0.9"/><line x1="172.47" y1="893.00" x2="172.47" y2="895.00" stroke="#2a2a2a" stroke-width="0.9"/><line x1="177.46" y1="893.00" x2="177.46" y2="895.00" stroke="#2a2a2a" stroke-width="0.9"/><line x1="182.45" y1="893.00" x2="182.45" y2="896.60" stroke="#2a2a2a" stroke-width="0.9"/><line x1="187.44" y1="893.00" x2="187.44" y2="895.00" stroke="#2a2a2a" stroke-width="0.9"/><line x1="192.43" y1="893.00" x2="192.43" y2="895.00" stroke="#2a2a2a" stroke-width="0.9"/><line x1="197.42" y1="893.00" x2="197.42" y2="895.00" stroke="#2a2a2a" stroke-width="0.9"/><line x1="202.41" y1="893.00" x2="202.41" y2="895.00" stroke="#2a2a2a" stroke-width="0.9"/><line x1="207.40" y1="893.00" x2="207.40" y2="896.60" stroke="#2a2a2a" stroke-width="0.9"/><text x="107.60" y="908.50" font-size="8.8" text-anchor="middle" fill="#1a1a1a">-2</text><text x="157.50" y="908.50" font-size="8.8" text-anchor="middle" fill="#1a1a1a">0</text><text x="207.40" y="908.50" font-size="8.8" text-anchor="middle" fill="#1a1a1a">2</text><line x1="110.28" y1="885.30" x2="113.08" y2="885.30" stroke="#c4c4c4" stroke-width="0.9"/><line x1="118.64" y1="885.30" x2="121.44" y2="885.30" stroke="#c4c4c4" stroke-width="0.9"/><line x1="127.00" y1="885.30" x2="129.80" y2="885.30" stroke="#c4c4c4" stroke-width="0.9"/><line x1="135.36" y1="885.30" x2="138.16" y2="885.30" stroke="#c4c4c4" stroke-width="0.9"/><line x1="143.72" y1="885.30" x2="146.52" y2="885.30" stroke="#c4c4c4" stroke-width="0.9"/><line x1="152.08" y1="885.30" x2="154.88" y2="885.30" stroke="#c4c4c4" stroke-width="0.9"/><line x1="160.44" y1="885.30" x2="163.24" y2="885.30" stroke="#c4c4c4" stroke-width="0.9"/><line x1="168.80" y1="885.30" x2="171.60" y2="885.30" stroke="#c4c4c4" stroke-width="0.9"/><line x1="177.16" y1="885.30" x2="179.96" y2="885.30" stroke="#c4c4c4" stroke-width="0.9"/><line x1="185.52" y1="885.30" x2="188.32" y2="885.30" stroke="#c4c4c4" stroke-width="0.9"/><line x1="193.88" y1="885.30" x2="196.68" y2="885.30" stroke="#c4c4c4" stroke-width="0.9"/><rect x="0.00" y="0.00" width="520.00" height="1.40" fill="#000"/><rect x="0.00" y="0.00" width="1.90" height="921.00" fill="#5a5a5a"/><rect x="518.20" y="0.00" width="1.80" height="921.00" fill="#5a5a5a"/><rect x="0.00" y="919.40" width="520.00" height="1.60" fill="#5a5a5a"/>
</svg></body></html>
